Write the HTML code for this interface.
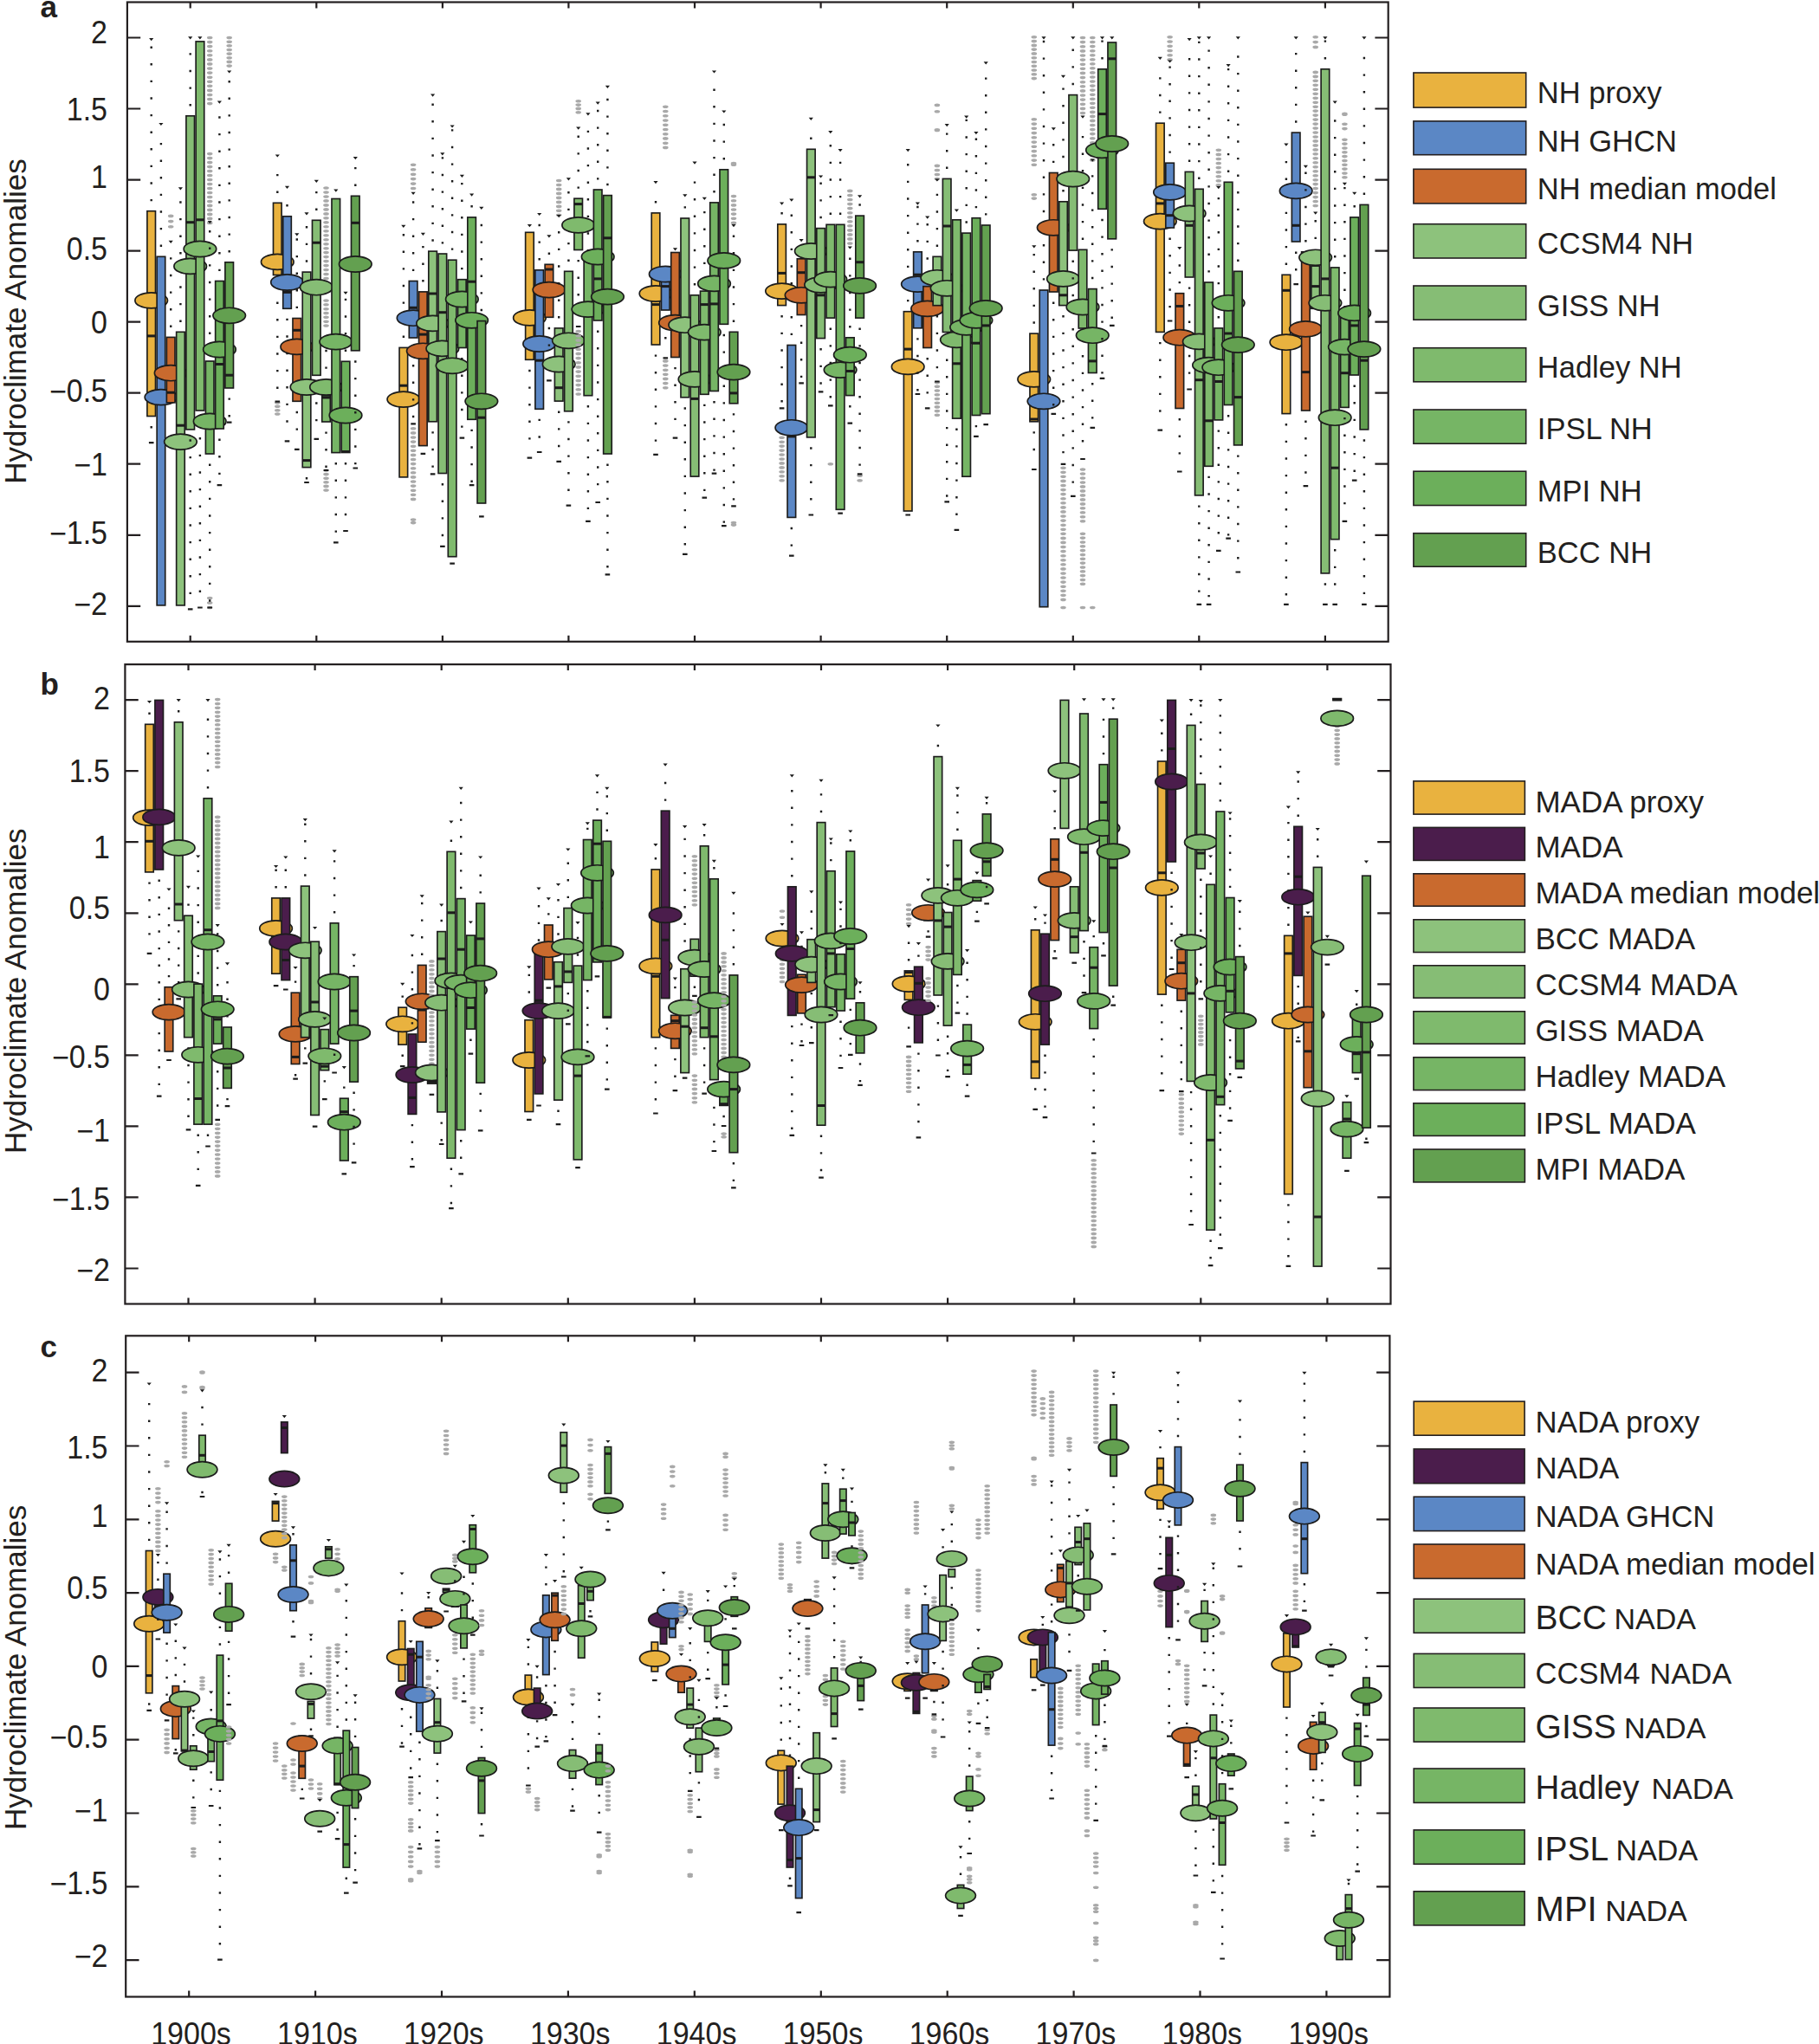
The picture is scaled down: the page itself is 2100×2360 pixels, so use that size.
<!DOCTYPE html>
<html><head><meta charset="utf-8"><style>
html,body{margin:0;padding:0;background:#fff;}
svg{display:block;}
.t{font-family:"Liberation Sans", Arial, sans-serif;font-size:34px;fill:#231f20;}
.yl{font-family:"Liberation Sans", Arial, sans-serif;font-size:35px;fill:#231f20;}
.lg{font-family:"Liberation Sans", Arial, sans-serif;font-size:34.5px;fill:#231f20;}
.pl{font-family:"Liberation Sans", Arial, sans-serif;font-size:35px;font-weight:bold;fill:#231f20;}
.dk{fill:#1c1c1c;}.gr{fill:#a9a9a9;}.bx{stroke:#1c1c1c;stroke-width:1.65px;}.el{stroke:#1c1c1c;stroke-width:1.7px;}.cp{fill:#e9b23f;}.cb{fill:#5b87c5;}.co{fill:#c96a2e;}.cm{fill:#4b1d4c;}.c1{fill:#8dc27c;}.c2{fill:#86bd75;}.c3{fill:#7fba6d;}.c4{fill:#76b565;}.c5{fill:#6caf5b;}.c6{fill:#63a050;}
</style></head><body>
<svg width="2100" height="2360" viewBox="0 0 2100 2360">
<rect x="146.9" y="2.5" width="1455.8" height="738.3" fill="none" stroke="#231f20" stroke-width="2.2"/>
<path d="M146.9 43.5h15.3M1602.7 43.5h-15.3" stroke="#231f20" stroke-width="2.2"/>
<text transform="translate(124.0 49.8) scale(1 1.06)" text-anchor="end" class="t">2</text>
<path d="M146.9 125.5h15.3M1602.7 125.5h-15.3" stroke="#231f20" stroke-width="2.2"/>
<text transform="translate(124.0 139.3) scale(1 1.06)" text-anchor="end" class="t">1.5</text>
<path d="M146.9 207.6h15.3M1602.7 207.6h-15.3" stroke="#231f20" stroke-width="2.2"/>
<text transform="translate(124.0 217.4) scale(1 1.06)" text-anchor="end" class="t">1</text>
<path d="M146.9 289.6h15.3M1602.7 289.6h-15.3" stroke="#231f20" stroke-width="2.2"/>
<text transform="translate(124.0 300.2) scale(1 1.06)" text-anchor="end" class="t">0.5</text>
<path d="M146.9 371.6h15.3M1602.7 371.6h-15.3" stroke="#231f20" stroke-width="2.2"/>
<text transform="translate(124.0 384.9) scale(1 1.06)" text-anchor="end" class="t">0</text>
<path d="M146.9 453.7h15.3M1602.7 453.7h-15.3" stroke="#231f20" stroke-width="2.2"/>
<text transform="translate(124.0 463.7) scale(1 1.06)" text-anchor="end" class="t">−0.5</text>
<path d="M146.9 535.7h15.3M1602.7 535.7h-15.3" stroke="#231f20" stroke-width="2.2"/>
<text transform="translate(124.0 549.1) scale(1 1.06)" text-anchor="end" class="t">−1</text>
<path d="M146.9 617.8h15.3M1602.7 617.8h-15.3" stroke="#231f20" stroke-width="2.2"/>
<text transform="translate(124.0 627.6) scale(1 1.06)" text-anchor="end" class="t">−1.5</text>
<path d="M146.9 699.8h15.3M1602.7 699.8h-15.3" stroke="#231f20" stroke-width="2.2"/>
<text transform="translate(124.0 709.7) scale(1 1.06)" text-anchor="end" class="t">−2</text>
<path d="M219.7 2.5v7M219.7 740.8v-7" stroke="#231f20" stroke-width="2.2"/>
<path d="M365.3 2.5v7M365.3 740.8v-7" stroke="#231f20" stroke-width="2.2"/>
<path d="M510.9 2.5v7M510.9 740.8v-7" stroke="#231f20" stroke-width="2.2"/>
<path d="M656.4 2.5v7M656.4 740.8v-7" stroke="#231f20" stroke-width="2.2"/>
<path d="M802.0 2.5v7M802.0 740.8v-7" stroke="#231f20" stroke-width="2.2"/>
<path d="M947.6 2.5v7M947.6 740.8v-7" stroke="#231f20" stroke-width="2.2"/>
<path d="M1093.2 2.5v7M1093.2 740.8v-7" stroke="#231f20" stroke-width="2.2"/>
<path d="M1238.8 2.5v7M1238.8 740.8v-7" stroke="#231f20" stroke-width="2.2"/>
<path d="M1384.3 2.5v7M1384.3 740.8v-7" stroke="#231f20" stroke-width="2.2"/>
<path d="M1529.9 2.5v7M1529.9 740.8v-7" stroke="#231f20" stroke-width="2.2"/>
<text transform="translate(30 371.0) rotate(-90)" text-anchor="middle" class="yl">Hydroclimate Anomalies</text>
<rect x="144.4" y="767.1" width="1461.1" height="738.4" fill="none" stroke="#231f20" stroke-width="2.2"/>
<path d="M144.4 808.1h15.3M1605.5 808.1h-15.3" stroke="#231f20" stroke-width="2.2"/>
<text transform="translate(127.0 819.0) scale(1 1.06)" text-anchor="end" class="t">2</text>
<path d="M144.4 890.2h15.3M1605.5 890.2h-15.3" stroke="#231f20" stroke-width="2.2"/>
<text transform="translate(127.0 903.2) scale(1 1.06)" text-anchor="end" class="t">1.5</text>
<path d="M144.4 972.2h15.3M1605.5 972.2h-15.3" stroke="#231f20" stroke-width="2.2"/>
<text transform="translate(127.0 990.9) scale(1 1.06)" text-anchor="end" class="t">1</text>
<path d="M144.4 1054.3h15.3M1605.5 1054.3h-15.3" stroke="#231f20" stroke-width="2.2"/>
<text transform="translate(127.0 1061.1) scale(1 1.06)" text-anchor="end" class="t">0.5</text>
<path d="M144.4 1136.3h15.3M1605.5 1136.3h-15.3" stroke="#231f20" stroke-width="2.2"/>
<text transform="translate(127.0 1154.6) scale(1 1.06)" text-anchor="end" class="t">0</text>
<path d="M144.4 1218.3h15.3M1605.5 1218.3h-15.3" stroke="#231f20" stroke-width="2.2"/>
<text transform="translate(127.0 1232.9) scale(1 1.06)" text-anchor="end" class="t">−0.5</text>
<path d="M144.4 1300.4h15.3M1605.5 1300.4h-15.3" stroke="#231f20" stroke-width="2.2"/>
<text transform="translate(127.0 1318.4) scale(1 1.06)" text-anchor="end" class="t">−1</text>
<path d="M144.4 1382.4h15.3M1605.5 1382.4h-15.3" stroke="#231f20" stroke-width="2.2"/>
<text transform="translate(127.0 1396.5) scale(1 1.06)" text-anchor="end" class="t">−1.5</text>
<path d="M144.4 1464.5h15.3M1605.5 1464.5h-15.3" stroke="#231f20" stroke-width="2.2"/>
<text transform="translate(127.0 1479.2) scale(1 1.06)" text-anchor="end" class="t">−2</text>
<path d="M217.5 767.1v7M217.5 1505.5v-7" stroke="#231f20" stroke-width="2.2"/>
<path d="M363.6 767.1v7M363.6 1505.5v-7" stroke="#231f20" stroke-width="2.2"/>
<path d="M509.7 767.1v7M509.7 1505.5v-7" stroke="#231f20" stroke-width="2.2"/>
<path d="M655.8 767.1v7M655.8 1505.5v-7" stroke="#231f20" stroke-width="2.2"/>
<path d="M801.9 767.1v7M801.9 1505.5v-7" stroke="#231f20" stroke-width="2.2"/>
<path d="M948.0 767.1v7M948.0 1505.5v-7" stroke="#231f20" stroke-width="2.2"/>
<path d="M1094.1 767.1v7M1094.1 1505.5v-7" stroke="#231f20" stroke-width="2.2"/>
<path d="M1240.2 767.1v7M1240.2 1505.5v-7" stroke="#231f20" stroke-width="2.2"/>
<path d="M1386.3 767.1v7M1386.3 1505.5v-7" stroke="#231f20" stroke-width="2.2"/>
<path d="M1532.4 767.1v7M1532.4 1505.5v-7" stroke="#231f20" stroke-width="2.2"/>
<text transform="translate(30 1144.3) rotate(-90)" text-anchor="middle" class="yl">Hydroclimate Anomalies</text>
<rect x="145.2" y="1542.3" width="1459.2" height="763.2" fill="none" stroke="#231f20" stroke-width="2.2"/>
<path d="M145.2 1584.7h15.3M1604.4 1584.7h-15.3" stroke="#231f20" stroke-width="2.2"/>
<text transform="translate(124.5 1594.6) scale(1 1.06)" text-anchor="end" class="t">2</text>
<path d="M145.2 1669.5h15.3M1604.4 1669.5h-15.3" stroke="#231f20" stroke-width="2.2"/>
<text transform="translate(124.5 1683.6) scale(1 1.06)" text-anchor="end" class="t">1.5</text>
<path d="M145.2 1754.3h15.3M1604.4 1754.3h-15.3" stroke="#231f20" stroke-width="2.2"/>
<text transform="translate(124.5 1762.5) scale(1 1.06)" text-anchor="end" class="t">1</text>
<path d="M145.2 1839.1h15.3M1604.4 1839.1h-15.3" stroke="#231f20" stroke-width="2.2"/>
<text transform="translate(124.5 1846.3) scale(1 1.06)" text-anchor="end" class="t">0.5</text>
<path d="M145.2 1923.9h15.3M1604.4 1923.9h-15.3" stroke="#231f20" stroke-width="2.2"/>
<text transform="translate(124.5 1937.4) scale(1 1.06)" text-anchor="end" class="t">0</text>
<path d="M145.2 2008.7h15.3M1604.4 2008.7h-15.3" stroke="#231f20" stroke-width="2.2"/>
<text transform="translate(124.5 2018.2) scale(1 1.06)" text-anchor="end" class="t">−0.5</text>
<path d="M145.2 2093.5h15.3M1604.4 2093.5h-15.3" stroke="#231f20" stroke-width="2.2"/>
<text transform="translate(124.5 2103.4) scale(1 1.06)" text-anchor="end" class="t">−1</text>
<path d="M145.2 2178.3h15.3M1604.4 2178.3h-15.3" stroke="#231f20" stroke-width="2.2"/>
<text transform="translate(124.5 2187.2) scale(1 1.06)" text-anchor="end" class="t">−1.5</text>
<path d="M145.2 2263.1h15.3M1604.4 2263.1h-15.3" stroke="#231f20" stroke-width="2.2"/>
<text transform="translate(124.5 2271.0) scale(1 1.06)" text-anchor="end" class="t">−2</text>
<path d="M218.2 1542.3v7M218.2 2305.5v-7" stroke="#231f20" stroke-width="2.2"/>
<path d="M364.1 1542.3v7M364.1 2305.5v-7" stroke="#231f20" stroke-width="2.2"/>
<path d="M510.0 1542.3v7M510.0 2305.5v-7" stroke="#231f20" stroke-width="2.2"/>
<path d="M655.9 1542.3v7M655.9 2305.5v-7" stroke="#231f20" stroke-width="2.2"/>
<path d="M801.8 1542.3v7M801.8 2305.5v-7" stroke="#231f20" stroke-width="2.2"/>
<path d="M947.8 1542.3v7M947.8 2305.5v-7" stroke="#231f20" stroke-width="2.2"/>
<path d="M1093.7 1542.3v7M1093.7 2305.5v-7" stroke="#231f20" stroke-width="2.2"/>
<path d="M1239.6 1542.3v7M1239.6 2305.5v-7" stroke="#231f20" stroke-width="2.2"/>
<path d="M1385.5 1542.3v7M1385.5 2305.5v-7" stroke="#231f20" stroke-width="2.2"/>
<path d="M1531.4 1542.3v7M1531.4 2305.5v-7" stroke="#231f20" stroke-width="2.2"/>
<text transform="translate(30 1925.4) rotate(-90)" text-anchor="middle" class="yl">Hydroclimate Anomalies</text>
<text x="46.5" y="19.8" class="pl">a</text>
<text x="46.5" y="801.5" class="pl">b</text>
<text x="46.5" y="1566.8" class="pl">c</text>
<text transform="translate(220.5 2360.5) scale(1 1.07)" text-anchor="middle" class="t">1900s</text>
<text transform="translate(366.4 2360.5) scale(1 1.07)" text-anchor="middle" class="t">1910s</text>
<text transform="translate(512.3 2360.5) scale(1 1.07)" text-anchor="middle" class="t">1920s</text>
<text transform="translate(658.2 2360.5) scale(1 1.07)" text-anchor="middle" class="t">1930s</text>
<text transform="translate(804.1 2360.5) scale(1 1.07)" text-anchor="middle" class="t">1940s</text>
<text transform="translate(950.1 2360.5) scale(1 1.07)" text-anchor="middle" class="t">1950s</text>
<text transform="translate(1096.0 2360.5) scale(1 1.07)" text-anchor="middle" class="t">1960s</text>
<text transform="translate(1241.9 2360.5) scale(1 1.07)" text-anchor="middle" class="t">1970s</text>
<text transform="translate(1387.8 2360.5) scale(1 1.07)" text-anchor="middle" class="t">1980s</text>
<text transform="translate(1533.7 2360.5) scale(1 1.07)" text-anchor="middle" class="t">1990s</text>
<rect x="1631.9" y="84.0" width="129.8" height="40.1" fill="#e9b23f" stroke="#231f20" stroke-width="1.6"/>
<text x="1774.8" y="119.3" class="lg" style="font-size:34.5px">NH proxy</text>
<rect x="1631.9" y="139.9" width="129.8" height="38.8" fill="#5b87c5" stroke="#231f20" stroke-width="1.6"/>
<text x="1774.8" y="175" class="lg" style="font-size:34.5px">NH GHCN</text>
<rect x="1631.9" y="195.3" width="129.8" height="39.6" fill="#c96a2e" stroke="#231f20" stroke-width="1.6"/>
<text x="1774.8" y="230.2" class="lg" style="font-size:34.5px">NH median model</text>
<rect x="1631.9" y="258.7" width="129.8" height="39.3" fill="#8dc27c" stroke="#231f20" stroke-width="1.6"/>
<text x="1774.8" y="293" class="lg" style="font-size:34.5px">CCSM4 NH</text>
<rect x="1631.9" y="330.0" width="129.8" height="39.2" fill="#86bd75" stroke="#231f20" stroke-width="1.6"/>
<text x="1774.8" y="364.8" class="lg" style="font-size:34.5px">GISS NH</text>
<rect x="1631.9" y="401.7" width="129.8" height="39.1" fill="#7fba6d" stroke="#231f20" stroke-width="1.6"/>
<text x="1774.8" y="436" class="lg" style="font-size:34.5px">Hadley NH</text>
<rect x="1631.9" y="473.0" width="129.8" height="39.2" fill="#76b565" stroke="#231f20" stroke-width="1.6"/>
<text x="1774.8" y="507.3" class="lg" style="font-size:34.5px">IPSL NH</text>
<rect x="1631.9" y="544.2" width="129.8" height="39.3" fill="#6caf5b" stroke="#231f20" stroke-width="1.6"/>
<text x="1774.8" y="578.5" class="lg" style="font-size:34.5px">MPI NH</text>
<rect x="1631.9" y="615.7" width="129.8" height="38.5" fill="#63a050" stroke="#231f20" stroke-width="1.6"/>
<text x="1774.8" y="649.7" class="lg" style="font-size:34.5px">BCC NH</text>
<rect x="1631.9" y="901.9" width="128.5" height="38.2" fill="#e9b23f" stroke="#231f20" stroke-width="1.6"/>
<text x="1772.4" y="937.5" class="lg" style="font-size:35px">MADA proxy</text>
<rect x="1631.9" y="955.4" width="128.5" height="38.0" fill="#4b1d4c" stroke="#231f20" stroke-width="1.6"/>
<text x="1772.4" y="989.7" class="lg" style="font-size:35px">MADA</text>
<rect x="1631.9" y="1008.8" width="128.5" height="37.4" fill="#c96a2e" stroke="#231f20" stroke-width="1.6"/>
<text x="1772.4" y="1043" class="lg" style="font-size:35px">MADA median model</text>
<rect x="1631.9" y="1061.8" width="128.5" height="37.7" fill="#8dc27c" stroke="#231f20" stroke-width="1.6"/>
<text x="1772.4" y="1095.8" class="lg" style="font-size:35px">BCC MADA</text>
<rect x="1631.9" y="1114.8" width="128.5" height="37.4" fill="#86bd75" stroke="#231f20" stroke-width="1.6"/>
<text x="1772.4" y="1148.6" class="lg" style="font-size:35px">CCSM4 MADA</text>
<rect x="1631.9" y="1167.8" width="128.5" height="37.4" fill="#7fba6d" stroke="#231f20" stroke-width="1.6"/>
<text x="1772.4" y="1202.1" class="lg" style="font-size:35px">GISS MADA</text>
<rect x="1631.9" y="1220.8" width="128.5" height="37.8" fill="#76b565" stroke="#231f20" stroke-width="1.6"/>
<text x="1772.4" y="1255.4" class="lg" style="font-size:35px">Hadley MADA</text>
<rect x="1631.9" y="1273.8" width="128.5" height="37.6" fill="#6caf5b" stroke="#231f20" stroke-width="1.6"/>
<text x="1772.4" y="1308.7" class="lg" style="font-size:35px">IPSL MADA</text>
<rect x="1631.9" y="1327.0" width="128.5" height="37.9" fill="#63a050" stroke="#231f20" stroke-width="1.6"/>
<text x="1772.4" y="1361.8" class="lg" style="font-size:35px">MPI MADA</text>
<rect x="1632.2" y="1618.1" width="127.9" height="39.1" fill="#e9b23f" stroke="#231f20" stroke-width="1.6"/>
<text x="1772.6" y="1653.8" class="lg" style="font-size:34.8px">NADA proxy</text>
<rect x="1632.2" y="1673.0" width="127.9" height="39.7" fill="#4b1d4c" stroke="#231f20" stroke-width="1.6"/>
<text x="1772.6" y="1707.3" class="lg" style="font-size:34.8px">NADA</text>
<rect x="1632.2" y="1728.2" width="127.9" height="39.4" fill="#5b87c5" stroke="#231f20" stroke-width="1.6"/>
<text x="1772.6" y="1762.8" class="lg" style="font-size:34.8px">NADA GHCN</text>
<rect x="1632.2" y="1783.0" width="127.9" height="39.5" fill="#c96a2e" stroke="#231f20" stroke-width="1.6"/>
<text x="1772.6" y="1817.7" class="lg" style="font-size:34.8px">NADA median model</text>
<rect x="1632.2" y="1846.2" width="127.9" height="39.1" fill="#8dc27c" stroke="#231f20" stroke-width="1.6"/>
<text x="1772.6" y="1880.5" class="lg" style="font-size:39px">BCC</text>
<text x="1863.5" y="1880.5" class="lg" style="font-size:34px">NADA</text>
<rect x="1632.2" y="1909.4" width="127.9" height="39.1" fill="#86bd75" stroke="#231f20" stroke-width="1.6"/>
<text x="1772.6" y="1944.2" class="lg" style="font-size:34.5px">CCSM4</text>
<text x="1904.6" y="1944.2" class="lg" style="font-size:34px">NADA</text>
<rect x="1632.2" y="1972.0" width="127.9" height="39.1" fill="#7fba6d" stroke="#231f20" stroke-width="1.6"/>
<text x="1772.6" y="2006.6" class="lg" style="font-size:39px">GISS</text>
<text x="1874.9" y="2006.6" class="lg" style="font-size:34px">NADA</text>
<rect x="1632.2" y="2042.0" width="127.9" height="39.4" fill="#76b565" stroke="#231f20" stroke-width="1.6"/>
<text x="1772.6" y="2076.9" class="lg" style="font-size:38.5px">Hadley</text>
<text x="1906.5" y="2076.9" class="lg" style="font-size:34px">NADA</text>
<rect x="1632.2" y="2112.9" width="127.9" height="39.4" fill="#6caf5b" stroke="#231f20" stroke-width="1.6"/>
<text x="1772.6" y="2147.5" class="lg" style="font-size:39px">IPSL</text>
<text x="1865.6" y="2147.5" class="lg" style="font-size:34px">NADA</text>
<rect x="1632.2" y="2183.8" width="127.9" height="39.1" fill="#63a050" stroke="#231f20" stroke-width="1.6"/>
<text x="1772.6" y="2218.4" class="lg" style="font-size:40px">MPI</text>
<text x="1853.2" y="2218.4" class="lg" style="font-size:34px">NADA</text>
<g><path class="dk" d="M173.5 229.9h2.4v2.4h-2.4zM173.5 210.3h2.4v2.4h-2.4zM173.5 190.7h2.4v2.4h-2.4zM173.5 171.1h2.4v2.4h-2.4zM173.5 151.5h2.4v2.4h-2.4zM173.5 131.9h2.4v2.4h-2.4zM173.5 112.3h2.4v2.4h-2.4zM173.5 92.7h2.4v2.4h-2.4zM173.5 73.1h2.4v2.4h-2.4zM173.5 53.5h2.4v2.4h-2.4zM172.1 44.0h5.2l-2.6 3.2zM173.5 492.0h2.4v2.4h-2.4zM171.9 510.1h5.6v2.2h-5.6z"/>
<rect class="bx cp" x="169.89" y="243.7" width="9.60" height="236.8"/>
<rect class="dk" x="169.89" y="386.4" width="9.60" height="3"/>
<ellipse class="el cp" cx="174.69" cy="346.9" rx="18.80" ry="9.05"/>
<path class="dk" d="M184.7 282.5h2.4v2.4h-2.4zM184.7 262.9h2.4v2.4h-2.4zM184.7 243.3h2.4v2.4h-2.4zM184.7 223.7h2.4v2.4h-2.4zM184.7 204.1h2.4v2.4h-2.4zM184.7 184.5h2.4v2.4h-2.4zM184.7 164.9h2.4v2.4h-2.4zM183.3 141.9h5.2l-2.6 3.2z"/>
<rect class="bx cb" x="181.14" y="296.3" width="9.60" height="402.6"/>
<ellipse class="el cb" cx="185.94" cy="458.6" rx="18.80" ry="9.05"/>
<path class="gr" d="M193.9 249.4a3.3 1.8 0 1 0 6.6 0a3.3 1.8 0 1 0-6.6 0zM193.9 255.6a3.3 1.8 0 1 0 6.6 0a3.3 1.8 0 1 0-6.6 0zM193.9 261.7a3.3 1.8 0 1 0 6.6 0a3.3 1.8 0 1 0-6.6 0z"/>
<path class="dk" d="M196.0 375.6h2.4v2.4h-2.4zM196.0 356.0h2.4v2.4h-2.4zM196.0 336.4h2.4v2.4h-2.4zM196.0 316.8h2.4v2.4h-2.4zM196.0 297.2h2.4v2.4h-2.4zM194.6 277.8h5.2l-2.6 3.2z"/>
<rect class="bx co" x="192.39" y="389.4" width="9.60" height="75.5"/>
<rect class="dk" x="192.39" y="451.7" width="9.60" height="3"/>
<ellipse class="el co" cx="197.19" cy="430.7" rx="18.80" ry="9.05"/>
<path class="dk" d="M207.2 369.5h2.4v2.4h-2.4zM207.2 349.9h2.4v2.4h-2.4zM207.2 330.3h2.4v2.4h-2.4zM207.2 310.7h2.4v2.4h-2.4zM207.2 291.1h2.4v2.4h-2.4zM207.2 271.5h2.4v2.4h-2.4zM207.2 251.9h2.4v2.4h-2.4zM207.2 232.3h2.4v2.4h-2.4zM205.8 216.2h5.2l-2.6 3.2z"/>
<rect class="bx c1" x="203.64" y="383.3" width="9.60" height="315.6"/>
<rect class="dk" x="203.64" y="489.7" width="9.60" height="3"/>
<ellipse class="el c1" cx="208.44" cy="510.1" rx="18.80" ry="9.05"/>
<path class="dk" d="M218.5 120.0h2.4v2.4h-2.4zM218.5 100.4h2.4v2.4h-2.4zM218.5 80.8h2.4v2.4h-2.4zM218.5 61.2h2.4v2.4h-2.4zM217.1 42.2h5.2l-2.6 3.2zM218.5 507.3h2.4v2.4h-2.4zM218.5 526.9h2.4v2.4h-2.4zM218.5 546.5h2.4v2.4h-2.4zM218.5 566.1h2.4v2.4h-2.4zM218.5 585.7h2.4v2.4h-2.4zM218.5 605.3h2.4v2.4h-2.4zM218.5 624.9h2.4v2.4h-2.4zM218.5 644.5h2.4v2.4h-2.4zM218.5 664.1h2.4v2.4h-2.4zM218.5 683.7h2.4v2.4h-2.4zM216.9 702.2h5.6v2.2h-5.6z"/>
<rect class="bx c2" x="214.89" y="133.8" width="9.60" height="362.1"/>
<rect class="dk" x="214.89" y="255.2" width="9.60" height="3"/>
<ellipse class="el c2" cx="219.69" cy="307.4" rx="18.80" ry="9.05"/>
<path class="dk" d="M228.3 42.2h5.2l-2.6 3.2zM229.7 485.5h2.4v2.4h-2.4zM229.7 505.1h2.4v2.4h-2.4zM229.7 524.7h2.4v2.4h-2.4zM229.7 544.3h2.4v2.4h-2.4zM229.7 563.9h2.4v2.4h-2.4zM229.7 583.5h2.4v2.4h-2.4zM229.7 603.1h2.4v2.4h-2.4zM229.7 622.7h2.4v2.4h-2.4zM229.7 642.3h2.4v2.4h-2.4zM229.7 661.9h2.4v2.4h-2.4zM229.7 681.5h2.4v2.4h-2.4zM228.1 700.4h5.6v2.2h-5.6z"/>
<rect class="bx c3" x="226.14" y="47.9" width="9.60" height="426.1"/>
<rect class="dk" x="226.14" y="252.3" width="9.60" height="3"/>
<ellipse class="el c3" cx="230.94" cy="287.5" rx="18.80" ry="9.05"/>
<path class="gr" d="M238.9 43.5a3.3 1.8 0 1 0 6.6 0a3.3 1.8 0 1 0-6.6 0zM238.9 48.6a3.3 1.8 0 1 0 6.6 0a3.3 1.8 0 1 0-6.6 0zM238.9 53.6a3.3 1.8 0 1 0 6.6 0a3.3 1.8 0 1 0-6.6 0zM238.9 58.7a3.3 1.8 0 1 0 6.6 0a3.3 1.8 0 1 0-6.6 0zM238.9 63.8a3.3 1.8 0 1 0 6.6 0a3.3 1.8 0 1 0-6.6 0zM238.9 68.9a3.3 1.8 0 1 0 6.6 0a3.3 1.8 0 1 0-6.6 0zM238.9 73.9a3.3 1.8 0 1 0 6.6 0a3.3 1.8 0 1 0-6.6 0zM238.9 79.0a3.3 1.8 0 1 0 6.6 0a3.3 1.8 0 1 0-6.6 0zM238.9 84.1a3.3 1.8 0 1 0 6.6 0a3.3 1.8 0 1 0-6.6 0zM238.9 89.2a3.3 1.8 0 1 0 6.6 0a3.3 1.8 0 1 0-6.6 0zM238.9 94.2a3.3 1.8 0 1 0 6.6 0a3.3 1.8 0 1 0-6.6 0zM238.9 99.3a3.3 1.8 0 1 0 6.6 0a3.3 1.8 0 1 0-6.6 0zM238.9 104.4a3.3 1.8 0 1 0 6.6 0a3.3 1.8 0 1 0-6.6 0zM238.9 109.5a3.3 1.8 0 1 0 6.6 0a3.3 1.8 0 1 0-6.6 0zM238.9 114.5a3.3 1.8 0 1 0 6.6 0a3.3 1.8 0 1 0-6.6 0zM238.9 119.6a3.3 1.8 0 1 0 6.6 0a3.3 1.8 0 1 0-6.6 0zM238.9 177.6a3.3 1.8 0 1 0 6.6 0a3.3 1.8 0 1 0-6.6 0zM238.9 182.6a3.3 1.8 0 1 0 6.6 0a3.3 1.8 0 1 0-6.6 0zM238.9 187.6a3.3 1.8 0 1 0 6.6 0a3.3 1.8 0 1 0-6.6 0zM238.9 192.6a3.3 1.8 0 1 0 6.6 0a3.3 1.8 0 1 0-6.6 0zM238.9 197.5a3.3 1.8 0 1 0 6.6 0a3.3 1.8 0 1 0-6.6 0zM238.9 202.5a3.3 1.8 0 1 0 6.6 0a3.3 1.8 0 1 0-6.6 0zM238.9 207.5a3.3 1.8 0 1 0 6.6 0a3.3 1.8 0 1 0-6.6 0zM238.9 212.5a3.3 1.8 0 1 0 6.6 0a3.3 1.8 0 1 0-6.6 0zM238.9 217.5a3.3 1.8 0 1 0 6.6 0a3.3 1.8 0 1 0-6.6 0zM238.9 222.5a3.3 1.8 0 1 0 6.6 0a3.3 1.8 0 1 0-6.6 0zM238.9 227.5a3.3 1.8 0 1 0 6.6 0a3.3 1.8 0 1 0-6.6 0zM238.9 232.5a3.3 1.8 0 1 0 6.6 0a3.3 1.8 0 1 0-6.6 0zM238.9 237.4a3.3 1.8 0 1 0 6.6 0a3.3 1.8 0 1 0-6.6 0zM238.9 242.4a3.3 1.8 0 1 0 6.6 0a3.3 1.8 0 1 0-6.6 0zM238.9 247.4a3.3 1.8 0 1 0 6.6 0a3.3 1.8 0 1 0-6.6 0zM238.9 252.4a3.3 1.8 0 1 0 6.6 0a3.3 1.8 0 1 0-6.6 0zM238.9 257.4a3.3 1.8 0 1 0 6.6 0a3.3 1.8 0 1 0-6.6 0zM238.9 690.6a3.3 1.8 0 1 0 6.6 0a3.3 1.8 0 1 0-6.6 0zM238.9 696.0a3.3 1.8 0 1 0 6.6 0a3.3 1.8 0 1 0-6.6 0zM238.9 701.5a3.3 1.8 0 1 0 6.6 0a3.3 1.8 0 1 0-6.6 0z"/>
<path class="dk" d="M241.0 403.2h2.4v2.4h-2.4zM241.0 383.6h2.4v2.4h-2.4zM241.0 364.0h2.4v2.4h-2.4zM241.0 344.4h2.4v2.4h-2.4zM241.0 324.8h2.4v2.4h-2.4zM241.0 305.2h2.4v2.4h-2.4zM241.0 285.6h2.4v2.4h-2.4zM241.0 266.0h2.4v2.4h-2.4zM239.6 255.0h5.2l-2.6 3.2zM241.0 535.5h2.4v2.4h-2.4zM241.0 555.1h2.4v2.4h-2.4zM241.0 574.7h2.4v2.4h-2.4zM241.0 594.3h2.4v2.4h-2.4zM241.0 613.9h2.4v2.4h-2.4zM241.0 633.5h2.4v2.4h-2.4zM241.0 653.1h2.4v2.4h-2.4zM241.0 672.7h2.4v2.4h-2.4zM241.0 692.3h2.4v2.4h-2.4zM239.4 700.4h5.6v2.2h-5.6z"/>
<rect class="bx c4" x="237.39" y="417.0" width="9.60" height="107.0"/>
<ellipse class="el c4" cx="242.19" cy="486.5" rx="18.80" ry="9.05"/>
<path class="dk" d="M252.2 310.7h2.4v2.4h-2.4zM252.2 291.1h2.4v2.4h-2.4zM252.2 271.5h2.4v2.4h-2.4zM252.2 251.9h2.4v2.4h-2.4zM252.2 232.3h2.4v2.4h-2.4zM252.2 212.7h2.4v2.4h-2.4zM252.2 193.1h2.4v2.4h-2.4zM252.2 173.5h2.4v2.4h-2.4zM252.2 153.9h2.4v2.4h-2.4zM252.2 134.3h2.4v2.4h-2.4zM250.8 116.5h5.2l-2.6 3.2zM252.2 506.5h2.4v2.4h-2.4zM252.2 526.1h2.4v2.4h-2.4zM252.2 545.7h2.4v2.4h-2.4zM250.6 559.0h5.6v2.2h-5.6z"/>
<rect class="bx c5" x="248.64" y="324.5" width="9.60" height="170.5"/>
<rect class="dk" x="248.64" y="419.0" width="9.60" height="3"/>
<ellipse class="el c5" cx="253.44" cy="403.5" rx="18.80" ry="9.05"/>
<path class="gr" d="M261.4 43.5a3.3 1.8 0 1 0 6.6 0a3.3 1.8 0 1 0-6.6 0zM261.4 48.2a3.3 1.8 0 1 0 6.6 0a3.3 1.8 0 1 0-6.6 0zM261.4 52.8a3.3 1.8 0 1 0 6.6 0a3.3 1.8 0 1 0-6.6 0zM261.4 57.5a3.3 1.8 0 1 0 6.6 0a3.3 1.8 0 1 0-6.6 0zM261.4 62.1a3.3 1.8 0 1 0 6.6 0a3.3 1.8 0 1 0-6.6 0zM261.4 66.8a3.3 1.8 0 1 0 6.6 0a3.3 1.8 0 1 0-6.6 0zM261.4 71.4a3.3 1.8 0 1 0 6.6 0a3.3 1.8 0 1 0-6.6 0zM261.4 76.1a3.3 1.8 0 1 0 6.6 0a3.3 1.8 0 1 0-6.6 0z"/>
<path class="dk" d="M263.5 289.0h2.4v2.4h-2.4zM263.5 269.4h2.4v2.4h-2.4zM263.5 249.8h2.4v2.4h-2.4zM263.5 230.2h2.4v2.4h-2.4zM263.5 210.6h2.4v2.4h-2.4zM263.5 191.0h2.4v2.4h-2.4zM263.5 171.4h2.4v2.4h-2.4zM263.5 151.8h2.4v2.4h-2.4zM263.5 132.2h2.4v2.4h-2.4zM263.5 112.6h2.4v2.4h-2.4zM263.5 93.0h2.4v2.4h-2.4zM262.1 81.4h5.2l-2.6 3.2zM263.5 459.4h2.4v2.4h-2.4zM263.5 479.0h2.4v2.4h-2.4zM261.9 486.5h5.6v2.2h-5.6z"/>
<rect class="bx c6" x="259.89" y="302.8" width="9.60" height="145.2"/>
<rect class="dk" x="259.89" y="431.7" width="9.60" height="3"/>
<ellipse class="el c6" cx="264.69" cy="364.3" rx="18.80" ry="9.05"/>
<path class="gr" d="M317.0 465.0a3.3 1.8 0 1 0 6.6 0a3.3 1.8 0 1 0-6.6 0zM317.0 469.3a3.3 1.8 0 1 0 6.6 0a3.3 1.8 0 1 0-6.6 0zM317.0 473.7a3.3 1.8 0 1 0 6.6 0a3.3 1.8 0 1 0-6.6 0zM317.0 478.0a3.3 1.8 0 1 0 6.6 0a3.3 1.8 0 1 0-6.6 0z"/>
<path class="dk" d="M319.1 220.5h2.4v2.4h-2.4zM319.1 200.9h2.4v2.4h-2.4zM317.7 178.4h5.2l-2.6 3.2zM319.1 328.9h2.4v2.4h-2.4zM319.1 348.5h2.4v2.4h-2.4zM319.1 368.1h2.4v2.4h-2.4zM319.1 387.7h2.4v2.4h-2.4zM319.1 407.3h2.4v2.4h-2.4zM319.1 426.9h2.4v2.4h-2.4zM319.1 446.5h2.4v2.4h-2.4zM317.5 462.5h5.6v2.2h-5.6z"/>
<rect class="bx cp" x="315.47" y="234.3" width="9.60" height="83.2"/>
<ellipse class="el cp" cx="320.27" cy="302.4" rx="18.80" ry="9.05"/>
<path class="dk" d="M330.3 236.0h2.4v2.4h-2.4zM328.9 214.7h5.2l-2.6 3.2zM330.3 367.7h2.4v2.4h-2.4zM330.3 387.3h2.4v2.4h-2.4zM330.3 406.9h2.4v2.4h-2.4zM330.3 426.5h2.4v2.4h-2.4zM330.3 446.1h2.4v2.4h-2.4zM330.3 465.7h2.4v2.4h-2.4zM330.3 485.3h2.4v2.4h-2.4zM328.7 508.3h5.6v2.2h-5.6z"/>
<rect class="bx cb" x="326.72" y="249.8" width="9.60" height="106.5"/>
<rect class="dk" x="326.72" y="335.9" width="9.60" height="3"/>
<ellipse class="el cb" cx="331.52" cy="326.0" rx="18.80" ry="9.05"/>
<path class="dk" d="M341.6 353.7h2.4v2.4h-2.4zM341.6 334.1h2.4v2.4h-2.4zM341.6 314.5h2.4v2.4h-2.4zM341.6 294.9h2.4v2.4h-2.4zM341.6 275.3h2.4v2.4h-2.4zM340.2 269.3h5.2l-2.6 3.2zM341.6 474.8h2.4v2.4h-2.4zM341.6 494.4h2.4v2.4h-2.4zM340.0 517.8h5.6v2.2h-5.6z"/>
<rect class="bx co" x="337.97" y="367.5" width="9.60" height="95.8"/>
<rect class="dk" x="337.97" y="379.8" width="9.60" height="3"/>
<ellipse class="el co" cx="342.77" cy="400.4" rx="18.80" ry="9.05"/>
<path class="dk" d="M352.8 300.3h2.4v2.4h-2.4zM352.8 280.7h2.4v2.4h-2.4zM352.8 261.1h2.4v2.4h-2.4zM351.4 245.2h5.2l-2.6 3.2zM352.8 551.1h2.4v2.4h-2.4zM351.2 555.9h5.6v2.2h-5.6z"/>
<rect class="bx c1" x="349.22" y="314.1" width="9.60" height="225.5"/>
<rect class="dk" x="349.22" y="530.1" width="9.60" height="3"/>
<ellipse class="el c1" cx="354.02" cy="447.0" rx="18.80" ry="9.05"/>
<path class="dk" d="M364.1 240.5h2.4v2.4h-2.4zM364.1 220.9h2.4v2.4h-2.4zM362.7 207.7h5.2l-2.6 3.2zM364.1 444.7h2.4v2.4h-2.4zM364.1 464.3h2.4v2.4h-2.4zM364.1 483.9h2.4v2.4h-2.4zM362.5 505.7h5.6v2.2h-5.6z"/>
<rect class="bx c2" x="360.47" y="254.3" width="9.60" height="179.0"/>
<rect class="dk" x="360.47" y="278.7" width="9.60" height="3"/>
<ellipse class="el c2" cx="365.27" cy="331.7" rx="18.80" ry="9.05"/>
<path class="gr" d="M373.2 217.0a3.3 1.8 0 1 0 6.6 0a3.3 1.8 0 1 0-6.6 0zM373.2 222.0a3.3 1.8 0 1 0 6.6 0a3.3 1.8 0 1 0-6.6 0zM373.2 227.0a3.3 1.8 0 1 0 6.6 0a3.3 1.8 0 1 0-6.6 0zM373.2 231.9a3.3 1.8 0 1 0 6.6 0a3.3 1.8 0 1 0-6.6 0zM373.2 236.9a3.3 1.8 0 1 0 6.6 0a3.3 1.8 0 1 0-6.6 0zM373.2 241.9a3.3 1.8 0 1 0 6.6 0a3.3 1.8 0 1 0-6.6 0zM373.2 246.9a3.3 1.8 0 1 0 6.6 0a3.3 1.8 0 1 0-6.6 0zM373.2 251.8a3.3 1.8 0 1 0 6.6 0a3.3 1.8 0 1 0-6.6 0zM373.2 256.8a3.3 1.8 0 1 0 6.6 0a3.3 1.8 0 1 0-6.6 0zM373.2 261.8a3.3 1.8 0 1 0 6.6 0a3.3 1.8 0 1 0-6.6 0zM373.2 266.8a3.3 1.8 0 1 0 6.6 0a3.3 1.8 0 1 0-6.6 0zM373.2 271.7a3.3 1.8 0 1 0 6.6 0a3.3 1.8 0 1 0-6.6 0zM373.2 276.7a3.3 1.8 0 1 0 6.6 0a3.3 1.8 0 1 0-6.6 0zM373.2 281.7a3.3 1.8 0 1 0 6.6 0a3.3 1.8 0 1 0-6.6 0zM373.2 286.7a3.3 1.8 0 1 0 6.6 0a3.3 1.8 0 1 0-6.6 0zM373.2 291.6a3.3 1.8 0 1 0 6.6 0a3.3 1.8 0 1 0-6.6 0zM373.2 296.6a3.3 1.8 0 1 0 6.6 0a3.3 1.8 0 1 0-6.6 0zM373.2 301.6a3.3 1.8 0 1 0 6.6 0a3.3 1.8 0 1 0-6.6 0zM373.2 306.6a3.3 1.8 0 1 0 6.6 0a3.3 1.8 0 1 0-6.6 0zM373.2 311.5a3.3 1.8 0 1 0 6.6 0a3.3 1.8 0 1 0-6.6 0zM373.2 316.5a3.3 1.8 0 1 0 6.6 0a3.3 1.8 0 1 0-6.6 0zM373.2 321.5a3.3 1.8 0 1 0 6.6 0a3.3 1.8 0 1 0-6.6 0zM373.2 347.0a3.3 1.8 0 1 0 6.6 0a3.3 1.8 0 1 0-6.6 0zM373.2 351.8a3.3 1.8 0 1 0 6.6 0a3.3 1.8 0 1 0-6.6 0zM373.2 356.7a3.3 1.8 0 1 0 6.6 0a3.3 1.8 0 1 0-6.6 0zM373.2 361.5a3.3 1.8 0 1 0 6.6 0a3.3 1.8 0 1 0-6.6 0zM373.2 366.3a3.3 1.8 0 1 0 6.6 0a3.3 1.8 0 1 0-6.6 0zM373.2 371.2a3.3 1.8 0 1 0 6.6 0a3.3 1.8 0 1 0-6.6 0zM373.2 376.0a3.3 1.8 0 1 0 6.6 0a3.3 1.8 0 1 0-6.6 0zM373.2 543.0a3.3 1.8 0 1 0 6.6 0a3.3 1.8 0 1 0-6.6 0zM373.2 547.6a3.3 1.8 0 1 0 6.6 0a3.3 1.8 0 1 0-6.6 0zM373.2 552.2a3.3 1.8 0 1 0 6.6 0a3.3 1.8 0 1 0-6.6 0zM373.2 556.8a3.3 1.8 0 1 0 6.6 0a3.3 1.8 0 1 0-6.6 0zM373.2 561.4a3.3 1.8 0 1 0 6.6 0a3.3 1.8 0 1 0-6.6 0zM373.2 566.0a3.3 1.8 0 1 0 6.6 0a3.3 1.8 0 1 0-6.6 0z"/>
<path class="dk" d="M375.3 443.0h2.4v2.4h-2.4zM375.3 423.4h2.4v2.4h-2.4zM375.3 403.8h2.4v2.4h-2.4zM373.9 398.7h5.2l-2.6 3.2zM375.3 498.4h2.4v2.4h-2.4zM375.3 518.0h2.4v2.4h-2.4zM375.3 537.6h2.4v2.4h-2.4zM373.7 541.9h5.6v2.2h-5.6z"/>
<rect class="bx c3" x="371.72" y="456.8" width="9.60" height="30.2"/>
<rect class="dk" x="371.72" y="457.5" width="9.60" height="3"/>
<ellipse class="el c3" cx="376.52" cy="447.0" rx="18.80" ry="9.05"/>
<path class="dk" d="M385.2 218.5h5.2l-2.6 3.2zM386.6 534.0h2.4v2.4h-2.4zM386.6 553.6h2.4v2.4h-2.4zM386.6 573.2h2.4v2.4h-2.4zM386.6 592.8h2.4v2.4h-2.4zM386.6 612.4h2.4v2.4h-2.4zM385.0 625.3h5.6v2.2h-5.6z"/>
<rect class="bx c4" x="382.97" y="229.5" width="9.60" height="293.1"/>
<ellipse class="el c4" cx="387.77" cy="394.6" rx="18.80" ry="9.05"/>
<path class="dk" d="M397.8 403.5h2.4v2.4h-2.4zM397.8 383.9h2.4v2.4h-2.4zM397.8 364.3h2.4v2.4h-2.4zM397.8 344.7h2.4v2.4h-2.4zM396.4 336.7h5.2l-2.6 3.2zM397.8 534.0h2.4v2.4h-2.4zM397.8 553.6h2.4v2.4h-2.4zM397.8 573.2h2.4v2.4h-2.4zM397.8 592.8h2.4v2.4h-2.4zM396.2 611.9h5.6v2.2h-5.6z"/>
<rect class="bx c5" x="394.22" y="417.3" width="9.60" height="105.2"/>
<rect class="dk" x="394.22" y="520.0" width="9.60" height="3"/>
<ellipse class="el c5" cx="399.02" cy="479.5" rx="18.80" ry="9.05"/>
<path class="dk" d="M409.1 212.5h2.4v2.4h-2.4zM409.1 192.9h2.4v2.4h-2.4zM407.7 181.0h5.2l-2.6 3.2zM409.1 416.3h2.4v2.4h-2.4zM409.1 435.9h2.4v2.4h-2.4zM409.1 455.5h2.4v2.4h-2.4zM409.1 475.1h2.4v2.4h-2.4zM409.1 494.7h2.4v2.4h-2.4zM409.1 514.3h2.4v2.4h-2.4zM409.1 533.9h2.4v2.4h-2.4zM407.5 539.4h5.6v2.2h-5.6z"/>
<rect class="bx c6" x="405.47" y="226.3" width="9.60" height="178.5"/>
<rect class="dk" x="405.47" y="255.8" width="9.60" height="3"/>
<ellipse class="el c6" cx="410.27" cy="305.0" rx="18.80" ry="9.05"/>
<path class="dk" d="M464.7 387.6h2.4v2.4h-2.4zM464.7 368.0h2.4v2.4h-2.4zM464.7 348.4h2.4v2.4h-2.4zM464.7 328.8h2.4v2.4h-2.4zM464.7 309.2h2.4v2.4h-2.4zM464.7 289.6h2.4v2.4h-2.4zM464.7 270.0h2.4v2.4h-2.4zM463.2 259.7h5.2l-2.6 3.2z"/>
<rect class="bx cp" x="461.05" y="401.4" width="9.60" height="149.5"/>
<rect class="dk" x="461.05" y="443.7" width="9.60" height="3"/>
<ellipse class="el cp" cx="465.85" cy="461.1" rx="18.80" ry="9.05"/>
<path class="gr" d="M473.8 190.3a3.3 1.8 0 1 0 6.6 0a3.3 1.8 0 1 0-6.6 0zM473.8 195.7a3.3 1.8 0 1 0 6.6 0a3.3 1.8 0 1 0-6.6 0zM473.8 201.2a3.3 1.8 0 1 0 6.6 0a3.3 1.8 0 1 0-6.6 0zM473.8 206.6a3.3 1.8 0 1 0 6.6 0a3.3 1.8 0 1 0-6.6 0zM473.8 212.1a3.3 1.8 0 1 0 6.6 0a3.3 1.8 0 1 0-6.6 0zM473.8 217.5a3.3 1.8 0 1 0 6.6 0a3.3 1.8 0 1 0-6.6 0zM473.8 494.8a3.3 1.8 0 1 0 6.6 0a3.3 1.8 0 1 0-6.6 0zM473.8 499.9a3.3 1.8 0 1 0 6.6 0a3.3 1.8 0 1 0-6.6 0zM473.8 505.0a3.3 1.8 0 1 0 6.6 0a3.3 1.8 0 1 0-6.6 0zM473.8 510.1a3.3 1.8 0 1 0 6.6 0a3.3 1.8 0 1 0-6.6 0zM473.8 515.2a3.3 1.8 0 1 0 6.6 0a3.3 1.8 0 1 0-6.6 0zM473.8 520.3a3.3 1.8 0 1 0 6.6 0a3.3 1.8 0 1 0-6.6 0zM473.8 525.4a3.3 1.8 0 1 0 6.6 0a3.3 1.8 0 1 0-6.6 0zM473.8 530.5a3.3 1.8 0 1 0 6.6 0a3.3 1.8 0 1 0-6.6 0zM473.8 535.6a3.3 1.8 0 1 0 6.6 0a3.3 1.8 0 1 0-6.6 0zM473.8 540.7a3.3 1.8 0 1 0 6.6 0a3.3 1.8 0 1 0-6.6 0zM473.8 545.8a3.3 1.8 0 1 0 6.6 0a3.3 1.8 0 1 0-6.6 0zM473.8 550.9a3.3 1.8 0 1 0 6.6 0a3.3 1.8 0 1 0-6.6 0zM473.8 556.0a3.3 1.8 0 1 0 6.6 0a3.3 1.8 0 1 0-6.6 0zM473.8 561.1a3.3 1.8 0 1 0 6.6 0a3.3 1.8 0 1 0-6.6 0zM473.8 566.2a3.3 1.8 0 1 0 6.6 0a3.3 1.8 0 1 0-6.6 0zM473.8 571.3a3.3 1.8 0 1 0 6.6 0a3.3 1.8 0 1 0-6.6 0zM473.8 576.4a3.3 1.8 0 1 0 6.6 0a3.3 1.8 0 1 0-6.6 0zM473.8 600.0a3.3 1.8 0 1 0 6.6 0a3.3 1.8 0 1 0-6.6 0zM473.8 603.6a3.3 1.8 0 1 0 6.6 0a3.3 1.8 0 1 0-6.6 0z"/>
<path class="dk" d="M475.9 310.7h2.4v2.4h-2.4zM475.9 291.1h2.4v2.4h-2.4zM475.9 271.5h2.4v2.4h-2.4zM475.9 251.9h2.4v2.4h-2.4zM475.9 232.3h2.4v2.4h-2.4zM474.5 221.7h5.2l-2.6 3.2zM475.9 401.4h2.4v2.4h-2.4zM475.9 421.0h2.4v2.4h-2.4zM475.9 440.6h2.4v2.4h-2.4zM475.9 460.2h2.4v2.4h-2.4zM475.9 479.8h2.4v2.4h-2.4zM474.3 488.3h5.6v2.2h-5.6z"/>
<rect class="bx cb" x="472.30" y="324.5" width="9.60" height="65.5"/>
<rect class="dk" x="472.30" y="353.8" width="9.60" height="3"/>
<ellipse class="el cb" cx="477.10" cy="367.2" rx="18.80" ry="9.05"/>
<path class="dk" d="M487.2 323.1h2.4v2.4h-2.4zM487.2 303.5h2.4v2.4h-2.4zM487.2 283.9h2.4v2.4h-2.4zM485.8 268.8h5.2l-2.6 3.2zM485.6 522.7h5.6v2.2h-5.6z"/>
<rect class="bx co" x="483.55" y="336.9" width="9.60" height="177.7"/>
<rect class="dk" x="483.55" y="384.6" width="9.60" height="3"/>
<ellipse class="el co" cx="488.35" cy="405.3" rx="18.80" ry="9.05"/>
<path class="dk" d="M498.4 276.3h2.4v2.4h-2.4zM498.4 256.7h2.4v2.4h-2.4zM498.4 237.1h2.4v2.4h-2.4zM498.4 217.5h2.4v2.4h-2.4zM498.4 197.9h2.4v2.4h-2.4zM498.4 178.3h2.4v2.4h-2.4zM498.4 158.7h2.4v2.4h-2.4zM498.4 139.1h2.4v2.4h-2.4zM498.4 119.5h2.4v2.4h-2.4zM497.0 108.5h5.2l-2.6 3.2zM498.4 498.2h2.4v2.4h-2.4zM498.4 517.8h2.4v2.4h-2.4zM498.4 537.4h2.4v2.4h-2.4zM496.8 546.3h5.6v2.2h-5.6z"/>
<rect class="bx c1" x="494.80" y="290.1" width="9.60" height="196.7"/>
<rect class="dk" x="494.80" y="337.5" width="9.60" height="3"/>
<ellipse class="el c1" cx="499.60" cy="373.4" rx="18.80" ry="9.05"/>
<path class="dk" d="M509.7 279.2h2.4v2.4h-2.4zM509.7 259.6h2.4v2.4h-2.4zM509.7 240.0h2.4v2.4h-2.4zM509.7 220.4h2.4v2.4h-2.4zM509.7 200.8h2.4v2.4h-2.4zM509.7 181.2h2.4v2.4h-2.4zM508.2 176.3h5.2l-2.6 3.2zM509.7 558.0h2.4v2.4h-2.4zM509.7 577.6h2.4v2.4h-2.4zM509.7 597.2h2.4v2.4h-2.4zM509.7 616.8h2.4v2.4h-2.4zM508.1 629.7h5.6v2.2h-5.6z"/>
<rect class="bx c2" x="506.05" y="293.0" width="9.60" height="253.5"/>
<rect class="dk" x="506.05" y="359.2" width="9.60" height="3"/>
<ellipse class="el c2" cx="510.85" cy="402.4" rx="18.80" ry="9.05"/>
<path class="dk" d="M520.9 286.4h2.4v2.4h-2.4zM520.9 266.8h2.4v2.4h-2.4zM520.9 247.2h2.4v2.4h-2.4zM520.9 227.6h2.4v2.4h-2.4zM520.9 208.0h2.4v2.4h-2.4zM520.9 188.4h2.4v2.4h-2.4zM520.9 168.8h2.4v2.4h-2.4zM520.9 149.2h2.4v2.4h-2.4zM519.5 144.4h5.2l-2.6 3.2zM519.3 649.6h5.6v2.2h-5.6z"/>
<rect class="bx c3" x="517.30" y="300.2" width="9.60" height="342.5"/>
<ellipse class="el c3" cx="522.10" cy="422.3" rx="18.80" ry="9.05"/>
<path class="dk" d="M532.1 308.9h2.4v2.4h-2.4zM532.1 289.3h2.4v2.4h-2.4zM532.1 269.7h2.4v2.4h-2.4zM532.1 250.1h2.4v2.4h-2.4zM532.1 230.5h2.4v2.4h-2.4zM532.1 210.9h2.4v2.4h-2.4zM530.8 201.7h5.2l-2.6 3.2zM532.1 413.0h2.4v2.4h-2.4zM532.1 432.6h2.4v2.4h-2.4zM532.1 452.2h2.4v2.4h-2.4zM532.1 471.8h2.4v2.4h-2.4zM532.1 491.4h2.4v2.4h-2.4zM530.6 504.6h5.6v2.2h-5.6z"/>
<rect class="bx c4" x="528.55" y="322.7" width="9.60" height="78.8"/>
<ellipse class="el c4" cx="533.35" cy="345.5" rx="18.80" ry="9.05"/>
<path class="dk" d="M543.4 237.1h2.4v2.4h-2.4zM542.0 223.5h5.2l-2.6 3.2zM543.4 495.7h2.4v2.4h-2.4zM543.4 515.3h2.4v2.4h-2.4zM543.4 534.9h2.4v2.4h-2.4zM543.4 554.5h2.4v2.4h-2.4zM541.8 559.0h5.6v2.2h-5.6z"/>
<rect class="bx c5" x="539.80" y="250.9" width="9.60" height="233.4"/>
<rect class="dk" x="539.80" y="323.7" width="9.60" height="3"/>
<ellipse class="el c5" cx="544.60" cy="369.8" rx="18.80" ry="9.05"/>
<path class="dk" d="M554.6 356.8h2.4v2.4h-2.4zM554.6 337.2h2.4v2.4h-2.4zM554.6 317.6h2.4v2.4h-2.4zM554.6 298.0h2.4v2.4h-2.4zM554.6 278.4h2.4v2.4h-2.4zM554.6 258.8h2.4v2.4h-2.4zM553.2 238.7h5.2l-2.6 3.2zM553.1 595.3h5.6v2.2h-5.6z"/>
<rect class="bx c6" x="551.05" y="370.6" width="9.60" height="210.4"/>
<rect class="dk" x="551.05" y="480.7" width="9.60" height="3"/>
<ellipse class="el c6" cx="555.85" cy="463.3" rx="18.80" ry="9.05"/>
<path class="dk" d="M608.8 259.0h5.2l-2.6 3.2zM610.2 426.8h2.4v2.4h-2.4zM610.2 446.4h2.4v2.4h-2.4zM610.2 466.0h2.4v2.4h-2.4zM610.2 485.6h2.4v2.4h-2.4zM610.2 505.2h2.4v2.4h-2.4zM608.6 527.5h5.6v2.2h-5.6z"/>
<rect class="bx cp" x="606.63" y="268.3" width="9.60" height="147.0"/>
<ellipse class="el cp" cx="611.43" cy="366.9" rx="18.80" ry="9.05"/>
<path class="dk" d="M621.5 298.0h2.4v2.4h-2.4zM621.5 278.4h2.4v2.4h-2.4zM621.5 258.8h2.4v2.4h-2.4zM620.1 245.9h5.2l-2.6 3.2zM621.5 483.7h2.4v2.4h-2.4zM621.5 503.3h2.4v2.4h-2.4zM619.9 520.9h5.6v2.2h-5.6z"/>
<rect class="bx cb" x="617.88" y="311.8" width="9.60" height="160.5"/>
<rect class="dk" x="617.88" y="414.7" width="9.60" height="3"/>
<ellipse class="el cb" cx="622.68" cy="397.0" rx="18.80" ry="9.05"/>
<path class="dk" d="M632.7 291.5h2.4v2.4h-2.4zM631.3 271.3h5.2l-2.6 3.2zM632.7 377.8h2.4v2.4h-2.4zM632.7 397.4h2.4v2.4h-2.4zM632.7 417.0h2.4v2.4h-2.4zM631.1 438.3h5.6v2.2h-5.6z"/>
<rect class="bx co" x="629.13" y="305.3" width="9.60" height="61.0"/>
<rect class="dk" x="629.13" y="309.5" width="9.60" height="3"/>
<ellipse class="el co" cx="633.93" cy="334.6" rx="18.80" ry="9.05"/>
<path class="gr" d="M641.9 208.5a3.3 1.8 0 1 0 6.6 0a3.3 1.8 0 1 0-6.6 0zM641.9 213.5a3.3 1.8 0 1 0 6.6 0a3.3 1.8 0 1 0-6.6 0zM641.9 218.4a3.3 1.8 0 1 0 6.6 0a3.3 1.8 0 1 0-6.6 0zM641.9 223.4a3.3 1.8 0 1 0 6.6 0a3.3 1.8 0 1 0-6.6 0zM641.9 228.4a3.3 1.8 0 1 0 6.6 0a3.3 1.8 0 1 0-6.6 0zM641.9 233.4a3.3 1.8 0 1 0 6.6 0a3.3 1.8 0 1 0-6.6 0zM641.9 238.4a3.3 1.8 0 1 0 6.6 0a3.3 1.8 0 1 0-6.6 0zM641.9 243.3a3.3 1.8 0 1 0 6.6 0a3.3 1.8 0 1 0-6.6 0zM641.9 248.3a3.3 1.8 0 1 0 6.6 0a3.3 1.8 0 1 0-6.6 0z"/>
<path class="dk" d="M644.0 365.1h2.4v2.4h-2.4zM644.0 345.5h2.4v2.4h-2.4zM644.0 325.9h2.4v2.4h-2.4zM644.0 306.3h2.4v2.4h-2.4zM644.0 286.7h2.4v2.4h-2.4zM644.0 267.1h2.4v2.4h-2.4zM642.6 248.1h5.2l-2.6 3.2zM644.0 474.6h2.4v2.4h-2.4zM644.0 494.2h2.4v2.4h-2.4zM644.0 513.8h2.4v2.4h-2.4zM642.4 531.8h5.6v2.2h-5.6z"/>
<rect class="bx c1" x="640.38" y="378.9" width="9.60" height="84.2"/>
<rect class="dk" x="640.38" y="446.2" width="9.60" height="3"/>
<ellipse class="el c1" cx="645.18" cy="420.5" rx="18.80" ry="9.05"/>
<path class="dk" d="M655.2 299.5h2.4v2.4h-2.4zM655.2 279.9h2.4v2.4h-2.4zM655.2 260.3h2.4v2.4h-2.4zM655.2 240.7h2.4v2.4h-2.4zM655.2 221.1h2.4v2.4h-2.4zM653.8 205.3h5.2l-2.6 3.2zM655.2 486.2h2.4v2.4h-2.4zM655.2 505.8h2.4v2.4h-2.4zM655.2 525.4h2.4v2.4h-2.4zM655.2 545.0h2.4v2.4h-2.4zM655.2 564.6h2.4v2.4h-2.4zM653.6 582.6h5.6v2.2h-5.6z"/>
<rect class="bx c2" x="651.63" y="313.3" width="9.60" height="161.5"/>
<ellipse class="el c2" cx="656.43" cy="393.3" rx="18.80" ry="9.05"/>
<path class="gr" d="M664.4 382.5a3.3 1.8 0 1 0 6.6 0a3.3 1.8 0 1 0-6.6 0zM664.4 387.7a3.3 1.8 0 1 0 6.6 0a3.3 1.8 0 1 0-6.6 0zM664.4 392.9a3.3 1.8 0 1 0 6.6 0a3.3 1.8 0 1 0-6.6 0zM664.4 398.0a3.3 1.8 0 1 0 6.6 0a3.3 1.8 0 1 0-6.6 0zM664.4 403.2a3.3 1.8 0 1 0 6.6 0a3.3 1.8 0 1 0-6.6 0zM664.4 408.4a3.3 1.8 0 1 0 6.6 0a3.3 1.8 0 1 0-6.6 0zM664.4 413.6a3.3 1.8 0 1 0 6.6 0a3.3 1.8 0 1 0-6.6 0zM664.4 418.8a3.3 1.8 0 1 0 6.6 0a3.3 1.8 0 1 0-6.6 0zM664.4 423.9a3.3 1.8 0 1 0 6.6 0a3.3 1.8 0 1 0-6.6 0zM664.4 429.1a3.3 1.8 0 1 0 6.6 0a3.3 1.8 0 1 0-6.6 0zM664.4 434.3a3.3 1.8 0 1 0 6.6 0a3.3 1.8 0 1 0-6.6 0zM664.4 439.5a3.3 1.8 0 1 0 6.6 0a3.3 1.8 0 1 0-6.6 0zM664.4 444.6a3.3 1.8 0 1 0 6.6 0a3.3 1.8 0 1 0-6.6 0zM664.4 449.8a3.3 1.8 0 1 0 6.6 0a3.3 1.8 0 1 0-6.6 0zM664.4 455.0a3.3 1.8 0 1 0 6.6 0a3.3 1.8 0 1 0-6.6 0zM664.4 116.7a3.3 1.8 0 1 0 6.6 0a3.3 1.8 0 1 0-6.6 0zM664.4 121.1a3.3 1.8 0 1 0 6.6 0a3.3 1.8 0 1 0-6.6 0zM664.4 125.4a3.3 1.8 0 1 0 6.6 0a3.3 1.8 0 1 0-6.6 0zM664.4 129.8a3.3 1.8 0 1 0 6.6 0a3.3 1.8 0 1 0-6.6 0z"/>
<path class="dk" d="M666.5 215.4h2.4v2.4h-2.4zM666.5 195.8h2.4v2.4h-2.4zM666.5 176.2h2.4v2.4h-2.4zM666.5 156.6h2.4v2.4h-2.4zM665.1 146.6h5.2l-2.6 3.2zM666.5 299.9h2.4v2.4h-2.4zM666.5 319.5h2.4v2.4h-2.4zM666.5 339.1h2.4v2.4h-2.4zM666.5 358.7h2.4v2.4h-2.4zM664.9 375.9h5.6v2.2h-5.6z"/>
<rect class="bx c3" x="662.88" y="229.2" width="9.60" height="59.3"/>
<rect class="dk" x="662.88" y="234.1" width="9.60" height="3"/>
<ellipse class="el c3" cx="667.68" cy="259.9" rx="18.80" ry="9.05"/>
<path class="dk" d="M677.7 287.9h2.4v2.4h-2.4zM677.7 268.3h2.4v2.4h-2.4zM677.7 248.7h2.4v2.4h-2.4zM677.7 229.1h2.4v2.4h-2.4zM677.7 209.5h2.4v2.4h-2.4zM677.7 189.9h2.4v2.4h-2.4zM677.7 170.3h2.4v2.4h-2.4zM677.7 150.7h2.4v2.4h-2.4zM676.3 130.3h5.2l-2.6 3.2zM677.7 468.1h2.4v2.4h-2.4zM677.7 487.7h2.4v2.4h-2.4zM677.7 507.3h2.4v2.4h-2.4zM677.7 526.9h2.4v2.4h-2.4zM677.7 546.5h2.4v2.4h-2.4zM677.7 566.1h2.4v2.4h-2.4zM677.7 585.7h2.4v2.4h-2.4zM676.1 600.7h5.6v2.2h-5.6z"/>
<rect class="bx c4" x="674.13" y="301.7" width="9.60" height="155.0"/>
<ellipse class="el c4" cx="678.93" cy="357.1" rx="18.80" ry="9.05"/>
<path class="dk" d="M689.0 205.2h2.4v2.4h-2.4zM689.0 185.6h2.4v2.4h-2.4zM689.0 166.0h2.4v2.4h-2.4zM689.0 146.4h2.4v2.4h-2.4zM689.0 126.8h2.4v2.4h-2.4zM687.6 117.6h5.2l-2.6 3.2zM689.0 381.5h2.4v2.4h-2.4zM689.0 401.1h2.4v2.4h-2.4zM689.0 420.7h2.4v2.4h-2.4zM689.0 440.3h2.4v2.4h-2.4zM689.0 459.9h2.4v2.4h-2.4zM689.0 479.5h2.4v2.4h-2.4zM689.0 499.1h2.4v2.4h-2.4zM689.0 518.7h2.4v2.4h-2.4zM689.0 538.3h2.4v2.4h-2.4zM689.0 557.9h2.4v2.4h-2.4zM687.4 578.9h5.6v2.2h-5.6z"/>
<rect class="bx c5" x="685.38" y="219.0" width="9.60" height="151.0"/>
<rect class="dk" x="685.38" y="320.4" width="9.60" height="3"/>
<ellipse class="el c5" cx="690.18" cy="296.5" rx="18.80" ry="9.05"/>
<path class="dk" d="M700.2 211.8h2.4v2.4h-2.4zM700.2 192.2h2.4v2.4h-2.4zM700.2 172.6h2.4v2.4h-2.4zM700.2 153.0h2.4v2.4h-2.4zM700.2 133.4h2.4v2.4h-2.4zM700.2 113.8h2.4v2.4h-2.4zM698.8 98.8h5.2l-2.6 3.2zM700.2 535.5h2.4v2.4h-2.4zM700.2 555.1h2.4v2.4h-2.4zM700.2 574.7h2.4v2.4h-2.4zM700.2 594.3h2.4v2.4h-2.4zM700.2 613.9h2.4v2.4h-2.4zM700.2 633.5h2.4v2.4h-2.4zM700.2 653.1h2.4v2.4h-2.4zM698.6 662.3h5.6v2.2h-5.6z"/>
<rect class="bx c6" x="696.63" y="225.6" width="9.60" height="298.4"/>
<rect class="dk" x="696.63" y="273.3" width="9.60" height="3"/>
<ellipse class="el c6" cx="701.43" cy="342.6" rx="18.80" ry="9.05"/>
<path class="dk" d="M755.8 232.1h2.4v2.4h-2.4zM754.4 209.0h5.2l-2.6 3.2zM755.8 409.4h2.4v2.4h-2.4zM755.8 429.0h2.4v2.4h-2.4zM755.8 448.6h2.4v2.4h-2.4zM755.8 468.2h2.4v2.4h-2.4zM755.8 487.8h2.4v2.4h-2.4zM755.8 507.4h2.4v2.4h-2.4zM754.2 523.8h5.6v2.2h-5.6z"/>
<rect class="bx cp" x="752.21" y="245.9" width="9.60" height="152.1"/>
<rect class="dk" x="752.21" y="350.1" width="9.60" height="3"/>
<ellipse class="el cp" cx="757.01" cy="339.0" rx="18.80" ry="9.05"/>
<path class="gr" d="M765.0 123.3a3.3 1.8 0 1 0 6.6 0a3.3 1.8 0 1 0-6.6 0zM765.0 128.5a3.3 1.8 0 1 0 6.6 0a3.3 1.8 0 1 0-6.6 0zM765.0 133.8a3.3 1.8 0 1 0 6.6 0a3.3 1.8 0 1 0-6.6 0zM765.0 139.0a3.3 1.8 0 1 0 6.6 0a3.3 1.8 0 1 0-6.6 0zM765.0 144.2a3.3 1.8 0 1 0 6.6 0a3.3 1.8 0 1 0-6.6 0zM765.0 149.5a3.3 1.8 0 1 0 6.6 0a3.3 1.8 0 1 0-6.6 0zM765.0 154.7a3.3 1.8 0 1 0 6.6 0a3.3 1.8 0 1 0-6.6 0zM765.0 159.9a3.3 1.8 0 1 0 6.6 0a3.3 1.8 0 1 0-6.6 0zM765.0 165.2a3.3 1.8 0 1 0 6.6 0a3.3 1.8 0 1 0-6.6 0zM765.0 170.4a3.3 1.8 0 1 0 6.6 0a3.3 1.8 0 1 0-6.6 0zM765.0 416.9a3.3 1.8 0 1 0 6.6 0a3.3 1.8 0 1 0-6.6 0zM765.0 422.0a3.3 1.8 0 1 0 6.6 0a3.3 1.8 0 1 0-6.6 0zM765.0 427.2a3.3 1.8 0 1 0 6.6 0a3.3 1.8 0 1 0-6.6 0zM765.0 432.3a3.3 1.8 0 1 0 6.6 0a3.3 1.8 0 1 0-6.6 0zM765.0 437.4a3.3 1.8 0 1 0 6.6 0a3.3 1.8 0 1 0-6.6 0zM765.0 442.6a3.3 1.8 0 1 0 6.6 0a3.3 1.8 0 1 0-6.6 0zM765.0 447.7a3.3 1.8 0 1 0 6.6 0a3.3 1.8 0 1 0-6.6 0z"/>
<path class="dk" d="M767.1 369.5h2.4v2.4h-2.4zM767.1 389.1h2.4v2.4h-2.4zM765.5 412.2h5.6v2.2h-5.6z"/>
<rect class="bx cb" x="763.46" y="312.6" width="9.60" height="45.4"/>
<rect class="dk" x="763.46" y="329.1" width="9.60" height="3"/>
<ellipse class="el cb" cx="768.26" cy="316.5" rx="18.80" ry="9.05"/>
<path class="dk" d="M776.9 286.2h5.2l-2.6 3.2zM778.3 423.9h2.4v2.4h-2.4zM778.3 443.5h2.4v2.4h-2.4zM778.3 463.1h2.4v2.4h-2.4zM778.3 482.7h2.4v2.4h-2.4zM776.7 504.6h5.6v2.2h-5.6z"/>
<rect class="bx co" x="774.71" y="291.5" width="9.60" height="121.0"/>
<ellipse class="el co" cx="779.51" cy="372.7" rx="18.80" ry="9.05"/>
<path class="dk" d="M789.6 238.2h2.4v2.4h-2.4zM788.2 224.2h5.2l-2.6 3.2zM789.6 470.3h2.4v2.4h-2.4zM789.6 489.9h2.4v2.4h-2.4zM789.6 509.5h2.4v2.4h-2.4zM789.6 529.1h2.4v2.4h-2.4zM789.6 548.7h2.4v2.4h-2.4zM789.6 568.3h2.4v2.4h-2.4zM789.6 587.9h2.4v2.4h-2.4zM789.6 607.5h2.4v2.4h-2.4zM789.6 627.1h2.4v2.4h-2.4zM788.0 638.8h5.6v2.2h-5.6z"/>
<rect class="bx c1" x="785.96" y="252.0" width="9.60" height="206.8"/>
<ellipse class="el c1" cx="790.76" cy="375.2" rx="18.80" ry="9.05"/>
<path class="dk" d="M800.8 327.0h2.4v2.4h-2.4zM800.8 307.4h2.4v2.4h-2.4zM800.8 287.8h2.4v2.4h-2.4zM800.8 268.2h2.4v2.4h-2.4zM800.8 248.6h2.4v2.4h-2.4zM800.8 229.0h2.4v2.4h-2.4zM800.8 209.4h2.4v2.4h-2.4zM799.4 186.5h5.2l-2.6 3.2z"/>
<rect class="bx c2" x="797.21" y="340.8" width="9.60" height="209.3"/>
<rect class="dk" x="797.21" y="458.9" width="9.60" height="3"/>
<ellipse class="el c2" cx="802.01" cy="437.9" rx="18.80" ry="9.05"/>
<path class="dk" d="M812.1 322.3h2.4v2.4h-2.4zM812.1 302.7h2.4v2.4h-2.4zM812.1 283.1h2.4v2.4h-2.4zM812.1 263.5h2.4v2.4h-2.4zM812.1 243.9h2.4v2.4h-2.4zM810.7 227.8h5.2l-2.6 3.2zM812.1 466.7h2.4v2.4h-2.4zM812.1 486.3h2.4v2.4h-2.4zM812.1 505.9h2.4v2.4h-2.4zM812.1 525.5h2.4v2.4h-2.4zM812.1 545.1h2.4v2.4h-2.4zM812.1 564.7h2.4v2.4h-2.4zM810.5 573.5h5.6v2.2h-5.6z"/>
<rect class="bx c3" x="808.46" y="336.1" width="9.60" height="119.2"/>
<rect class="dk" x="808.46" y="350.1" width="9.60" height="3"/>
<ellipse class="el c3" cx="813.26" cy="383.6" rx="18.80" ry="9.05"/>
<path class="dk" d="M823.3 220.1h2.4v2.4h-2.4zM823.3 200.5h2.4v2.4h-2.4zM823.3 180.9h2.4v2.4h-2.4zM823.3 161.3h2.4v2.4h-2.4zM823.3 141.7h2.4v2.4h-2.4zM823.3 122.1h2.4v2.4h-2.4zM823.3 102.5h2.4v2.4h-2.4zM821.9 81.4h5.2l-2.6 3.2zM823.3 463.0h2.4v2.4h-2.4zM823.3 482.6h2.4v2.4h-2.4zM823.3 502.2h2.4v2.4h-2.4zM823.3 521.8h2.4v2.4h-2.4zM823.3 541.4h2.4v2.4h-2.4zM821.7 545.6h5.6v2.2h-5.6z"/>
<rect class="bx c4" x="819.71" y="233.9" width="9.60" height="217.6"/>
<rect class="dk" x="819.71" y="349.4" width="9.60" height="3"/>
<ellipse class="el c4" cx="824.51" cy="327.4" rx="18.80" ry="9.05"/>
<path class="dk" d="M834.6 182.0h2.4v2.4h-2.4zM834.6 162.4h2.4v2.4h-2.4zM834.6 142.8h2.4v2.4h-2.4zM833.2 127.4h5.2l-2.6 3.2zM834.6 385.8h2.4v2.4h-2.4zM834.6 405.4h2.4v2.4h-2.4zM834.6 425.0h2.4v2.4h-2.4zM834.6 444.6h2.4v2.4h-2.4zM834.6 464.2h2.4v2.4h-2.4zM834.6 483.8h2.4v2.4h-2.4zM834.6 503.4h2.4v2.4h-2.4zM834.6 523.0h2.4v2.4h-2.4zM834.6 542.6h2.4v2.4h-2.4zM834.6 562.2h2.4v2.4h-2.4zM834.6 581.8h2.4v2.4h-2.4zM834.6 601.4h2.4v2.4h-2.4zM833.0 606.1h5.6v2.2h-5.6z"/>
<rect class="bx c5" x="830.96" y="195.8" width="9.60" height="178.5"/>
<ellipse class="el c5" cx="835.76" cy="300.9" rx="18.80" ry="9.05"/>
<path class="gr" d="M843.7 188.5a3.3 1.8 0 1 0 6.6 0a3.3 1.8 0 1 0-6.6 0zM843.7 190.3a3.3 1.8 0 1 0 6.6 0a3.3 1.8 0 1 0-6.6 0zM843.7 226.6a3.3 1.8 0 1 0 6.6 0a3.3 1.8 0 1 0-6.6 0zM843.7 231.7a3.3 1.8 0 1 0 6.6 0a3.3 1.8 0 1 0-6.6 0zM843.7 236.9a3.3 1.8 0 1 0 6.6 0a3.3 1.8 0 1 0-6.6 0zM843.7 242.0a3.3 1.8 0 1 0 6.6 0a3.3 1.8 0 1 0-6.6 0zM843.7 247.1a3.3 1.8 0 1 0 6.6 0a3.3 1.8 0 1 0-6.6 0zM843.7 252.3a3.3 1.8 0 1 0 6.6 0a3.3 1.8 0 1 0-6.6 0zM843.7 257.4a3.3 1.8 0 1 0 6.6 0a3.3 1.8 0 1 0-6.6 0zM843.7 603.6a3.3 1.8 0 1 0 6.6 0a3.3 1.8 0 1 0-6.6 0zM843.7 606.1a3.3 1.8 0 1 0 6.6 0a3.3 1.8 0 1 0-6.6 0z"/>
<path class="dk" d="M845.8 369.5h2.4v2.4h-2.4zM845.8 349.9h2.4v2.4h-2.4zM845.8 330.3h2.4v2.4h-2.4zM845.8 310.7h2.4v2.4h-2.4zM845.8 291.1h2.4v2.4h-2.4zM845.8 271.5h2.4v2.4h-2.4zM844.4 259.0h5.2l-2.6 3.2zM845.8 477.2h2.4v2.4h-2.4zM845.8 496.8h2.4v2.4h-2.4zM845.8 516.4h2.4v2.4h-2.4zM845.8 536.0h2.4v2.4h-2.4zM845.8 555.6h2.4v2.4h-2.4zM845.8 575.2h2.4v2.4h-2.4zM844.2 583.3h5.6v2.2h-5.6z"/>
<rect class="bx c6" x="842.21" y="383.3" width="9.60" height="82.5"/>
<rect class="dk" x="842.21" y="452.4" width="9.60" height="3"/>
<ellipse class="el c6" cx="847.01" cy="429.6" rx="18.80" ry="9.05"/>
<path class="gr" d="M899.3 500.3a3.3 1.8 0 1 0 6.6 0a3.3 1.8 0 1 0-6.6 0zM899.3 505.2a3.3 1.8 0 1 0 6.6 0a3.3 1.8 0 1 0-6.6 0zM899.3 510.2a3.3 1.8 0 1 0 6.6 0a3.3 1.8 0 1 0-6.6 0zM899.3 515.1a3.3 1.8 0 1 0 6.6 0a3.3 1.8 0 1 0-6.6 0zM899.3 520.1a3.3 1.8 0 1 0 6.6 0a3.3 1.8 0 1 0-6.6 0zM899.3 525.0a3.3 1.8 0 1 0 6.6 0a3.3 1.8 0 1 0-6.6 0zM899.3 530.0a3.3 1.8 0 1 0 6.6 0a3.3 1.8 0 1 0-6.6 0zM899.3 534.9a3.3 1.8 0 1 0 6.6 0a3.3 1.8 0 1 0-6.6 0zM899.3 539.9a3.3 1.8 0 1 0 6.6 0a3.3 1.8 0 1 0-6.6 0zM899.3 544.8a3.3 1.8 0 1 0 6.6 0a3.3 1.8 0 1 0-6.6 0zM899.3 549.8a3.3 1.8 0 1 0 6.6 0a3.3 1.8 0 1 0-6.6 0zM899.3 554.7a3.3 1.8 0 1 0 6.6 0a3.3 1.8 0 1 0-6.6 0z"/>
<path class="dk" d="M901.4 245.1h2.4v2.4h-2.4zM900.0 233.6h5.2l-2.6 3.2zM901.4 364.1h2.4v2.4h-2.4zM901.4 383.7h2.4v2.4h-2.4zM901.4 403.3h2.4v2.4h-2.4zM901.4 422.9h2.4v2.4h-2.4zM901.4 442.5h2.4v2.4h-2.4zM901.4 462.1h2.4v2.4h-2.4zM899.8 470.2h5.6v2.2h-5.6z"/>
<rect class="bx cp" x="897.79" y="258.9" width="9.60" height="93.7"/>
<rect class="dk" x="897.79" y="313.9" width="9.60" height="3"/>
<ellipse class="el cp" cx="902.59" cy="336.1" rx="18.80" ry="9.05"/>
<path class="dk" d="M912.6 384.7h2.4v2.4h-2.4zM912.6 365.1h2.4v2.4h-2.4zM912.6 345.5h2.4v2.4h-2.4zM912.6 325.9h2.4v2.4h-2.4zM912.6 306.3h2.4v2.4h-2.4zM912.6 286.7h2.4v2.4h-2.4zM912.6 267.1h2.4v2.4h-2.4zM912.6 247.5h2.4v2.4h-2.4zM911.2 229.6h5.2l-2.6 3.2zM912.6 608.8h2.4v2.4h-2.4zM912.6 628.4h2.4v2.4h-2.4zM911.0 640.6h5.6v2.2h-5.6z"/>
<rect class="bx cb" x="909.04" y="398.5" width="9.60" height="198.9"/>
<rect class="dk" x="909.04" y="502.4" width="9.60" height="3"/>
<ellipse class="el cb" cx="913.84" cy="493.8" rx="18.80" ry="9.05"/>
<path class="dk" d="M923.9 285.0h2.4v2.4h-2.4zM922.5 276.0h5.2l-2.6 3.2zM923.9 374.9h2.4v2.4h-2.4zM923.9 394.5h2.4v2.4h-2.4zM923.9 414.1h2.4v2.4h-2.4zM923.9 433.7h2.4v2.4h-2.4zM922.3 441.2h5.6v2.2h-5.6z"/>
<rect class="bx co" x="920.29" y="298.8" width="9.60" height="64.7"/>
<rect class="dk" x="920.29" y="313.2" width="9.60" height="3"/>
<ellipse class="el co" cx="925.09" cy="340.8" rx="18.80" ry="9.05"/>
<path class="dk" d="M935.1 158.5h2.4v2.4h-2.4zM933.7 135.7h5.2l-2.6 3.2zM935.1 516.3h2.4v2.4h-2.4zM935.1 535.9h2.4v2.4h-2.4zM935.1 555.5h2.4v2.4h-2.4zM935.1 575.1h2.4v2.4h-2.4zM933.5 593.4h5.6v2.2h-5.6z"/>
<rect class="bx c1" x="931.54" y="172.3" width="9.60" height="332.6"/>
<rect class="dk" x="931.54" y="203.3" width="9.60" height="3"/>
<ellipse class="el c1" cx="936.34" cy="290.0" rx="18.80" ry="9.05"/>
<path class="dk" d="M946.4 249.8h2.4v2.4h-2.4zM946.4 230.2h2.4v2.4h-2.4zM946.4 210.6h2.4v2.4h-2.4zM945.0 202.4h5.2l-2.6 3.2zM946.4 402.1h2.4v2.4h-2.4zM946.4 421.7h2.4v2.4h-2.4zM946.4 441.3h2.4v2.4h-2.4zM944.8 451.3h5.6v2.2h-5.6z"/>
<rect class="bx c2" x="942.79" y="263.6" width="9.60" height="127.0"/>
<rect class="dk" x="942.79" y="339.3" width="9.60" height="3"/>
<ellipse class="el c2" cx="947.59" cy="328.8" rx="18.80" ry="9.05"/>
<path class="gr" d="M955.5 535.8a3.3 1.8 0 1 0 6.6 0a3.3 1.8 0 1 0-6.6 0zM955.5 535.8a3.3 1.8 0 1 0 6.6 0a3.3 1.8 0 1 0-6.6 0z"/>
<path class="dk" d="M957.6 245.5h2.4v2.4h-2.4zM957.6 225.9h2.4v2.4h-2.4zM957.6 206.3h2.4v2.4h-2.4zM957.6 186.7h2.4v2.4h-2.4zM957.6 167.1h2.4v2.4h-2.4zM956.2 151.0h5.2l-2.6 3.2zM957.6 378.6h2.4v2.4h-2.4zM957.6 398.2h2.4v2.4h-2.4zM957.6 417.8h2.4v2.4h-2.4zM957.6 437.4h2.4v2.4h-2.4zM957.6 457.0h2.4v2.4h-2.4zM956.0 467.3h5.6v2.2h-5.6z"/>
<rect class="bx c3" x="954.04" y="259.3" width="9.60" height="107.8"/>
<ellipse class="el c3" cx="958.84" cy="322.6" rx="18.80" ry="9.05"/>
<path class="dk" d="M968.9 245.5h2.4v2.4h-2.4zM968.9 225.9h2.4v2.4h-2.4zM968.9 206.3h2.4v2.4h-2.4zM968.9 186.7h2.4v2.4h-2.4zM967.5 172.0h5.2l-2.6 3.2zM967.3 591.6h5.6v2.2h-5.6z"/>
<rect class="bx c4" x="965.29" y="259.3" width="9.60" height="329.0"/>
<ellipse class="el c4" cx="970.09" cy="427.1" rx="18.80" ry="9.05"/>
<path class="gr" d="M978.0 220.4a3.3 1.8 0 1 0 6.6 0a3.3 1.8 0 1 0-6.6 0zM978.0 225.5a3.3 1.8 0 1 0 6.6 0a3.3 1.8 0 1 0-6.6 0zM978.0 230.5a3.3 1.8 0 1 0 6.6 0a3.3 1.8 0 1 0-6.6 0zM978.0 235.6a3.3 1.8 0 1 0 6.6 0a3.3 1.8 0 1 0-6.6 0zM978.0 240.6a3.3 1.8 0 1 0 6.6 0a3.3 1.8 0 1 0-6.6 0zM978.0 245.7a3.3 1.8 0 1 0 6.6 0a3.3 1.8 0 1 0-6.6 0zM978.0 250.7a3.3 1.8 0 1 0 6.6 0a3.3 1.8 0 1 0-6.6 0zM978.0 255.8a3.3 1.8 0 1 0 6.6 0a3.3 1.8 0 1 0-6.6 0zM978.0 260.8a3.3 1.8 0 1 0 6.6 0a3.3 1.8 0 1 0-6.6 0zM978.0 265.9a3.3 1.8 0 1 0 6.6 0a3.3 1.8 0 1 0-6.6 0zM978.0 270.9a3.3 1.8 0 1 0 6.6 0a3.3 1.8 0 1 0-6.6 0zM978.0 275.9a3.3 1.8 0 1 0 6.6 0a3.3 1.8 0 1 0-6.6 0zM978.0 281.0a3.3 1.8 0 1 0 6.6 0a3.3 1.8 0 1 0-6.6 0z"/>
<path class="dk" d="M980.1 376.0h2.4v2.4h-2.4zM980.1 356.4h2.4v2.4h-2.4zM980.1 336.8h2.4v2.4h-2.4zM980.1 317.2h2.4v2.4h-2.4zM980.1 297.6h2.4v2.4h-2.4zM978.7 284.4h5.2l-2.6 3.2zM980.1 468.1h2.4v2.4h-2.4zM978.5 487.6h5.6v2.2h-5.6z"/>
<rect class="bx c5" x="976.54" y="389.8" width="9.60" height="66.8"/>
<rect class="dk" x="976.54" y="427.0" width="9.60" height="3"/>
<ellipse class="el c5" cx="981.34" cy="409.7" rx="18.80" ry="9.05"/>
<path class="gr" d="M989.3 549.2a3.3 1.8 0 1 0 6.6 0a3.3 1.8 0 1 0-6.6 0zM989.3 554.7a3.3 1.8 0 1 0 6.6 0a3.3 1.8 0 1 0-6.6 0z"/>
<path class="dk" d="M991.4 235.3h2.4v2.4h-2.4zM990.0 225.3h5.2l-2.6 3.2zM991.4 378.6h2.4v2.4h-2.4zM991.4 398.2h2.4v2.4h-2.4zM991.4 417.8h2.4v2.4h-2.4zM991.4 437.4h2.4v2.4h-2.4zM991.4 457.0h2.4v2.4h-2.4zM991.4 476.6h2.4v2.4h-2.4zM991.4 496.2h2.4v2.4h-2.4zM991.4 515.8h2.4v2.4h-2.4zM991.4 535.4h2.4v2.4h-2.4zM989.8 546.3h5.6v2.2h-5.6z"/>
<rect class="bx c6" x="987.79" y="249.1" width="9.60" height="118.0"/>
<rect class="dk" x="987.79" y="301.2" width="9.60" height="3"/>
<ellipse class="el c6" cx="992.59" cy="329.9" rx="18.80" ry="9.05"/>
<path class="dk" d="M1047.0 345.9h2.4v2.4h-2.4zM1047.0 326.3h2.4v2.4h-2.4zM1047.0 306.7h2.4v2.4h-2.4zM1047.0 287.1h2.4v2.4h-2.4zM1047.0 267.5h2.4v2.4h-2.4zM1047.0 247.9h2.4v2.4h-2.4zM1047.0 228.3h2.4v2.4h-2.4zM1047.0 208.7h2.4v2.4h-2.4zM1047.0 189.1h2.4v2.4h-2.4zM1045.6 172.0h5.2l-2.6 3.2zM1045.4 593.4h5.6v2.2h-5.6z"/>
<rect class="bx cp" x="1043.37" y="359.7" width="9.60" height="230.3"/>
<rect class="dk" x="1043.37" y="401.6" width="9.60" height="3"/>
<ellipse class="el cp" cx="1048.17" cy="423.4" rx="18.80" ry="9.05"/>
<path class="dk" d="M1058.2 277.0h2.4v2.4h-2.4zM1058.2 257.4h2.4v2.4h-2.4zM1058.2 237.8h2.4v2.4h-2.4zM1056.8 233.6h5.2l-2.6 3.2zM1058.2 390.2h2.4v2.4h-2.4zM1058.2 409.8h2.4v2.4h-2.4zM1058.2 429.4h2.4v2.4h-2.4zM1058.2 449.0h2.4v2.4h-2.4zM1056.6 453.9h5.6v2.2h-5.6z"/>
<rect class="bx cb" x="1054.62" y="290.8" width="9.60" height="88.0"/>
<rect class="dk" x="1054.62" y="315.7" width="9.60" height="3"/>
<ellipse class="el cb" cx="1059.42" cy="328.1" rx="18.80" ry="9.05"/>
<path class="dk" d="M1069.5 316.9h2.4v2.4h-2.4zM1069.5 297.3h2.4v2.4h-2.4zM1069.5 277.7h2.4v2.4h-2.4zM1069.5 258.1h2.4v2.4h-2.4zM1068.1 249.6h5.2l-2.6 3.2zM1069.5 413.0h2.4v2.4h-2.4zM1069.5 432.6h2.4v2.4h-2.4zM1069.5 452.2h2.4v2.4h-2.4zM1067.9 470.2h5.6v2.2h-5.6z"/>
<rect class="bx co" x="1065.87" y="330.7" width="9.60" height="70.8"/>
<ellipse class="el co" cx="1070.67" cy="356.4" rx="18.80" ry="9.05"/>
<path class="gr" d="M1078.6 121.4a3.3 1.8 0 1 0 6.6 0a3.3 1.8 0 1 0-6.6 0zM1078.6 128.7a3.3 1.8 0 1 0 6.6 0a3.3 1.8 0 1 0-6.6 0zM1078.6 149.7a3.3 1.8 0 1 0 6.6 0a3.3 1.8 0 1 0-6.6 0zM1078.6 150.4a3.3 1.8 0 1 0 6.6 0a3.3 1.8 0 1 0-6.6 0zM1078.6 191.4a3.3 1.8 0 1 0 6.6 0a3.3 1.8 0 1 0-6.6 0zM1078.6 196.5a3.3 1.8 0 1 0 6.6 0a3.3 1.8 0 1 0-6.6 0zM1078.6 201.5a3.3 1.8 0 1 0 6.6 0a3.3 1.8 0 1 0-6.6 0zM1078.6 206.6a3.3 1.8 0 1 0 6.6 0a3.3 1.8 0 1 0-6.6 0zM1078.6 441.6a3.3 1.8 0 1 0 6.6 0a3.3 1.8 0 1 0-6.6 0zM1078.6 446.3a3.3 1.8 0 1 0 6.6 0a3.3 1.8 0 1 0-6.6 0zM1078.6 451.0a3.3 1.8 0 1 0 6.6 0a3.3 1.8 0 1 0-6.6 0zM1078.6 455.7a3.3 1.8 0 1 0 6.6 0a3.3 1.8 0 1 0-6.6 0zM1078.6 460.5a3.3 1.8 0 1 0 6.6 0a3.3 1.8 0 1 0-6.6 0zM1078.6 465.2a3.3 1.8 0 1 0 6.6 0a3.3 1.8 0 1 0-6.6 0zM1078.6 469.9a3.3 1.8 0 1 0 6.6 0a3.3 1.8 0 1 0-6.6 0zM1078.6 474.6a3.3 1.8 0 1 0 6.6 0a3.3 1.8 0 1 0-6.6 0zM1078.6 479.3a3.3 1.8 0 1 0 6.6 0a3.3 1.8 0 1 0-6.6 0z"/>
<path class="dk" d="M1080.7 282.5h2.4v2.4h-2.4zM1080.7 262.9h2.4v2.4h-2.4zM1080.7 243.3h2.4v2.4h-2.4zM1080.7 223.7h2.4v2.4h-2.4zM1079.3 206.4h5.2l-2.6 3.2zM1080.7 364.1h2.4v2.4h-2.4zM1080.7 383.7h2.4v2.4h-2.4zM1080.7 403.3h2.4v2.4h-2.4zM1080.7 422.9h2.4v2.4h-2.4zM1079.1 439.4h5.6v2.2h-5.6z"/>
<rect class="bx c1" x="1077.12" y="296.3" width="9.60" height="56.4"/>
<ellipse class="el c1" cx="1081.92" cy="320.8" rx="18.80" ry="9.05"/>
<path class="dk" d="M1092.0 192.6h2.4v2.4h-2.4zM1092.0 173.0h2.4v2.4h-2.4zM1092.0 153.4h2.4v2.4h-2.4zM1090.6 143.0h5.2l-2.6 3.2zM1092.0 394.9h2.4v2.4h-2.4zM1092.0 414.5h2.4v2.4h-2.4zM1092.0 434.1h2.4v2.4h-2.4zM1092.0 453.7h2.4v2.4h-2.4zM1092.0 473.3h2.4v2.4h-2.4zM1092.0 492.9h2.4v2.4h-2.4zM1092.0 512.5h2.4v2.4h-2.4zM1092.0 532.1h2.4v2.4h-2.4zM1092.0 551.7h2.4v2.4h-2.4zM1092.0 571.3h2.4v2.4h-2.4zM1090.4 578.2h5.6v2.2h-5.6z"/>
<rect class="bx c2" x="1088.37" y="206.4" width="9.60" height="177.1"/>
<rect class="dk" x="1088.37" y="259.5" width="9.60" height="3"/>
<ellipse class="el c2" cx="1093.17" cy="332.8" rx="18.80" ry="9.05"/>
<path class="dk" d="M1101.8 241.6h5.2l-2.6 3.2zM1103.2 494.6h2.4v2.4h-2.4zM1103.2 514.2h2.4v2.4h-2.4zM1103.2 533.8h2.4v2.4h-2.4zM1103.2 553.4h2.4v2.4h-2.4zM1103.2 573.0h2.4v2.4h-2.4zM1103.2 592.6h2.4v2.4h-2.4zM1101.6 610.8h5.6v2.2h-5.6z"/>
<rect class="bx c3" x="1099.62" y="253.8" width="9.60" height="229.3"/>
<rect class="dk" x="1099.62" y="418.3" width="9.60" height="3"/>
<ellipse class="el c3" cx="1104.42" cy="392.3" rx="18.80" ry="9.05"/>
<path class="dk" d="M1114.5 255.3h2.4v2.4h-2.4zM1114.5 235.7h2.4v2.4h-2.4zM1114.5 216.1h2.4v2.4h-2.4zM1114.5 196.5h2.4v2.4h-2.4zM1114.5 176.9h2.4v2.4h-2.4zM1114.5 157.3h2.4v2.4h-2.4zM1114.5 137.7h2.4v2.4h-2.4zM1113.1 133.6h5.2l-2.6 3.2z"/>
<rect class="bx c4" x="1110.87" y="269.1" width="9.60" height="281.1"/>
<ellipse class="el c4" cx="1115.67" cy="377.8" rx="18.80" ry="9.05"/>
<path class="dk" d="M1125.7 237.9h2.4v2.4h-2.4zM1125.7 218.3h2.4v2.4h-2.4zM1125.7 198.7h2.4v2.4h-2.4zM1125.7 179.1h2.4v2.4h-2.4zM1125.7 159.5h2.4v2.4h-2.4zM1124.3 152.0h5.2l-2.6 3.2zM1125.7 490.9h2.4v2.4h-2.4zM1124.1 502.8h5.6v2.2h-5.6z"/>
<rect class="bx c5" x="1122.12" y="251.7" width="9.60" height="227.8"/>
<rect class="dk" x="1122.12" y="394.7" width="9.60" height="3"/>
<ellipse class="el c5" cx="1126.92" cy="369.8" rx="18.80" ry="9.05"/>
<path class="dk" d="M1137.0 246.2h2.4v2.4h-2.4zM1137.0 226.6h2.4v2.4h-2.4zM1137.0 207.0h2.4v2.4h-2.4zM1137.0 187.4h2.4v2.4h-2.4zM1137.0 167.8h2.4v2.4h-2.4zM1137.0 148.2h2.4v2.4h-2.4zM1137.0 128.6h2.4v2.4h-2.4zM1137.0 109.0h2.4v2.4h-2.4zM1137.0 89.4h2.4v2.4h-2.4zM1135.6 71.2h5.2l-2.6 3.2zM1135.4 489.0h5.6v2.2h-5.6z"/>
<rect class="bx c6" x="1133.37" y="260.0" width="9.60" height="217.7"/>
<rect class="dk" x="1133.37" y="374.4" width="9.60" height="3"/>
<ellipse class="el c6" cx="1138.17" cy="356.0" rx="18.80" ry="9.05"/>
<path class="gr" d="M1190.5 42.8a3.3 1.8 0 1 0 6.6 0a3.3 1.8 0 1 0-6.6 0zM1190.5 47.6a3.3 1.8 0 1 0 6.6 0a3.3 1.8 0 1 0-6.6 0zM1190.5 52.4a3.3 1.8 0 1 0 6.6 0a3.3 1.8 0 1 0-6.6 0zM1190.5 57.1a3.3 1.8 0 1 0 6.6 0a3.3 1.8 0 1 0-6.6 0zM1190.5 61.9a3.3 1.8 0 1 0 6.6 0a3.3 1.8 0 1 0-6.6 0zM1190.5 66.7a3.3 1.8 0 1 0 6.6 0a3.3 1.8 0 1 0-6.6 0zM1190.5 71.5a3.3 1.8 0 1 0 6.6 0a3.3 1.8 0 1 0-6.6 0zM1190.5 76.3a3.3 1.8 0 1 0 6.6 0a3.3 1.8 0 1 0-6.6 0zM1190.5 81.0a3.3 1.8 0 1 0 6.6 0a3.3 1.8 0 1 0-6.6 0zM1190.5 85.8a3.3 1.8 0 1 0 6.6 0a3.3 1.8 0 1 0-6.6 0zM1190.5 90.6a3.3 1.8 0 1 0 6.6 0a3.3 1.8 0 1 0-6.6 0zM1190.5 137.8a3.3 1.8 0 1 0 6.6 0a3.3 1.8 0 1 0-6.6 0zM1190.5 143.1a3.3 1.8 0 1 0 6.6 0a3.3 1.8 0 1 0-6.6 0zM1190.5 148.3a3.3 1.8 0 1 0 6.6 0a3.3 1.8 0 1 0-6.6 0zM1190.5 153.6a3.3 1.8 0 1 0 6.6 0a3.3 1.8 0 1 0-6.6 0zM1190.5 158.8a3.3 1.8 0 1 0 6.6 0a3.3 1.8 0 1 0-6.6 0zM1190.5 164.1a3.3 1.8 0 1 0 6.6 0a3.3 1.8 0 1 0-6.6 0zM1190.5 169.3a3.3 1.8 0 1 0 6.6 0a3.3 1.8 0 1 0-6.6 0zM1190.5 174.6a3.3 1.8 0 1 0 6.6 0a3.3 1.8 0 1 0-6.6 0zM1190.5 179.8a3.3 1.8 0 1 0 6.6 0a3.3 1.8 0 1 0-6.6 0zM1190.5 185.1a3.3 1.8 0 1 0 6.6 0a3.3 1.8 0 1 0-6.6 0zM1190.5 190.3a3.3 1.8 0 1 0 6.6 0a3.3 1.8 0 1 0-6.6 0zM1190.5 224.8a3.3 1.8 0 1 0 6.6 0a3.3 1.8 0 1 0-6.6 0zM1190.5 229.1a3.3 1.8 0 1 0 6.6 0a3.3 1.8 0 1 0-6.6 0z"/>
<path class="dk" d="M1192.5 371.3h2.4v2.4h-2.4zM1192.5 351.7h2.4v2.4h-2.4zM1192.5 332.1h2.4v2.4h-2.4zM1192.5 312.5h2.4v2.4h-2.4zM1192.5 292.9h2.4v2.4h-2.4zM1191.2 283.3h5.2l-2.6 3.2zM1192.5 498.2h2.4v2.4h-2.4zM1192.5 517.8h2.4v2.4h-2.4zM1191.0 540.9h5.6v2.2h-5.6z"/>
<rect class="bx cp" x="1188.95" y="385.1" width="9.60" height="101.7"/>
<rect class="dk" x="1188.95" y="482.5" width="9.60" height="3"/>
<ellipse class="el cp" cx="1193.75" cy="437.9" rx="18.80" ry="9.05"/>
<path class="dk" d="M1203.8 321.2h2.4v2.4h-2.4zM1203.8 301.6h2.4v2.4h-2.4zM1203.8 282.0h2.4v2.4h-2.4zM1203.8 262.4h2.4v2.4h-2.4zM1203.8 242.8h2.4v2.4h-2.4zM1203.8 223.2h2.4v2.4h-2.4zM1203.8 203.6h2.4v2.4h-2.4zM1203.8 184.0h2.4v2.4h-2.4zM1203.8 164.4h2.4v2.4h-2.4zM1203.8 144.8h2.4v2.4h-2.4zM1203.8 125.2h2.4v2.4h-2.4zM1203.8 105.6h2.4v2.4h-2.4zM1203.8 86.0h2.4v2.4h-2.4zM1203.8 66.4h2.4v2.4h-2.4zM1203.8 46.8h2.4v2.4h-2.4zM1202.4 42.2h5.2l-2.6 3.2z"/>
<rect class="bx cb" x="1200.20" y="335.0" width="9.60" height="365.7"/>
<ellipse class="el cb" cx="1205.00" cy="463.3" rx="18.80" ry="9.05"/>
<path class="dk" d="M1215.0 185.7h2.4v2.4h-2.4zM1215.0 166.1h2.4v2.4h-2.4zM1213.7 147.3h5.2l-2.6 3.2zM1215.0 348.5h2.4v2.4h-2.4zM1215.0 368.1h2.4v2.4h-2.4zM1215.0 387.7h2.4v2.4h-2.4zM1215.0 407.3h2.4v2.4h-2.4zM1215.0 426.9h2.4v2.4h-2.4zM1215.0 446.5h2.4v2.4h-2.4zM1215.0 466.1h2.4v2.4h-2.4zM1213.5 476.7h5.6v2.2h-5.6z"/>
<rect class="bx co" x="1211.45" y="199.5" width="9.60" height="137.5"/>
<ellipse class="el co" cx="1216.25" cy="262.8" rx="18.80" ry="9.05"/>
<path class="gr" d="M1224.2 540.2a3.3 1.8 0 1 0 6.6 0a3.3 1.8 0 1 0-6.6 0zM1224.2 545.3a3.3 1.8 0 1 0 6.6 0a3.3 1.8 0 1 0-6.6 0zM1224.2 550.3a3.3 1.8 0 1 0 6.6 0a3.3 1.8 0 1 0-6.6 0zM1224.2 555.4a3.3 1.8 0 1 0 6.6 0a3.3 1.8 0 1 0-6.6 0zM1224.2 560.5a3.3 1.8 0 1 0 6.6 0a3.3 1.8 0 1 0-6.6 0zM1224.2 565.6a3.3 1.8 0 1 0 6.6 0a3.3 1.8 0 1 0-6.6 0zM1224.2 570.6a3.3 1.8 0 1 0 6.6 0a3.3 1.8 0 1 0-6.6 0zM1224.2 575.7a3.3 1.8 0 1 0 6.6 0a3.3 1.8 0 1 0-6.6 0zM1224.2 580.8a3.3 1.8 0 1 0 6.6 0a3.3 1.8 0 1 0-6.6 0zM1224.2 585.9a3.3 1.8 0 1 0 6.6 0a3.3 1.8 0 1 0-6.6 0zM1224.2 590.9a3.3 1.8 0 1 0 6.6 0a3.3 1.8 0 1 0-6.6 0zM1224.2 596.0a3.3 1.8 0 1 0 6.6 0a3.3 1.8 0 1 0-6.6 0zM1224.2 601.1a3.3 1.8 0 1 0 6.6 0a3.3 1.8 0 1 0-6.6 0zM1224.2 606.2a3.3 1.8 0 1 0 6.6 0a3.3 1.8 0 1 0-6.6 0zM1224.2 611.2a3.3 1.8 0 1 0 6.6 0a3.3 1.8 0 1 0-6.6 0zM1224.2 616.3a3.3 1.8 0 1 0 6.6 0a3.3 1.8 0 1 0-6.6 0zM1224.2 621.4a3.3 1.8 0 1 0 6.6 0a3.3 1.8 0 1 0-6.6 0zM1224.2 626.4a3.3 1.8 0 1 0 6.6 0a3.3 1.8 0 1 0-6.6 0zM1224.2 631.5a3.3 1.8 0 1 0 6.6 0a3.3 1.8 0 1 0-6.6 0zM1224.2 636.6a3.3 1.8 0 1 0 6.6 0a3.3 1.8 0 1 0-6.6 0zM1224.2 641.7a3.3 1.8 0 1 0 6.6 0a3.3 1.8 0 1 0-6.6 0zM1224.2 646.7a3.3 1.8 0 1 0 6.6 0a3.3 1.8 0 1 0-6.6 0zM1224.2 651.8a3.3 1.8 0 1 0 6.6 0a3.3 1.8 0 1 0-6.6 0zM1224.2 656.9a3.3 1.8 0 1 0 6.6 0a3.3 1.8 0 1 0-6.6 0zM1224.2 662.0a3.3 1.8 0 1 0 6.6 0a3.3 1.8 0 1 0-6.6 0zM1224.2 667.0a3.3 1.8 0 1 0 6.6 0a3.3 1.8 0 1 0-6.6 0zM1224.2 672.1a3.3 1.8 0 1 0 6.6 0a3.3 1.8 0 1 0-6.6 0zM1224.2 677.2a3.3 1.8 0 1 0 6.6 0a3.3 1.8 0 1 0-6.6 0zM1224.2 682.3a3.3 1.8 0 1 0 6.6 0a3.3 1.8 0 1 0-6.6 0zM1224.2 687.3a3.3 1.8 0 1 0 6.6 0a3.3 1.8 0 1 0-6.6 0zM1224.2 692.4a3.3 1.8 0 1 0 6.6 0a3.3 1.8 0 1 0-6.6 0zM1224.2 701.5a3.3 1.8 0 1 0 6.6 0a3.3 1.8 0 1 0-6.6 0zM1224.2 701.5a3.3 1.8 0 1 0 6.6 0a3.3 1.8 0 1 0-6.6 0z"/>
<path class="dk" d="M1226.3 219.0h2.4v2.4h-2.4zM1226.3 199.4h2.4v2.4h-2.4zM1226.3 179.8h2.4v2.4h-2.4zM1226.3 160.2h2.4v2.4h-2.4zM1226.3 140.6h2.4v2.4h-2.4zM1226.3 121.0h2.4v2.4h-2.4zM1226.3 101.4h2.4v2.4h-2.4zM1224.9 86.8h5.2l-2.6 3.2zM1226.3 364.1h2.4v2.4h-2.4zM1226.3 383.7h2.4v2.4h-2.4zM1226.3 403.3h2.4v2.4h-2.4zM1226.3 422.9h2.4v2.4h-2.4zM1226.3 442.5h2.4v2.4h-2.4zM1226.3 462.1h2.4v2.4h-2.4zM1226.3 481.7h2.4v2.4h-2.4zM1226.3 501.3h2.4v2.4h-2.4zM1226.3 520.9h2.4v2.4h-2.4zM1224.7 534.7h5.6v2.2h-5.6z"/>
<rect class="bx c1" x="1222.70" y="232.8" width="9.60" height="119.8"/>
<rect class="dk" x="1222.70" y="339.3" width="9.60" height="3"/>
<ellipse class="el c1" cx="1227.50" cy="321.9" rx="18.80" ry="9.05"/>
<path class="dk" d="M1237.5 95.8h2.4v2.4h-2.4zM1237.5 76.2h2.4v2.4h-2.4zM1237.5 56.6h2.4v2.4h-2.4zM1236.2 42.2h5.2l-2.6 3.2zM1237.5 300.6h2.4v2.4h-2.4zM1237.5 320.2h2.4v2.4h-2.4zM1237.5 339.8h2.4v2.4h-2.4zM1237.5 359.4h2.4v2.4h-2.4zM1237.5 379.0h2.4v2.4h-2.4zM1237.5 398.6h2.4v2.4h-2.4zM1237.5 418.2h2.4v2.4h-2.4zM1237.5 437.8h2.4v2.4h-2.4zM1237.5 457.4h2.4v2.4h-2.4zM1237.5 477.0h2.4v2.4h-2.4zM1237.5 496.6h2.4v2.4h-2.4zM1237.5 516.2h2.4v2.4h-2.4zM1237.5 535.8h2.4v2.4h-2.4zM1237.5 555.4h2.4v2.4h-2.4zM1236.0 571.7h5.6v2.2h-5.6z"/>
<rect class="bx c2" x="1233.95" y="109.6" width="9.60" height="179.5"/>
<ellipse class="el c2" cx="1238.75" cy="206.6" rx="18.80" ry="9.05"/>
<path class="gr" d="M1246.7 43.5a3.3 1.8 0 1 0 6.6 0a3.3 1.8 0 1 0-6.6 0zM1246.7 48.6a3.3 1.8 0 1 0 6.6 0a3.3 1.8 0 1 0-6.6 0zM1246.7 53.7a3.3 1.8 0 1 0 6.6 0a3.3 1.8 0 1 0-6.6 0zM1246.7 58.9a3.3 1.8 0 1 0 6.6 0a3.3 1.8 0 1 0-6.6 0zM1246.7 64.0a3.3 1.8 0 1 0 6.6 0a3.3 1.8 0 1 0-6.6 0zM1246.7 69.1a3.3 1.8 0 1 0 6.6 0a3.3 1.8 0 1 0-6.6 0zM1246.7 74.2a3.3 1.8 0 1 0 6.6 0a3.3 1.8 0 1 0-6.6 0zM1246.7 79.3a3.3 1.8 0 1 0 6.6 0a3.3 1.8 0 1 0-6.6 0zM1246.7 84.4a3.3 1.8 0 1 0 6.6 0a3.3 1.8 0 1 0-6.6 0zM1246.7 89.6a3.3 1.8 0 1 0 6.6 0a3.3 1.8 0 1 0-6.6 0zM1246.7 94.7a3.3 1.8 0 1 0 6.6 0a3.3 1.8 0 1 0-6.6 0zM1246.7 99.8a3.3 1.8 0 1 0 6.6 0a3.3 1.8 0 1 0-6.6 0zM1246.7 104.9a3.3 1.8 0 1 0 6.6 0a3.3 1.8 0 1 0-6.6 0zM1246.7 110.0a3.3 1.8 0 1 0 6.6 0a3.3 1.8 0 1 0-6.6 0zM1246.7 115.1a3.3 1.8 0 1 0 6.6 0a3.3 1.8 0 1 0-6.6 0zM1246.7 120.3a3.3 1.8 0 1 0 6.6 0a3.3 1.8 0 1 0-6.6 0zM1246.7 125.4a3.3 1.8 0 1 0 6.6 0a3.3 1.8 0 1 0-6.6 0zM1246.7 130.5a3.3 1.8 0 1 0 6.6 0a3.3 1.8 0 1 0-6.6 0zM1246.7 542.0a3.3 1.8 0 1 0 6.6 0a3.3 1.8 0 1 0-6.6 0zM1246.7 547.0a3.3 1.8 0 1 0 6.6 0a3.3 1.8 0 1 0-6.6 0zM1246.7 552.0a3.3 1.8 0 1 0 6.6 0a3.3 1.8 0 1 0-6.6 0zM1246.7 557.0a3.3 1.8 0 1 0 6.6 0a3.3 1.8 0 1 0-6.6 0zM1246.7 561.9a3.3 1.8 0 1 0 6.6 0a3.3 1.8 0 1 0-6.6 0zM1246.7 566.9a3.3 1.8 0 1 0 6.6 0a3.3 1.8 0 1 0-6.6 0zM1246.7 571.9a3.3 1.8 0 1 0 6.6 0a3.3 1.8 0 1 0-6.6 0zM1246.7 576.9a3.3 1.8 0 1 0 6.6 0a3.3 1.8 0 1 0-6.6 0zM1246.7 581.9a3.3 1.8 0 1 0 6.6 0a3.3 1.8 0 1 0-6.6 0zM1246.7 586.8a3.3 1.8 0 1 0 6.6 0a3.3 1.8 0 1 0-6.6 0zM1246.7 591.8a3.3 1.8 0 1 0 6.6 0a3.3 1.8 0 1 0-6.6 0zM1246.7 596.8a3.3 1.8 0 1 0 6.6 0a3.3 1.8 0 1 0-6.6 0zM1246.7 601.8a3.3 1.8 0 1 0 6.6 0a3.3 1.8 0 1 0-6.6 0zM1246.7 616.3a3.3 1.8 0 1 0 6.6 0a3.3 1.8 0 1 0-6.6 0zM1246.7 621.1a3.3 1.8 0 1 0 6.6 0a3.3 1.8 0 1 0-6.6 0zM1246.7 626.0a3.3 1.8 0 1 0 6.6 0a3.3 1.8 0 1 0-6.6 0zM1246.7 630.8a3.3 1.8 0 1 0 6.6 0a3.3 1.8 0 1 0-6.6 0zM1246.7 635.6a3.3 1.8 0 1 0 6.6 0a3.3 1.8 0 1 0-6.6 0zM1246.7 640.5a3.3 1.8 0 1 0 6.6 0a3.3 1.8 0 1 0-6.6 0zM1246.7 645.3a3.3 1.8 0 1 0 6.6 0a3.3 1.8 0 1 0-6.6 0zM1246.7 650.1a3.3 1.8 0 1 0 6.6 0a3.3 1.8 0 1 0-6.6 0zM1246.7 655.0a3.3 1.8 0 1 0 6.6 0a3.3 1.8 0 1 0-6.6 0zM1246.7 659.8a3.3 1.8 0 1 0 6.6 0a3.3 1.8 0 1 0-6.6 0zM1246.7 664.6a3.3 1.8 0 1 0 6.6 0a3.3 1.8 0 1 0-6.6 0zM1246.7 669.5a3.3 1.8 0 1 0 6.6 0a3.3 1.8 0 1 0-6.6 0zM1246.7 674.3a3.3 1.8 0 1 0 6.6 0a3.3 1.8 0 1 0-6.6 0zM1246.7 701.5a3.3 1.8 0 1 0 6.6 0a3.3 1.8 0 1 0-6.6 0zM1246.7 701.5a3.3 1.8 0 1 0 6.6 0a3.3 1.8 0 1 0-6.6 0z"/>
<path class="dk" d="M1248.8 274.5h2.4v2.4h-2.4zM1248.8 254.9h2.4v2.4h-2.4zM1248.8 235.3h2.4v2.4h-2.4zM1248.8 215.7h2.4v2.4h-2.4zM1248.8 196.1h2.4v2.4h-2.4zM1248.8 176.5h2.4v2.4h-2.4zM1248.8 156.9h2.4v2.4h-2.4zM1247.4 133.6h5.2l-2.6 3.2zM1248.8 390.5h2.4v2.4h-2.4zM1248.8 410.1h2.4v2.4h-2.4zM1248.8 429.7h2.4v2.4h-2.4zM1248.8 449.3h2.4v2.4h-2.4zM1248.8 468.9h2.4v2.4h-2.4zM1248.8 488.5h2.4v2.4h-2.4zM1248.8 508.1h2.4v2.4h-2.4zM1247.2 528.9h5.6v2.2h-5.6z"/>
<rect class="bx c3" x="1245.20" y="288.3" width="9.60" height="90.7"/>
<ellipse class="el c3" cx="1250.00" cy="354.5" rx="18.80" ry="9.05"/>
<path class="gr" d="M1258.0 43.5a3.3 1.8 0 1 0 6.6 0a3.3 1.8 0 1 0-6.6 0zM1258.0 48.5a3.3 1.8 0 1 0 6.6 0a3.3 1.8 0 1 0-6.6 0zM1258.0 53.6a3.3 1.8 0 1 0 6.6 0a3.3 1.8 0 1 0-6.6 0zM1258.0 58.7a3.3 1.8 0 1 0 6.6 0a3.3 1.8 0 1 0-6.6 0zM1258.0 63.7a3.3 1.8 0 1 0 6.6 0a3.3 1.8 0 1 0-6.6 0zM1258.0 68.8a3.3 1.8 0 1 0 6.6 0a3.3 1.8 0 1 0-6.6 0zM1258.0 73.8a3.3 1.8 0 1 0 6.6 0a3.3 1.8 0 1 0-6.6 0zM1258.0 78.8a3.3 1.8 0 1 0 6.6 0a3.3 1.8 0 1 0-6.6 0zM1258.0 83.9a3.3 1.8 0 1 0 6.6 0a3.3 1.8 0 1 0-6.6 0zM1258.0 89.0a3.3 1.8 0 1 0 6.6 0a3.3 1.8 0 1 0-6.6 0zM1258.0 94.0a3.3 1.8 0 1 0 6.6 0a3.3 1.8 0 1 0-6.6 0zM1258.0 99.1a3.3 1.8 0 1 0 6.6 0a3.3 1.8 0 1 0-6.6 0zM1258.0 104.1a3.3 1.8 0 1 0 6.6 0a3.3 1.8 0 1 0-6.6 0zM1258.0 109.2a3.3 1.8 0 1 0 6.6 0a3.3 1.8 0 1 0-6.6 0zM1258.0 114.2a3.3 1.8 0 1 0 6.6 0a3.3 1.8 0 1 0-6.6 0zM1258.0 119.2a3.3 1.8 0 1 0 6.6 0a3.3 1.8 0 1 0-6.6 0zM1258.0 124.3a3.3 1.8 0 1 0 6.6 0a3.3 1.8 0 1 0-6.6 0zM1258.0 129.4a3.3 1.8 0 1 0 6.6 0a3.3 1.8 0 1 0-6.6 0zM1258.0 134.4a3.3 1.8 0 1 0 6.6 0a3.3 1.8 0 1 0-6.6 0zM1258.0 139.4a3.3 1.8 0 1 0 6.6 0a3.3 1.8 0 1 0-6.6 0zM1258.0 144.5a3.3 1.8 0 1 0 6.6 0a3.3 1.8 0 1 0-6.6 0zM1258.0 149.6a3.3 1.8 0 1 0 6.6 0a3.3 1.8 0 1 0-6.6 0zM1258.0 154.6a3.3 1.8 0 1 0 6.6 0a3.3 1.8 0 1 0-6.6 0zM1258.0 159.7a3.3 1.8 0 1 0 6.6 0a3.3 1.8 0 1 0-6.6 0zM1258.0 164.7a3.3 1.8 0 1 0 6.6 0a3.3 1.8 0 1 0-6.6 0zM1258.0 169.8a3.3 1.8 0 1 0 6.6 0a3.3 1.8 0 1 0-6.6 0zM1258.0 174.8a3.3 1.8 0 1 0 6.6 0a3.3 1.8 0 1 0-6.6 0zM1258.0 179.8a3.3 1.8 0 1 0 6.6 0a3.3 1.8 0 1 0-6.6 0zM1258.0 184.9a3.3 1.8 0 1 0 6.6 0a3.3 1.8 0 1 0-6.6 0zM1258.0 701.5a3.3 1.8 0 1 0 6.6 0a3.3 1.8 0 1 0-6.6 0zM1258.0 701.5a3.3 1.8 0 1 0 6.6 0a3.3 1.8 0 1 0-6.6 0z"/>
<path class="dk" d="M1260.0 319.8h2.4v2.4h-2.4zM1260.0 300.2h2.4v2.4h-2.4zM1260.0 280.6h2.4v2.4h-2.4zM1260.0 261.0h2.4v2.4h-2.4zM1260.0 241.4h2.4v2.4h-2.4zM1260.0 221.8h2.4v2.4h-2.4zM1260.0 202.2h2.4v2.4h-2.4zM1258.7 183.6h5.2l-2.6 3.2zM1260.0 442.0h2.4v2.4h-2.4zM1260.0 461.6h2.4v2.4h-2.4zM1260.0 481.2h2.4v2.4h-2.4zM1258.5 492.7h5.6v2.2h-5.6z"/>
<rect class="bx c4" x="1256.45" y="333.6" width="9.60" height="96.9"/>
<rect class="dk" x="1256.45" y="415.4" width="9.60" height="3"/>
<ellipse class="el c4" cx="1261.25" cy="387.2" rx="18.80" ry="9.05"/>
<path class="dk" d="M1271.3 66.0h2.4v2.4h-2.4zM1271.3 46.4h2.4v2.4h-2.4zM1269.9 42.2h5.2l-2.6 3.2zM1271.3 252.8h2.4v2.4h-2.4zM1271.3 272.4h2.4v2.4h-2.4zM1271.3 292.0h2.4v2.4h-2.4zM1271.3 311.6h2.4v2.4h-2.4zM1271.3 331.2h2.4v2.4h-2.4zM1271.3 350.8h2.4v2.4h-2.4zM1271.3 370.4h2.4v2.4h-2.4zM1271.3 390.0h2.4v2.4h-2.4zM1271.3 409.6h2.4v2.4h-2.4zM1271.3 429.2h2.4v2.4h-2.4zM1269.7 435.7h5.6v2.2h-5.6z"/>
<rect class="bx c5" x="1267.70" y="79.8" width="9.60" height="161.5"/>
<rect class="dk" x="1267.70" y="130.1" width="9.60" height="3"/>
<ellipse class="el c5" cx="1272.50" cy="173.3" rx="18.80" ry="9.05"/>
<path class="dk" d="M1281.2 42.2h5.2l-2.6 3.2zM1282.5 287.2h2.4v2.4h-2.4zM1282.5 306.8h2.4v2.4h-2.4zM1282.5 326.4h2.4v2.4h-2.4zM1282.5 346.0h2.4v2.4h-2.4zM1282.5 365.6h2.4v2.4h-2.4zM1281.0 374.8h5.6v2.2h-5.6z"/>
<rect class="bx c6" x="1278.95" y="49.0" width="9.60" height="226.8"/>
<rect class="dk" x="1278.95" y="66.3" width="9.60" height="3"/>
<ellipse class="el c6" cx="1283.75" cy="166.0" rx="18.80" ry="9.05"/>
<path class="dk" d="M1338.1 128.4h2.4v2.4h-2.4zM1338.1 108.8h2.4v2.4h-2.4zM1338.1 89.2h2.4v2.4h-2.4zM1336.7 65.8h5.2l-2.6 3.2zM1338.1 394.9h2.4v2.4h-2.4zM1338.1 414.5h2.4v2.4h-2.4zM1338.1 434.1h2.4v2.4h-2.4zM1338.1 453.7h2.4v2.4h-2.4zM1338.1 473.3h2.4v2.4h-2.4zM1336.5 495.6h5.6v2.2h-5.6z"/>
<rect class="bx cp" x="1334.53" y="142.2" width="9.60" height="241.2"/>
<rect class="dk" x="1334.53" y="233.4" width="9.60" height="3"/>
<ellipse class="el cp" cx="1339.33" cy="255.6" rx="18.80" ry="9.05"/>
<path class="gr" d="M1347.3 42.8a3.3 1.8 0 1 0 6.6 0a3.3 1.8 0 1 0-6.6 0zM1347.3 48.0a3.3 1.8 0 1 0 6.6 0a3.3 1.8 0 1 0-6.6 0zM1347.3 53.2a3.3 1.8 0 1 0 6.6 0a3.3 1.8 0 1 0-6.6 0zM1347.3 58.5a3.3 1.8 0 1 0 6.6 0a3.3 1.8 0 1 0-6.6 0zM1347.3 63.7a3.3 1.8 0 1 0 6.6 0a3.3 1.8 0 1 0-6.6 0zM1347.3 68.9a3.3 1.8 0 1 0 6.6 0a3.3 1.8 0 1 0-6.6 0z"/>
<path class="dk" d="M1349.4 174.4h2.4v2.4h-2.4zM1349.4 154.8h2.4v2.4h-2.4zM1349.4 135.2h2.4v2.4h-2.4zM1349.4 115.6h2.4v2.4h-2.4zM1349.4 96.0h2.4v2.4h-2.4zM1349.4 76.4h2.4v2.4h-2.4zM1348.0 69.4h5.2l-2.6 3.2zM1349.4 274.5h2.4v2.4h-2.4zM1349.4 294.1h2.4v2.4h-2.4zM1349.4 313.7h2.4v2.4h-2.4zM1349.4 333.3h2.4v2.4h-2.4zM1349.4 352.9h2.4v2.4h-2.4zM1347.8 369.4h5.6v2.2h-5.6z"/>
<rect class="bx cb" x="1345.78" y="188.2" width="9.60" height="74.8"/>
<rect class="dk" x="1345.78" y="247.2" width="9.60" height="3"/>
<ellipse class="el cb" cx="1350.58" cy="221.9" rx="18.80" ry="9.05"/>
<path class="dk" d="M1360.6 324.9h2.4v2.4h-2.4zM1360.6 305.3h2.4v2.4h-2.4zM1359.2 285.1h5.2l-2.6 3.2zM1360.6 483.0h2.4v2.4h-2.4zM1360.6 502.6h2.4v2.4h-2.4zM1360.6 522.2h2.4v2.4h-2.4zM1359.0 543.4h5.6v2.2h-5.6z"/>
<rect class="bx co" x="1357.03" y="338.7" width="9.60" height="132.8"/>
<rect class="dk" x="1357.03" y="352.0" width="9.60" height="3"/>
<ellipse class="el co" cx="1361.83" cy="389.7" rx="18.80" ry="9.05"/>
<path class="dk" d="M1371.9 184.6h2.4v2.4h-2.4zM1371.9 165.0h2.4v2.4h-2.4zM1371.9 145.4h2.4v2.4h-2.4zM1371.9 125.8h2.4v2.4h-2.4zM1371.9 106.2h2.4v2.4h-2.4zM1371.9 86.6h2.4v2.4h-2.4zM1371.9 67.0h2.4v2.4h-2.4zM1370.5 44.0h5.2l-2.6 3.2zM1371.9 331.4h2.4v2.4h-2.4zM1371.9 351.0h2.4v2.4h-2.4zM1371.9 370.6h2.4v2.4h-2.4zM1371.9 390.2h2.4v2.4h-2.4zM1371.9 409.8h2.4v2.4h-2.4zM1371.9 429.4h2.4v2.4h-2.4zM1370.3 448.4h5.6v2.2h-5.6z"/>
<rect class="bx c1" x="1368.28" y="198.4" width="9.60" height="121.6"/>
<rect class="dk" x="1368.28" y="258.8" width="9.60" height="3"/>
<ellipse class="el c1" cx="1373.08" cy="246.5" rx="18.80" ry="9.05"/>
<path class="dk" d="M1383.1 204.5h2.4v2.4h-2.4zM1383.1 184.9h2.4v2.4h-2.4zM1383.1 165.3h2.4v2.4h-2.4zM1383.1 145.7h2.4v2.4h-2.4zM1383.1 126.1h2.4v2.4h-2.4zM1383.1 106.5h2.4v2.4h-2.4zM1383.1 86.9h2.4v2.4h-2.4zM1383.1 67.3h2.4v2.4h-2.4zM1383.1 47.7h2.4v2.4h-2.4zM1381.7 42.2h5.2l-2.6 3.2zM1383.1 583.4h2.4v2.4h-2.4zM1383.1 603.0h2.4v2.4h-2.4zM1383.1 622.6h2.4v2.4h-2.4zM1383.1 642.2h2.4v2.4h-2.4zM1383.1 661.8h2.4v2.4h-2.4zM1383.1 681.4h2.4v2.4h-2.4zM1381.5 696.8h5.6v2.2h-5.6z"/>
<rect class="bx c2" x="1379.53" y="218.3" width="9.60" height="353.6"/>
<rect class="dk" x="1379.53" y="437.2" width="9.60" height="3"/>
<ellipse class="el c2" cx="1384.33" cy="394.4" rx="18.80" ry="9.05"/>
<path class="dk" d="M1394.4 312.2h2.4v2.4h-2.4zM1394.4 292.6h2.4v2.4h-2.4zM1394.4 273.0h2.4v2.4h-2.4zM1394.4 253.4h2.4v2.4h-2.4zM1394.4 233.8h2.4v2.4h-2.4zM1394.4 214.2h2.4v2.4h-2.4zM1394.4 194.6h2.4v2.4h-2.4zM1394.4 175.0h2.4v2.4h-2.4zM1394.4 155.4h2.4v2.4h-2.4zM1394.4 135.8h2.4v2.4h-2.4zM1394.4 116.2h2.4v2.4h-2.4zM1394.4 96.6h2.4v2.4h-2.4zM1394.4 77.0h2.4v2.4h-2.4zM1394.4 57.4h2.4v2.4h-2.4zM1393.0 42.2h5.2l-2.6 3.2zM1394.4 549.7h2.4v2.4h-2.4zM1394.4 569.3h2.4v2.4h-2.4zM1394.4 588.9h2.4v2.4h-2.4zM1394.4 608.5h2.4v2.4h-2.4zM1394.4 628.1h2.4v2.4h-2.4zM1394.4 647.7h2.4v2.4h-2.4zM1394.4 667.3h2.4v2.4h-2.4zM1394.4 686.9h2.4v2.4h-2.4zM1392.8 696.8h5.6v2.2h-5.6z"/>
<rect class="bx c3" x="1390.78" y="326.0" width="9.60" height="212.3"/>
<rect class="dk" x="1390.78" y="484.3" width="9.60" height="3"/>
<ellipse class="el c3" cx="1395.58" cy="421.6" rx="18.80" ry="9.05"/>
<path class="gr" d="M1403.5 173.3a3.3 1.8 0 1 0 6.6 0a3.3 1.8 0 1 0-6.6 0zM1403.5 178.4a3.3 1.8 0 1 0 6.6 0a3.3 1.8 0 1 0-6.6 0zM1403.5 183.5a3.3 1.8 0 1 0 6.6 0a3.3 1.8 0 1 0-6.6 0zM1403.5 188.5a3.3 1.8 0 1 0 6.6 0a3.3 1.8 0 1 0-6.6 0zM1403.5 193.6a3.3 1.8 0 1 0 6.6 0a3.3 1.8 0 1 0-6.6 0zM1403.5 198.7a3.3 1.8 0 1 0 6.6 0a3.3 1.8 0 1 0-6.6 0zM1403.5 203.8a3.3 1.8 0 1 0 6.6 0a3.3 1.8 0 1 0-6.6 0zM1403.5 208.8a3.3 1.8 0 1 0 6.6 0a3.3 1.8 0 1 0-6.6 0zM1403.5 213.9a3.3 1.8 0 1 0 6.6 0a3.3 1.8 0 1 0-6.6 0z"/>
<path class="dk" d="M1405.6 365.1h2.4v2.4h-2.4zM1405.6 345.5h2.4v2.4h-2.4zM1405.6 325.9h2.4v2.4h-2.4zM1405.6 306.3h2.4v2.4h-2.4zM1405.6 286.7h2.4v2.4h-2.4zM1405.6 267.1h2.4v2.4h-2.4zM1405.6 247.5h2.4v2.4h-2.4zM1405.6 227.9h2.4v2.4h-2.4zM1404.2 215.1h5.2l-2.6 3.2zM1405.6 496.4h2.4v2.4h-2.4zM1405.6 516.0h2.4v2.4h-2.4zM1405.6 535.6h2.4v2.4h-2.4zM1405.6 555.2h2.4v2.4h-2.4zM1405.6 574.8h2.4v2.4h-2.4zM1405.6 594.4h2.4v2.4h-2.4zM1405.6 614.0h2.4v2.4h-2.4zM1404.0 634.8h5.6v2.2h-5.6z"/>
<rect class="bx c4" x="1402.03" y="378.9" width="9.60" height="106.0"/>
<rect class="dk" x="1402.03" y="439.0" width="9.60" height="3"/>
<ellipse class="el c4" cx="1406.83" cy="424.2" rx="18.80" ry="9.05"/>
<path class="dk" d="M1416.9 196.5h2.4v2.4h-2.4zM1416.9 176.9h2.4v2.4h-2.4zM1416.9 157.3h2.4v2.4h-2.4zM1416.9 137.7h2.4v2.4h-2.4zM1416.9 118.1h2.4v2.4h-2.4zM1416.9 98.5h2.4v2.4h-2.4zM1416.9 78.9h2.4v2.4h-2.4zM1415.5 74.1h5.2l-2.6 3.2zM1416.9 479.0h2.4v2.4h-2.4zM1416.9 498.6h2.4v2.4h-2.4zM1416.9 518.2h2.4v2.4h-2.4zM1416.9 537.8h2.4v2.4h-2.4zM1416.9 557.4h2.4v2.4h-2.4zM1416.9 577.0h2.4v2.4h-2.4zM1416.9 596.6h2.4v2.4h-2.4zM1416.9 616.2h2.4v2.4h-2.4zM1415.3 620.6h5.6v2.2h-5.6z"/>
<rect class="bx c5" x="1413.28" y="210.3" width="9.60" height="257.2"/>
<rect class="dk" x="1413.28" y="383.5" width="9.60" height="3"/>
<ellipse class="el c5" cx="1418.08" cy="349.8" rx="18.80" ry="9.05"/>
<path class="dk" d="M1428.1 299.5h2.4v2.4h-2.4zM1428.1 279.9h2.4v2.4h-2.4zM1428.1 260.3h2.4v2.4h-2.4zM1428.1 240.7h2.4v2.4h-2.4zM1428.1 221.1h2.4v2.4h-2.4zM1428.1 201.5h2.4v2.4h-2.4zM1428.1 181.9h2.4v2.4h-2.4zM1428.1 162.3h2.4v2.4h-2.4zM1428.1 142.7h2.4v2.4h-2.4zM1428.1 123.1h2.4v2.4h-2.4zM1428.1 103.5h2.4v2.4h-2.4zM1428.1 83.9h2.4v2.4h-2.4zM1428.1 64.3h2.4v2.4h-2.4zM1426.7 42.2h5.2l-2.6 3.2zM1428.1 525.4h2.4v2.4h-2.4zM1428.1 545.0h2.4v2.4h-2.4zM1428.1 564.6h2.4v2.4h-2.4zM1428.1 584.2h2.4v2.4h-2.4zM1428.1 603.8h2.4v2.4h-2.4zM1428.1 623.4h2.4v2.4h-2.4zM1428.1 643.0h2.4v2.4h-2.4zM1426.5 659.4h5.6v2.2h-5.6z"/>
<rect class="bx c6" x="1424.53" y="313.3" width="9.60" height="200.6"/>
<rect class="dk" x="1424.53" y="457.1" width="9.60" height="3"/>
<ellipse class="el c6" cx="1429.33" cy="398.1" rx="18.80" ry="9.05"/>
<path class="dk" d="M1483.7 303.5h2.4v2.4h-2.4zM1483.7 283.9h2.4v2.4h-2.4zM1483.7 264.3h2.4v2.4h-2.4zM1483.7 244.7h2.4v2.4h-2.4zM1483.7 225.1h2.4v2.4h-2.4zM1483.7 205.5h2.4v2.4h-2.4zM1483.7 185.9h2.4v2.4h-2.4zM1482.3 165.5h5.2l-2.6 3.2zM1483.7 489.1h2.4v2.4h-2.4zM1483.7 508.7h2.4v2.4h-2.4zM1483.7 528.3h2.4v2.4h-2.4zM1483.7 547.9h2.4v2.4h-2.4zM1483.7 567.5h2.4v2.4h-2.4zM1483.7 587.1h2.4v2.4h-2.4zM1483.7 606.7h2.4v2.4h-2.4zM1483.7 626.3h2.4v2.4h-2.4zM1483.7 645.9h2.4v2.4h-2.4zM1483.7 665.5h2.4v2.4h-2.4zM1483.7 685.1h2.4v2.4h-2.4zM1482.1 696.8h5.6v2.2h-5.6z"/>
<rect class="bx cp" x="1480.11" y="317.3" width="9.60" height="160.3"/>
<rect class="dk" x="1480.11" y="333.8" width="9.60" height="3"/>
<ellipse class="el cp" cx="1484.91" cy="395.2" rx="18.80" ry="9.05"/>
<path class="dk" d="M1495.0 139.3h2.4v2.4h-2.4zM1495.0 119.7h2.4v2.4h-2.4zM1495.0 100.1h2.4v2.4h-2.4zM1495.0 80.5h2.4v2.4h-2.4zM1495.0 60.9h2.4v2.4h-2.4zM1493.6 42.2h5.2l-2.6 3.2zM1495.0 290.5h2.4v2.4h-2.4zM1495.0 310.1h2.4v2.4h-2.4zM1493.4 327.0h5.6v2.2h-5.6z"/>
<rect class="bx cb" x="1491.36" y="153.1" width="9.60" height="125.9"/>
<rect class="dk" x="1491.36" y="258.8" width="9.60" height="3"/>
<ellipse class="el cb" cx="1496.16" cy="220.4" rx="18.80" ry="9.05"/>
<path class="dk" d="M1506.2 277.0h2.4v2.4h-2.4zM1506.2 257.4h2.4v2.4h-2.4zM1506.2 237.8h2.4v2.4h-2.4zM1506.2 218.2h2.4v2.4h-2.4zM1506.2 198.6h2.4v2.4h-2.4zM1504.8 190.8h5.2l-2.6 3.2zM1506.2 485.5h2.4v2.4h-2.4zM1506.2 505.1h2.4v2.4h-2.4zM1506.2 524.7h2.4v2.4h-2.4zM1506.2 544.3h2.4v2.4h-2.4zM1504.6 560.1h5.6v2.2h-5.6z"/>
<rect class="bx co" x="1502.61" y="290.8" width="9.60" height="183.2"/>
<rect class="dk" x="1502.61" y="428.1" width="9.60" height="3"/>
<ellipse class="el co" cx="1507.41" cy="379.9" rx="18.80" ry="9.05"/>
<path class="gr" d="M1515.4 42.8a3.3 1.8 0 1 0 6.6 0a3.3 1.8 0 1 0-6.6 0zM1515.4 48.6a3.3 1.8 0 1 0 6.6 0a3.3 1.8 0 1 0-6.6 0zM1515.4 54.4a3.3 1.8 0 1 0 6.6 0a3.3 1.8 0 1 0-6.6 0zM1515.4 83.4a3.3 1.8 0 1 0 6.6 0a3.3 1.8 0 1 0-6.6 0zM1515.4 88.4a3.3 1.8 0 1 0 6.6 0a3.3 1.8 0 1 0-6.6 0zM1515.4 93.3a3.3 1.8 0 1 0 6.6 0a3.3 1.8 0 1 0-6.6 0zM1515.4 98.3a3.3 1.8 0 1 0 6.6 0a3.3 1.8 0 1 0-6.6 0zM1515.4 103.3a3.3 1.8 0 1 0 6.6 0a3.3 1.8 0 1 0-6.6 0zM1515.4 108.3a3.3 1.8 0 1 0 6.6 0a3.3 1.8 0 1 0-6.6 0zM1515.4 113.2a3.3 1.8 0 1 0 6.6 0a3.3 1.8 0 1 0-6.6 0zM1515.4 118.2a3.3 1.8 0 1 0 6.6 0a3.3 1.8 0 1 0-6.6 0zM1515.4 123.2a3.3 1.8 0 1 0 6.6 0a3.3 1.8 0 1 0-6.6 0zM1515.4 128.1a3.3 1.8 0 1 0 6.6 0a3.3 1.8 0 1 0-6.6 0zM1515.4 133.1a3.3 1.8 0 1 0 6.6 0a3.3 1.8 0 1 0-6.6 0zM1515.4 138.1a3.3 1.8 0 1 0 6.6 0a3.3 1.8 0 1 0-6.6 0zM1515.4 143.1a3.3 1.8 0 1 0 6.6 0a3.3 1.8 0 1 0-6.6 0zM1515.4 148.0a3.3 1.8 0 1 0 6.6 0a3.3 1.8 0 1 0-6.6 0zM1515.4 153.0a3.3 1.8 0 1 0 6.6 0a3.3 1.8 0 1 0-6.6 0zM1515.4 158.0a3.3 1.8 0 1 0 6.6 0a3.3 1.8 0 1 0-6.6 0zM1515.4 162.9a3.3 1.8 0 1 0 6.6 0a3.3 1.8 0 1 0-6.6 0zM1515.4 167.9a3.3 1.8 0 1 0 6.6 0a3.3 1.8 0 1 0-6.6 0zM1515.4 172.9a3.3 1.8 0 1 0 6.6 0a3.3 1.8 0 1 0-6.6 0zM1515.4 177.8a3.3 1.8 0 1 0 6.6 0a3.3 1.8 0 1 0-6.6 0zM1515.4 182.8a3.3 1.8 0 1 0 6.6 0a3.3 1.8 0 1 0-6.6 0zM1515.4 187.8a3.3 1.8 0 1 0 6.6 0a3.3 1.8 0 1 0-6.6 0zM1515.4 192.8a3.3 1.8 0 1 0 6.6 0a3.3 1.8 0 1 0-6.6 0zM1515.4 197.7a3.3 1.8 0 1 0 6.6 0a3.3 1.8 0 1 0-6.6 0zM1515.4 202.7a3.3 1.8 0 1 0 6.6 0a3.3 1.8 0 1 0-6.6 0zM1515.4 207.7a3.3 1.8 0 1 0 6.6 0a3.3 1.8 0 1 0-6.6 0zM1515.4 212.6a3.3 1.8 0 1 0 6.6 0a3.3 1.8 0 1 0-6.6 0zM1515.4 217.6a3.3 1.8 0 1 0 6.6 0a3.3 1.8 0 1 0-6.6 0zM1515.4 222.6a3.3 1.8 0 1 0 6.6 0a3.3 1.8 0 1 0-6.6 0zM1515.4 227.6a3.3 1.8 0 1 0 6.6 0a3.3 1.8 0 1 0-6.6 0zM1515.4 232.5a3.3 1.8 0 1 0 6.6 0a3.3 1.8 0 1 0-6.6 0zM1515.4 237.5a3.3 1.8 0 1 0 6.6 0a3.3 1.8 0 1 0-6.6 0z"/>
<path class="dk" d="M1517.5 293.3h2.4v2.4h-2.4zM1517.5 273.7h2.4v2.4h-2.4zM1517.5 254.1h2.4v2.4h-2.4zM1516.1 244.5h5.2l-2.6 3.2z"/>
<rect class="bx c1" x="1513.86" y="307.1" width="9.60" height="49.2"/>
<rect class="dk" x="1513.86" y="329.1" width="9.60" height="3"/>
<ellipse class="el c1" cx="1518.66" cy="297.3" rx="18.80" ry="9.05"/>
<path class="dk" d="M1528.7 66.0h2.4v2.4h-2.4zM1528.7 46.4h2.4v2.4h-2.4zM1527.3 42.2h5.2l-2.6 3.2zM1528.7 673.3h2.4v2.4h-2.4zM1527.1 696.8h5.6v2.2h-5.6z"/>
<rect class="bx c2" x="1525.11" y="79.8" width="9.60" height="582.1"/>
<rect class="dk" x="1525.11" y="320.4" width="9.60" height="3"/>
<ellipse class="el c2" cx="1529.91" cy="349.8" rx="18.80" ry="9.05"/>
<path class="dk" d="M1540.0 295.1h2.4v2.4h-2.4zM1540.0 275.5h2.4v2.4h-2.4zM1540.0 255.9h2.4v2.4h-2.4zM1540.0 236.3h2.4v2.4h-2.4zM1540.0 216.7h2.4v2.4h-2.4zM1540.0 197.1h2.4v2.4h-2.4zM1540.0 177.5h2.4v2.4h-2.4zM1540.0 157.9h2.4v2.4h-2.4zM1540.0 138.3h2.4v2.4h-2.4zM1538.6 116.5h5.2l-2.6 3.2zM1540.0 634.1h2.4v2.4h-2.4zM1540.0 653.7h2.4v2.4h-2.4zM1540.0 673.3h2.4v2.4h-2.4zM1538.4 696.8h5.6v2.2h-5.6z"/>
<rect class="bx c3" x="1536.36" y="308.9" width="9.60" height="313.8"/>
<rect class="dk" x="1536.36" y="538.7" width="9.60" height="3"/>
<ellipse class="el c3" cx="1541.16" cy="482.2" rx="18.80" ry="9.05"/>
<path class="gr" d="M1549.1 131.2a3.3 1.8 0 1 0 6.6 0a3.3 1.8 0 1 0-6.6 0zM1549.1 132.3a3.3 1.8 0 1 0 6.6 0a3.3 1.8 0 1 0-6.6 0zM1549.1 143.2a3.3 1.8 0 1 0 6.6 0a3.3 1.8 0 1 0-6.6 0zM1549.1 148.6a3.3 1.8 0 1 0 6.6 0a3.3 1.8 0 1 0-6.6 0zM1549.1 161.3a3.3 1.8 0 1 0 6.6 0a3.3 1.8 0 1 0-6.6 0zM1549.1 166.1a3.3 1.8 0 1 0 6.6 0a3.3 1.8 0 1 0-6.6 0zM1549.1 171.0a3.3 1.8 0 1 0 6.6 0a3.3 1.8 0 1 0-6.6 0zM1549.1 175.8a3.3 1.8 0 1 0 6.6 0a3.3 1.8 0 1 0-6.6 0zM1549.1 180.6a3.3 1.8 0 1 0 6.6 0a3.3 1.8 0 1 0-6.6 0zM1549.1 185.5a3.3 1.8 0 1 0 6.6 0a3.3 1.8 0 1 0-6.6 0zM1549.1 190.3a3.3 1.8 0 1 0 6.6 0a3.3 1.8 0 1 0-6.6 0zM1549.1 195.1a3.3 1.8 0 1 0 6.6 0a3.3 1.8 0 1 0-6.6 0zM1549.1 200.0a3.3 1.8 0 1 0 6.6 0a3.3 1.8 0 1 0-6.6 0zM1549.1 204.8a3.3 1.8 0 1 0 6.6 0a3.3 1.8 0 1 0-6.6 0z"/>
<path class="dk" d="M1551.2 353.1h2.4v2.4h-2.4zM1551.2 333.5h2.4v2.4h-2.4zM1551.2 313.9h2.4v2.4h-2.4zM1551.2 294.3h2.4v2.4h-2.4zM1551.2 274.7h2.4v2.4h-2.4zM1551.2 255.1h2.4v2.4h-2.4zM1551.2 235.5h2.4v2.4h-2.4zM1551.2 215.9h2.4v2.4h-2.4zM1549.8 210.8h5.2l-2.6 3.2zM1551.2 481.9h2.4v2.4h-2.4zM1551.2 501.5h2.4v2.4h-2.4zM1551.2 521.1h2.4v2.4h-2.4zM1551.2 540.7h2.4v2.4h-2.4zM1551.2 560.3h2.4v2.4h-2.4zM1551.2 579.9h2.4v2.4h-2.4zM1549.6 600.7h5.6v2.2h-5.6z"/>
<rect class="bx c4" x="1547.61" y="366.9" width="9.60" height="103.5"/>
<rect class="dk" x="1547.61" y="429.2" width="9.60" height="3"/>
<ellipse class="el c4" cx="1552.41" cy="400.6" rx="18.80" ry="9.05"/>
<path class="dk" d="M1562.5 237.1h2.4v2.4h-2.4zM1561.1 221.7h5.2l-2.6 3.2zM1562.5 444.5h2.4v2.4h-2.4zM1562.5 464.1h2.4v2.4h-2.4zM1562.5 483.7h2.4v2.4h-2.4zM1562.5 503.3h2.4v2.4h-2.4zM1562.5 522.9h2.4v2.4h-2.4zM1562.5 542.5h2.4v2.4h-2.4zM1560.9 553.6h5.6v2.2h-5.6z"/>
<rect class="bx c5" x="1558.86" y="250.9" width="9.60" height="182.1"/>
<rect class="dk" x="1558.86" y="374.4" width="9.60" height="3"/>
<ellipse class="el c5" cx="1563.66" cy="361.4" rx="18.80" ry="9.05"/>
<path class="dk" d="M1573.7 222.6h2.4v2.4h-2.4zM1573.7 203.0h2.4v2.4h-2.4zM1573.7 183.4h2.4v2.4h-2.4zM1573.7 163.8h2.4v2.4h-2.4zM1573.7 144.2h2.4v2.4h-2.4zM1573.7 124.6h2.4v2.4h-2.4zM1573.7 105.0h2.4v2.4h-2.4zM1573.7 85.4h2.4v2.4h-2.4zM1573.7 65.8h2.4v2.4h-2.4zM1572.3 42.2h5.2l-2.6 3.2zM1573.7 507.3h2.4v2.4h-2.4zM1573.7 526.9h2.4v2.4h-2.4zM1573.7 546.5h2.4v2.4h-2.4zM1573.7 566.1h2.4v2.4h-2.4zM1573.7 585.7h2.4v2.4h-2.4zM1573.7 605.3h2.4v2.4h-2.4zM1573.7 624.9h2.4v2.4h-2.4zM1573.7 644.5h2.4v2.4h-2.4zM1573.7 664.1h2.4v2.4h-2.4zM1573.7 683.7h2.4v2.4h-2.4zM1572.1 696.8h5.6v2.2h-5.6z"/>
<rect class="bx c6" x="1570.11" y="236.4" width="9.60" height="259.5"/>
<rect class="dk" x="1570.11" y="414.7" width="9.60" height="3"/>
<ellipse class="el c6" cx="1574.91" cy="403.1" rx="18.80" ry="9.05"/>
<path class="dk" d="M171.3 822.5h2.4v2.4h-2.4zM169.9 808.9h5.2l-2.6 3.2zM171.3 1018.4h2.4v2.4h-2.4zM171.3 1038.0h2.4v2.4h-2.4zM171.3 1057.6h2.4v2.4h-2.4zM171.3 1077.2h2.4v2.4h-2.4zM169.7 1099.8h5.6v2.2h-5.6z"/>
<rect class="bx cp" x="167.65" y="836.3" width="9.60" height="170.6"/>
<rect class="dk" x="167.65" y="969.8" width="9.60" height="3"/>
<ellipse class="el cp" cx="172.45" cy="944.1" rx="18.80" ry="9.05"/>
<path class="dk" d="M182.5 1015.5h2.4v2.4h-2.4zM182.5 1035.1h2.4v2.4h-2.4zM182.5 1054.7h2.4v2.4h-2.4zM182.5 1074.3h2.4v2.4h-2.4zM182.5 1093.9h2.4v2.4h-2.4zM182.5 1113.5h2.4v2.4h-2.4zM182.5 1133.1h2.4v2.4h-2.4zM182.5 1152.7h2.4v2.4h-2.4zM182.5 1172.3h2.4v2.4h-2.4zM182.5 1191.9h2.4v2.4h-2.4zM182.5 1211.5h2.4v2.4h-2.4zM182.5 1231.1h2.4v2.4h-2.4zM182.5 1250.7h2.4v2.4h-2.4zM180.9 1264.5h5.6v2.2h-5.6z"/>
<rect class="bx cm" x="178.90" y="808.4" width="9.60" height="195.6"/>
<ellipse class="el cm" cx="183.70" cy="943.4" rx="18.80" ry="9.05"/>
<path class="dk" d="M193.8 1125.9h2.4v2.4h-2.4zM193.8 1106.3h2.4v2.4h-2.4zM193.8 1086.7h2.4v2.4h-2.4zM193.8 1067.1h2.4v2.4h-2.4zM193.8 1047.5h2.4v2.4h-2.4zM192.4 1025.4h5.2l-2.6 3.2zM192.2 1222.9h5.6v2.2h-5.6z"/>
<rect class="bx co" x="190.15" y="1139.7" width="9.60" height="74.3"/>
<ellipse class="el co" cx="194.95" cy="1168.6" rx="18.80" ry="9.05"/>
<path class="dk" d="M205.0 820.0h2.4v2.4h-2.4zM203.6 807.1h5.2l-2.6 3.2zM205.0 1074.2h2.4v2.4h-2.4zM205.0 1093.8h2.4v2.4h-2.4zM205.0 1113.4h2.4v2.4h-2.4zM205.0 1133.0h2.4v2.4h-2.4zM203.4 1152.3h5.6v2.2h-5.6z"/>
<rect class="bx c1" x="201.40" y="833.8" width="9.60" height="228.9"/>
<rect class="dk" x="201.40" y="1042.5" width="9.60" height="3"/>
<ellipse class="el c1" cx="206.20" cy="978.9" rx="18.80" ry="9.05"/>
<path class="dk" d="M216.3 1043.4h2.4v2.4h-2.4zM214.9 1022.8h5.2l-2.6 3.2zM216.3 1209.2h2.4v2.4h-2.4zM216.3 1228.8h2.4v2.4h-2.4zM216.3 1248.4h2.4v2.4h-2.4zM216.3 1268.0h2.4v2.4h-2.4zM216.3 1287.6h2.4v2.4h-2.4zM214.7 1303.2h5.6v2.2h-5.6z"/>
<rect class="bx c2" x="212.65" y="1057.2" width="9.60" height="140.5"/>
<ellipse class="el c2" cx="217.45" cy="1142.5" rx="18.80" ry="9.05"/>
<path class="dk" d="M227.5 1122.3h2.4v2.4h-2.4zM227.5 1102.7h2.4v2.4h-2.4zM227.5 1083.1h2.4v2.4h-2.4zM227.5 1063.5h2.4v2.4h-2.4zM227.5 1043.9h2.4v2.4h-2.4zM227.5 1024.3h2.4v2.4h-2.4zM227.5 1004.7h2.4v2.4h-2.4zM226.1 987.4h5.2l-2.6 3.2zM227.5 1309.5h2.4v2.4h-2.4zM227.5 1329.1h2.4v2.4h-2.4zM227.5 1348.7h2.4v2.4h-2.4zM225.9 1367.7h5.6v2.2h-5.6z"/>
<rect class="bx c3" x="223.90" y="1136.1" width="9.60" height="162.0"/>
<rect class="dk" x="223.90" y="1267.0" width="9.60" height="3"/>
<ellipse class="el c3" cx="228.70" cy="1217.8" rx="18.80" ry="9.05"/>
<path class="dk" d="M238.8 908.0h2.4v2.4h-2.4zM238.8 888.4h2.4v2.4h-2.4zM238.8 868.8h2.4v2.4h-2.4zM238.8 849.2h2.4v2.4h-2.4zM238.8 829.6h2.4v2.4h-2.4zM237.4 807.1h5.2l-2.6 3.2zM238.8 1309.5h2.4v2.4h-2.4zM237.2 1322.4h5.6v2.2h-5.6z"/>
<rect class="bx c4" x="235.15" y="921.8" width="9.60" height="376.3"/>
<rect class="dk" x="235.15" y="1072.2" width="9.60" height="3"/>
<ellipse class="el c4" cx="239.95" cy="1087.5" rx="18.80" ry="9.05"/>
<path class="gr" d="M247.9 807.6a3.3 1.8 0 1 0 6.6 0a3.3 1.8 0 1 0-6.6 0zM247.9 812.5a3.3 1.8 0 1 0 6.6 0a3.3 1.8 0 1 0-6.6 0zM247.9 817.3a3.3 1.8 0 1 0 6.6 0a3.3 1.8 0 1 0-6.6 0zM247.9 822.2a3.3 1.8 0 1 0 6.6 0a3.3 1.8 0 1 0-6.6 0zM247.9 827.1a3.3 1.8 0 1 0 6.6 0a3.3 1.8 0 1 0-6.6 0zM247.9 831.9a3.3 1.8 0 1 0 6.6 0a3.3 1.8 0 1 0-6.6 0zM247.9 836.8a3.3 1.8 0 1 0 6.6 0a3.3 1.8 0 1 0-6.6 0zM247.9 841.7a3.3 1.8 0 1 0 6.6 0a3.3 1.8 0 1 0-6.6 0zM247.9 846.5a3.3 1.8 0 1 0 6.6 0a3.3 1.8 0 1 0-6.6 0zM247.9 851.4a3.3 1.8 0 1 0 6.6 0a3.3 1.8 0 1 0-6.6 0zM247.9 856.3a3.3 1.8 0 1 0 6.6 0a3.3 1.8 0 1 0-6.6 0zM247.9 861.2a3.3 1.8 0 1 0 6.6 0a3.3 1.8 0 1 0-6.6 0zM247.9 866.0a3.3 1.8 0 1 0 6.6 0a3.3 1.8 0 1 0-6.6 0zM247.9 870.9a3.3 1.8 0 1 0 6.6 0a3.3 1.8 0 1 0-6.6 0zM247.9 875.8a3.3 1.8 0 1 0 6.6 0a3.3 1.8 0 1 0-6.6 0zM247.9 880.6a3.3 1.8 0 1 0 6.6 0a3.3 1.8 0 1 0-6.6 0zM247.9 885.5a3.3 1.8 0 1 0 6.6 0a3.3 1.8 0 1 0-6.6 0zM247.9 943.4a3.3 1.8 0 1 0 6.6 0a3.3 1.8 0 1 0-6.6 0zM247.9 948.4a3.3 1.8 0 1 0 6.6 0a3.3 1.8 0 1 0-6.6 0zM247.9 953.4a3.3 1.8 0 1 0 6.6 0a3.3 1.8 0 1 0-6.6 0zM247.9 958.4a3.3 1.8 0 1 0 6.6 0a3.3 1.8 0 1 0-6.6 0zM247.9 963.4a3.3 1.8 0 1 0 6.6 0a3.3 1.8 0 1 0-6.6 0zM247.9 968.4a3.3 1.8 0 1 0 6.6 0a3.3 1.8 0 1 0-6.6 0zM247.9 973.4a3.3 1.8 0 1 0 6.6 0a3.3 1.8 0 1 0-6.6 0zM247.9 978.4a3.3 1.8 0 1 0 6.6 0a3.3 1.8 0 1 0-6.6 0zM247.9 983.4a3.3 1.8 0 1 0 6.6 0a3.3 1.8 0 1 0-6.6 0zM247.9 988.4a3.3 1.8 0 1 0 6.6 0a3.3 1.8 0 1 0-6.6 0zM247.9 993.4a3.3 1.8 0 1 0 6.6 0a3.3 1.8 0 1 0-6.6 0zM247.9 998.4a3.3 1.8 0 1 0 6.6 0a3.3 1.8 0 1 0-6.6 0zM247.9 1003.4a3.3 1.8 0 1 0 6.6 0a3.3 1.8 0 1 0-6.6 0zM247.9 1008.4a3.3 1.8 0 1 0 6.6 0a3.3 1.8 0 1 0-6.6 0zM247.9 1013.4a3.3 1.8 0 1 0 6.6 0a3.3 1.8 0 1 0-6.6 0zM247.9 1018.4a3.3 1.8 0 1 0 6.6 0a3.3 1.8 0 1 0-6.6 0zM247.9 1023.4a3.3 1.8 0 1 0 6.6 0a3.3 1.8 0 1 0-6.6 0zM247.9 1028.4a3.3 1.8 0 1 0 6.6 0a3.3 1.8 0 1 0-6.6 0zM247.9 1033.4a3.3 1.8 0 1 0 6.6 0a3.3 1.8 0 1 0-6.6 0zM247.9 1038.4a3.3 1.8 0 1 0 6.6 0a3.3 1.8 0 1 0-6.6 0zM247.9 1043.4a3.3 1.8 0 1 0 6.6 0a3.3 1.8 0 1 0-6.6 0zM247.9 1048.4a3.3 1.8 0 1 0 6.6 0a3.3 1.8 0 1 0-6.6 0zM247.9 1298.2a3.3 1.8 0 1 0 6.6 0a3.3 1.8 0 1 0-6.6 0zM247.9 1303.2a3.3 1.8 0 1 0 6.6 0a3.3 1.8 0 1 0-6.6 0zM247.9 1308.2a3.3 1.8 0 1 0 6.6 0a3.3 1.8 0 1 0-6.6 0zM247.9 1313.1a3.3 1.8 0 1 0 6.6 0a3.3 1.8 0 1 0-6.6 0zM247.9 1318.1a3.3 1.8 0 1 0 6.6 0a3.3 1.8 0 1 0-6.6 0zM247.9 1323.1a3.3 1.8 0 1 0 6.6 0a3.3 1.8 0 1 0-6.6 0zM247.9 1328.1a3.3 1.8 0 1 0 6.6 0a3.3 1.8 0 1 0-6.6 0zM247.9 1333.0a3.3 1.8 0 1 0 6.6 0a3.3 1.8 0 1 0-6.6 0zM247.9 1338.0a3.3 1.8 0 1 0 6.6 0a3.3 1.8 0 1 0-6.6 0zM247.9 1343.0a3.3 1.8 0 1 0 6.6 0a3.3 1.8 0 1 0-6.6 0zM247.9 1348.0a3.3 1.8 0 1 0 6.6 0a3.3 1.8 0 1 0-6.6 0zM247.9 1352.9a3.3 1.8 0 1 0 6.6 0a3.3 1.8 0 1 0-6.6 0zM247.9 1357.9a3.3 1.8 0 1 0 6.6 0a3.3 1.8 0 1 0-6.6 0z"/>
<path class="dk" d="M250.0 1136.0h2.4v2.4h-2.4zM250.0 1116.4h2.4v2.4h-2.4zM250.0 1096.8h2.4v2.4h-2.4zM250.0 1077.2h2.4v2.4h-2.4zM248.6 1067.0h5.2l-2.6 3.2zM250.0 1216.5h2.4v2.4h-2.4zM250.0 1236.1h2.4v2.4h-2.4zM250.0 1255.7h2.4v2.4h-2.4zM250.0 1275.3h2.4v2.4h-2.4zM248.4 1291.7h5.6v2.2h-5.6z"/>
<rect class="bx c5" x="246.40" y="1149.8" width="9.60" height="55.3"/>
<rect class="dk" x="246.40" y="1175.4" width="9.60" height="3"/>
<ellipse class="el c5" cx="251.20" cy="1165.3" rx="18.80" ry="9.05"/>
<path class="dk" d="M261.3 1172.2h2.4v2.4h-2.4zM261.3 1152.6h2.4v2.4h-2.4zM261.3 1133.0h2.4v2.4h-2.4zM259.9 1111.2h5.2l-2.6 3.2zM261.3 1267.9h2.4v2.4h-2.4zM259.7 1276.1h5.6v2.2h-5.6z"/>
<rect class="bx c6" x="257.65" y="1186.0" width="9.60" height="70.4"/>
<rect class="dk" x="257.65" y="1231.5" width="9.60" height="3"/>
<ellipse class="el c6" cx="262.45" cy="1219.6" rx="18.80" ry="9.05"/>
<path class="dk" d="M317.4 1023.1h2.4v2.4h-2.4zM317.4 1003.5h2.4v2.4h-2.4zM316.0 998.9h5.2l-2.6 3.2zM315.8 1137.1h5.6v2.2h-5.6z"/>
<rect class="bx cp" x="313.76" y="1036.9" width="9.60" height="87.3"/>
<ellipse class="el cp" cx="318.56" cy="1071.9" rx="18.80" ry="9.05"/>
<path class="dk" d="M328.6 1023.1h2.4v2.4h-2.4zM328.6 1003.5h2.4v2.4h-2.4zM327.2 988.4h5.2l-2.6 3.2zM327.0 1141.4h5.6v2.2h-5.6z"/>
<rect class="bx cm" x="325.01" y="1036.9" width="9.60" height="94.7"/>
<rect class="dk" x="325.01" y="1107.0" width="9.60" height="3"/>
<ellipse class="el cm" cx="329.81" cy="1087.5" rx="18.80" ry="9.05"/>
<path class="dk" d="M339.9 1132.4h2.4v2.4h-2.4zM338.5 1115.9h5.2l-2.6 3.2zM339.9 1240.0h2.4v2.4h-2.4zM338.3 1244.6h5.6v2.2h-5.6z"/>
<rect class="bx co" x="336.26" y="1146.2" width="9.60" height="82.3"/>
<rect class="dk" x="336.26" y="1218.9" width="9.60" height="3"/>
<ellipse class="el co" cx="341.06" cy="1193.9" rx="18.80" ry="9.05"/>
<path class="dk" d="M351.1 1009.3h2.4v2.4h-2.4zM351.1 989.7h2.4v2.4h-2.4zM351.1 970.1h2.4v2.4h-2.4zM351.1 950.5h2.4v2.4h-2.4zM349.7 945.0h5.2l-2.6 3.2zM351.1 1209.2h2.4v2.4h-2.4zM349.5 1226.5h5.6v2.2h-5.6z"/>
<rect class="bx c1" x="347.51" y="1023.1" width="9.60" height="174.6"/>
<ellipse class="el c1" cx="352.31" cy="1097.3" rx="18.80" ry="9.05"/>
<path class="dk" d="M361.0 1069.9h5.2l-2.6 3.2zM360.8 1299.6h5.6v2.2h-5.6z"/>
<rect class="bx c2" x="358.76" y="1087.2" width="9.60" height="200.3"/>
<rect class="dk" x="358.76" y="1155.5" width="9.60" height="3"/>
<ellipse class="el c2" cx="363.56" cy="1176.9" rx="18.80" ry="9.05"/>
<path class="dk" d="M372.2 1174.5h5.2l-2.6 3.2zM373.6 1247.2h2.4v2.4h-2.4zM372.0 1268.1h5.6v2.2h-5.6z"/>
<rect class="bx c3" x="370.01" y="1188.6" width="9.60" height="47.1"/>
<rect class="dk" x="370.01" y="1229.7" width="9.60" height="3"/>
<ellipse class="el c3" cx="374.81" cy="1219.3" rx="18.80" ry="9.05"/>
<path class="dk" d="M384.9 1052.0h2.4v2.4h-2.4zM384.9 1032.4h2.4v2.4h-2.4zM384.9 1012.8h2.4v2.4h-2.4zM384.9 993.2h2.4v2.4h-2.4zM383.5 981.2h5.2l-2.6 3.2zM384.9 1216.5h2.4v2.4h-2.4zM383.3 1237.4h5.6v2.2h-5.6z"/>
<rect class="bx c4" x="381.26" y="1065.8" width="9.60" height="139.3"/>
<ellipse class="el c4" cx="386.06" cy="1133.5" rx="18.80" ry="9.05"/>
<path class="dk" d="M396.1 1254.4h2.4v2.4h-2.4zM394.7 1231.0h5.2l-2.6 3.2zM394.5 1354.3h5.6v2.2h-5.6z"/>
<rect class="bx c5" x="392.51" y="1268.2" width="9.60" height="71.8"/>
<rect class="dk" x="392.51" y="1282.2" width="9.60" height="3"/>
<ellipse class="el c5" cx="397.31" cy="1295.7" rx="18.80" ry="9.05"/>
<path class="dk" d="M407.4 1113.9h2.4v2.4h-2.4zM406.0 1101.4h5.2l-2.6 3.2zM407.4 1260.6h2.4v2.4h-2.4zM407.4 1280.2h2.4v2.4h-2.4zM407.4 1299.8h2.4v2.4h-2.4zM407.4 1319.4h2.4v2.4h-2.4zM405.8 1341.3h5.6v2.2h-5.6z"/>
<rect class="bx c6" x="403.76" y="1127.7" width="9.60" height="121.4"/>
<rect class="dk" x="403.76" y="1165.6" width="9.60" height="3"/>
<ellipse class="el c6" cx="408.56" cy="1192.5" rx="18.80" ry="9.05"/>
<path class="dk" d="M463.5 1149.4h2.4v2.4h-2.4zM462.1 1134.7h5.2l-2.6 3.2zM463.5 1217.6h2.4v2.4h-2.4zM461.9 1230.1h5.6v2.2h-5.6z"/>
<rect class="bx cp" x="459.87" y="1163.2" width="9.60" height="42.9"/>
<ellipse class="el cp" cx="464.67" cy="1182.3" rx="18.80" ry="9.05"/>
<path class="dk" d="M474.7 1180.2h2.4v2.4h-2.4zM474.7 1160.6h2.4v2.4h-2.4zM474.7 1141.0h2.4v2.4h-2.4zM474.7 1121.4h2.4v2.4h-2.4zM474.7 1101.8h2.4v2.4h-2.4zM473.3 1078.9h5.2l-2.6 3.2zM474.7 1297.9h2.4v2.4h-2.4zM474.7 1317.5h2.4v2.4h-2.4zM474.7 1337.1h2.4v2.4h-2.4zM473.1 1346.0h5.6v2.2h-5.6z"/>
<rect class="bx cm" x="471.12" y="1194.0" width="9.60" height="92.4"/>
<rect class="dk" x="471.12" y="1265.9" width="9.60" height="3"/>
<ellipse class="el cm" cx="475.92" cy="1241.0" rx="18.80" ry="9.05"/>
<path class="dk" d="M486.0 1100.6h2.4v2.4h-2.4zM486.0 1081.0h2.4v2.4h-2.4zM486.0 1061.4h2.4v2.4h-2.4zM486.0 1041.8h2.4v2.4h-2.4zM484.6 1033.3h5.2l-2.6 3.2z"/>
<rect class="bx co" x="482.37" y="1114.4" width="9.60" height="88.8"/>
<rect class="dk" x="482.37" y="1164.5" width="9.60" height="3"/>
<ellipse class="el co" cx="487.17" cy="1156.3" rx="18.80" ry="9.05"/>
<path class="gr" d="M495.1 1109.9a3.3 1.8 0 1 0 6.6 0a3.3 1.8 0 1 0-6.6 0zM495.1 1114.8a3.3 1.8 0 1 0 6.6 0a3.3 1.8 0 1 0-6.6 0zM495.1 1119.7a3.3 1.8 0 1 0 6.6 0a3.3 1.8 0 1 0-6.6 0zM495.1 1124.7a3.3 1.8 0 1 0 6.6 0a3.3 1.8 0 1 0-6.6 0zM495.1 1129.6a3.3 1.8 0 1 0 6.6 0a3.3 1.8 0 1 0-6.6 0zM495.1 1134.5a3.3 1.8 0 1 0 6.6 0a3.3 1.8 0 1 0-6.6 0zM495.1 1139.4a3.3 1.8 0 1 0 6.6 0a3.3 1.8 0 1 0-6.6 0zM495.1 1144.4a3.3 1.8 0 1 0 6.6 0a3.3 1.8 0 1 0-6.6 0zM495.1 1149.3a3.3 1.8 0 1 0 6.6 0a3.3 1.8 0 1 0-6.6 0zM495.1 1154.2a3.3 1.8 0 1 0 6.6 0a3.3 1.8 0 1 0-6.6 0zM495.1 1159.1a3.3 1.8 0 1 0 6.6 0a3.3 1.8 0 1 0-6.6 0zM495.1 1164.1a3.3 1.8 0 1 0 6.6 0a3.3 1.8 0 1 0-6.6 0zM495.1 1169.0a3.3 1.8 0 1 0 6.6 0a3.3 1.8 0 1 0-6.6 0zM495.1 1173.9a3.3 1.8 0 1 0 6.6 0a3.3 1.8 0 1 0-6.6 0zM495.1 1178.8a3.3 1.8 0 1 0 6.6 0a3.3 1.8 0 1 0-6.6 0zM495.1 1183.8a3.3 1.8 0 1 0 6.6 0a3.3 1.8 0 1 0-6.6 0zM495.1 1188.7a3.3 1.8 0 1 0 6.6 0a3.3 1.8 0 1 0-6.6 0zM495.1 1193.6a3.3 1.8 0 1 0 6.6 0a3.3 1.8 0 1 0-6.6 0zM495.1 1198.5a3.3 1.8 0 1 0 6.6 0a3.3 1.8 0 1 0-6.6 0zM495.1 1203.5a3.3 1.8 0 1 0 6.6 0a3.3 1.8 0 1 0-6.6 0zM495.1 1208.4a3.3 1.8 0 1 0 6.6 0a3.3 1.8 0 1 0-6.6 0zM495.1 1213.3a3.3 1.8 0 1 0 6.6 0a3.3 1.8 0 1 0-6.6 0zM495.1 1218.2a3.3 1.8 0 1 0 6.6 0a3.3 1.8 0 1 0-6.6 0zM495.1 1223.2a3.3 1.8 0 1 0 6.6 0a3.3 1.8 0 1 0-6.6 0zM495.1 1228.1a3.3 1.8 0 1 0 6.6 0a3.3 1.8 0 1 0-6.6 0zM495.1 1233.0a3.3 1.8 0 1 0 6.6 0a3.3 1.8 0 1 0-6.6 0z"/>
<path class="dk" d="M495.6 1262.7h5.6v2.2h-5.6z"/>
<rect class="bx c1" x="493.62" y="1233.8" width="9.60" height="17.3"/>
<rect class="dk" x="493.62" y="1247.8" width="9.60" height="3"/>
<ellipse class="el c1" cx="498.42" cy="1238.5" rx="18.80" ry="9.05"/>
<path class="dk" d="M508.5 1061.8h2.4v2.4h-2.4zM507.1 1043.5h5.2l-2.6 3.2zM508.5 1295.4h2.4v2.4h-2.4zM508.5 1315.0h2.4v2.4h-2.4zM506.9 1319.9h5.6v2.2h-5.6z"/>
<rect class="bx c2" x="504.87" y="1075.6" width="9.60" height="208.3"/>
<rect class="dk" x="504.87" y="1105.5" width="9.60" height="3"/>
<ellipse class="el c2" cx="509.67" cy="1157.7" rx="18.80" ry="9.05"/>
<path class="dk" d="M519.7 969.5h2.4v2.4h-2.4zM518.3 947.5h5.2l-2.6 3.2zM519.7 1348.6h2.4v2.4h-2.4zM519.7 1368.2h2.4v2.4h-2.4zM519.7 1387.8h2.4v2.4h-2.4zM518.1 1394.1h5.6v2.2h-5.6z"/>
<rect class="bx c3" x="516.12" y="983.3" width="9.60" height="353.9"/>
<rect class="dk" x="516.12" y="1052.3" width="9.60" height="3"/>
<ellipse class="el c3" cx="520.92" cy="1132.4" rx="18.80" ry="9.05"/>
<path class="dk" d="M531.0 1023.8h2.4v2.4h-2.4zM531.0 1004.2h2.4v2.4h-2.4zM531.0 984.6h2.4v2.4h-2.4zM531.0 965.0h2.4v2.4h-2.4zM531.0 945.4h2.4v2.4h-2.4zM531.0 925.8h2.4v2.4h-2.4zM529.6 908.8h5.2l-2.6 3.2zM531.0 1316.0h2.4v2.4h-2.4zM531.0 1335.6h2.4v2.4h-2.4zM529.4 1354.3h5.6v2.2h-5.6z"/>
<rect class="bx c4" x="527.38" y="1037.6" width="9.60" height="267.0"/>
<rect class="dk" x="527.38" y="1094.7" width="9.60" height="3"/>
<ellipse class="el c4" cx="532.17" cy="1134.6" rx="18.80" ry="9.05"/>
<path class="dk" d="M540.8 1063.4h5.2l-2.6 3.2zM542.2 1199.5h2.4v2.4h-2.4zM540.6 1215.6h5.6v2.2h-5.6z"/>
<rect class="bx c5" x="538.62" y="1080.0" width="9.60" height="108.1"/>
<rect class="dk" x="538.62" y="1162.0" width="9.60" height="3"/>
<ellipse class="el c5" cx="543.42" cy="1143.2" rx="18.80" ry="9.05"/>
<path class="dk" d="M553.5 1029.2h2.4v2.4h-2.4zM553.5 1009.6h2.4v2.4h-2.4zM552.1 988.4h5.2l-2.6 3.2zM553.5 1261.7h2.4v2.4h-2.4zM553.5 1281.3h2.4v2.4h-2.4zM551.9 1304.3h5.6v2.2h-5.6z"/>
<rect class="bx c6" x="549.88" y="1043.0" width="9.60" height="207.2"/>
<rect class="dk" x="549.88" y="1082.4" width="9.60" height="3"/>
<ellipse class="el c6" cx="554.67" cy="1123.7" rx="18.80" ry="9.05"/>
<path class="dk" d="M609.6 1163.9h2.4v2.4h-2.4zM609.6 1144.3h2.4v2.4h-2.4zM609.6 1124.7h2.4v2.4h-2.4zM608.2 1115.2h5.2l-2.6 3.2zM608.0 1291.7h5.6v2.2h-5.6z"/>
<rect class="bx cp" x="605.99" y="1177.7" width="9.60" height="105.8"/>
<ellipse class="el cp" cx="610.78" cy="1224.0" rx="18.80" ry="9.05"/>
<path class="dk" d="M620.8 1084.3h2.4v2.4h-2.4zM620.8 1064.7h2.4v2.4h-2.4zM620.8 1045.1h2.4v2.4h-2.4zM619.4 1024.6h5.2l-2.6 3.2zM619.2 1275.4h5.6v2.2h-5.6z"/>
<rect class="bx cm" x="617.24" y="1098.1" width="9.60" height="164.8"/>
<rect class="dk" x="617.24" y="1153.7" width="9.60" height="3"/>
<ellipse class="el cm" cx="622.03" cy="1167.1" rx="18.80" ry="9.05"/>
<path class="dk" d="M632.1 1054.2h2.4v2.4h-2.4zM630.7 1036.2h5.2l-2.6 3.2zM630.5 1139.6h5.6v2.2h-5.6z"/>
<rect class="bx co" x="628.49" y="1068.0" width="9.60" height="62.9"/>
<ellipse class="el co" cx="633.28" cy="1096.2" rx="18.80" ry="9.05"/>
<path class="dk" d="M643.3 1096.9h2.4v2.4h-2.4zM643.3 1077.3h2.4v2.4h-2.4zM643.3 1057.7h2.4v2.4h-2.4zM643.3 1038.1h2.4v2.4h-2.4zM641.9 1019.9h5.2l-2.6 3.2zM643.3 1281.6h2.4v2.4h-2.4zM641.7 1297.1h5.6v2.2h-5.6z"/>
<rect class="bx c1" x="639.74" y="1110.7" width="9.60" height="159.4"/>
<rect class="dk" x="639.74" y="1137.4" width="9.60" height="3"/>
<ellipse class="el c1" cx="644.53" cy="1167.1" rx="18.80" ry="9.05"/>
<path class="dk" d="M654.6 1034.7h2.4v2.4h-2.4zM654.6 1015.1h2.4v2.4h-2.4zM654.6 995.5h2.4v2.4h-2.4zM653.2 979.4h5.2l-2.6 3.2zM654.6 1145.9h2.4v2.4h-2.4zM654.6 1165.5h2.4v2.4h-2.4zM653.0 1181.2h5.6v2.2h-5.6z"/>
<rect class="bx c2" x="650.99" y="1048.5" width="9.60" height="85.9"/>
<rect class="dk" x="650.99" y="1120.4" width="9.60" height="3"/>
<ellipse class="el c2" cx="655.78" cy="1092.9" rx="18.80" ry="9.05"/>
<path class="dk" d="M665.8 1101.3h2.4v2.4h-2.4zM665.8 1081.7h2.4v2.4h-2.4zM664.4 1064.1h5.2l-2.6 3.2zM664.2 1347.1h5.6v2.2h-5.6z"/>
<rect class="bx c3" x="662.24" y="1115.1" width="9.60" height="223.8"/>
<rect class="dk" x="662.24" y="1240.6" width="9.60" height="3"/>
<ellipse class="el c3" cx="667.03" cy="1220.4" rx="18.80" ry="9.05"/>
<path class="dk" d="M677.1 955.7h2.4v2.4h-2.4zM675.7 949.3h5.2l-2.6 3.2zM677.1 1143.0h2.4v2.4h-2.4zM677.1 1162.6h2.4v2.4h-2.4zM677.1 1182.2h2.4v2.4h-2.4zM677.1 1201.8h2.4v2.4h-2.4zM675.5 1218.2h5.6v2.2h-5.6z"/>
<rect class="bx c4" x="673.49" y="969.5" width="9.60" height="162.1"/>
<ellipse class="el c4" cx="678.28" cy="1045.5" rx="18.80" ry="9.05"/>
<path class="dk" d="M688.3 933.3h2.4v2.4h-2.4zM688.3 913.7h2.4v2.4h-2.4zM686.9 894.3h5.2l-2.6 3.2zM686.7 1126.2h5.6v2.2h-5.6z"/>
<rect class="bx c5" x="684.74" y="947.1" width="9.60" height="163.8"/>
<rect class="dk" x="684.74" y="972.7" width="9.60" height="3"/>
<ellipse class="el c5" cx="689.53" cy="1007.8" rx="18.80" ry="9.05"/>
<path class="dk" d="M699.6 957.5h2.4v2.4h-2.4zM699.6 937.9h2.4v2.4h-2.4zM699.6 918.3h2.4v2.4h-2.4zM698.2 908.8h5.2l-2.6 3.2zM699.6 1186.4h2.4v2.4h-2.4zM699.6 1206.0h2.4v2.4h-2.4zM699.6 1225.6h2.4v2.4h-2.4zM699.6 1245.2h2.4v2.4h-2.4zM698.0 1256.5h5.6v2.2h-5.6z"/>
<rect class="bx c6" x="695.99" y="971.3" width="9.60" height="203.6"/>
<rect class="dk" x="695.99" y="1172.9" width="9.60" height="3"/>
<ellipse class="el c6" cx="700.78" cy="1100.9" rx="18.80" ry="9.05"/>
<path class="dk" d="M755.7 990.1h2.4v2.4h-2.4zM754.3 974.0h5.2l-2.6 3.2zM755.7 1209.2h2.4v2.4h-2.4zM755.7 1228.8h2.4v2.4h-2.4zM755.7 1248.4h2.4v2.4h-2.4zM755.7 1268.0h2.4v2.4h-2.4zM754.1 1284.4h5.6v2.2h-5.6z"/>
<rect class="bx cp" x="752.10" y="1003.9" width="9.60" height="193.8"/>
<rect class="dk" x="752.10" y="1125.8" width="9.60" height="3"/>
<ellipse class="el cp" cx="756.89" cy="1115.4" rx="18.80" ry="9.05"/>
<path class="dk" d="M766.9 922.4h2.4v2.4h-2.4zM766.9 902.8h2.4v2.4h-2.4zM765.5 881.6h5.2l-2.6 3.2z"/>
<rect class="bx cm" x="763.35" y="936.2" width="9.60" height="216.4"/>
<rect class="dk" x="763.35" y="1083.8" width="9.60" height="3"/>
<ellipse class="el cm" cx="768.14" cy="1056.4" rx="18.80" ry="9.05"/>
<path class="dk" d="M778.2 1158.5h2.4v2.4h-2.4zM778.2 1138.9h2.4v2.4h-2.4zM776.8 1128.5h5.2l-2.6 3.2zM778.2 1221.9h2.4v2.4h-2.4zM778.2 1241.5h2.4v2.4h-2.4zM776.6 1258.0h5.6v2.2h-5.6z"/>
<rect class="bx co" x="774.60" y="1172.3" width="9.60" height="38.1"/>
<rect class="dk" x="774.60" y="1177.2" width="9.60" height="3"/>
<ellipse class="el co" cx="779.39" cy="1190.3" rx="18.80" ry="9.05"/>
<path class="dk" d="M789.4 1104.9h2.4v2.4h-2.4zM789.4 1085.3h2.4v2.4h-2.4zM789.4 1065.7h2.4v2.4h-2.4zM789.4 1046.1h2.4v2.4h-2.4zM789.4 1026.5h2.4v2.4h-2.4zM789.4 1006.9h2.4v2.4h-2.4zM789.4 987.3h2.4v2.4h-2.4zM789.4 967.7h2.4v2.4h-2.4zM788.0 953.0h5.2l-2.6 3.2zM787.8 1243.5h5.6v2.2h-5.6z"/>
<rect class="bx c1" x="785.85" y="1118.7" width="9.60" height="119.9"/>
<rect class="dk" x="785.85" y="1183.7" width="9.60" height="3"/>
<ellipse class="el c1" cx="790.64" cy="1163.5" rx="18.80" ry="9.05"/>
<path class="gr" d="M798.6 988.7a3.3 1.8 0 1 0 6.6 0a3.3 1.8 0 1 0-6.6 0zM798.6 993.8a3.3 1.8 0 1 0 6.6 0a3.3 1.8 0 1 0-6.6 0zM798.6 998.9a3.3 1.8 0 1 0 6.6 0a3.3 1.8 0 1 0-6.6 0zM798.6 1004.0a3.3 1.8 0 1 0 6.6 0a3.3 1.8 0 1 0-6.6 0zM798.6 1009.1a3.3 1.8 0 1 0 6.6 0a3.3 1.8 0 1 0-6.6 0zM798.6 1014.2a3.3 1.8 0 1 0 6.6 0a3.3 1.8 0 1 0-6.6 0zM798.6 1019.3a3.3 1.8 0 1 0 6.6 0a3.3 1.8 0 1 0-6.6 0zM798.6 1024.4a3.3 1.8 0 1 0 6.6 0a3.3 1.8 0 1 0-6.6 0zM798.6 1029.5a3.3 1.8 0 1 0 6.6 0a3.3 1.8 0 1 0-6.6 0zM798.6 1034.6a3.3 1.8 0 1 0 6.6 0a3.3 1.8 0 1 0-6.6 0zM798.6 1039.7a3.3 1.8 0 1 0 6.6 0a3.3 1.8 0 1 0-6.6 0zM798.6 1044.8a3.3 1.8 0 1 0 6.6 0a3.3 1.8 0 1 0-6.6 0zM798.6 1157.0a3.3 1.8 0 1 0 6.6 0a3.3 1.8 0 1 0-6.6 0zM798.6 1162.0a3.3 1.8 0 1 0 6.6 0a3.3 1.8 0 1 0-6.6 0zM798.6 1167.0a3.3 1.8 0 1 0 6.6 0a3.3 1.8 0 1 0-6.6 0zM798.6 1171.9a3.3 1.8 0 1 0 6.6 0a3.3 1.8 0 1 0-6.6 0zM798.6 1176.9a3.3 1.8 0 1 0 6.6 0a3.3 1.8 0 1 0-6.6 0zM798.6 1181.9a3.3 1.8 0 1 0 6.6 0a3.3 1.8 0 1 0-6.6 0zM798.6 1186.8a3.3 1.8 0 1 0 6.6 0a3.3 1.8 0 1 0-6.6 0zM798.6 1191.8a3.3 1.8 0 1 0 6.6 0a3.3 1.8 0 1 0-6.6 0zM798.6 1196.8a3.3 1.8 0 1 0 6.6 0a3.3 1.8 0 1 0-6.6 0zM798.6 1201.8a3.3 1.8 0 1 0 6.6 0a3.3 1.8 0 1 0-6.6 0zM798.6 1206.8a3.3 1.8 0 1 0 6.6 0a3.3 1.8 0 1 0-6.6 0zM798.6 1211.7a3.3 1.8 0 1 0 6.6 0a3.3 1.8 0 1 0-6.6 0zM798.6 1216.7a3.3 1.8 0 1 0 6.6 0a3.3 1.8 0 1 0-6.6 0zM798.6 1242.1a3.3 1.8 0 1 0 6.6 0a3.3 1.8 0 1 0-6.6 0zM798.6 1247.2a3.3 1.8 0 1 0 6.6 0a3.3 1.8 0 1 0-6.6 0zM798.6 1252.3a3.3 1.8 0 1 0 6.6 0a3.3 1.8 0 1 0-6.6 0zM798.6 1257.4a3.3 1.8 0 1 0 6.6 0a3.3 1.8 0 1 0-6.6 0zM798.6 1262.6a3.3 1.8 0 1 0 6.6 0a3.3 1.8 0 1 0-6.6 0zM798.6 1267.7a3.3 1.8 0 1 0 6.6 0a3.3 1.8 0 1 0-6.6 0zM798.6 1272.8a3.3 1.8 0 1 0 6.6 0a3.3 1.8 0 1 0-6.6 0z"/>
<path class="dk" d="M800.7 1138.6h2.4v2.4h-2.4zM799.1 1148.7h5.6v2.2h-5.6z"/>
<rect class="bx c2" x="797.10" y="1084.3" width="9.60" height="42.9"/>
<ellipse class="el c2" cx="801.89" cy="1105.6" rx="18.80" ry="9.05"/>
<path class="dk" d="M811.9 963.0h2.4v2.4h-2.4zM810.5 951.1h5.2l-2.6 3.2zM811.9 1209.2h2.4v2.4h-2.4zM811.9 1228.8h2.4v2.4h-2.4zM811.9 1248.4h2.4v2.4h-2.4zM810.3 1261.6h5.6v2.2h-5.6z"/>
<rect class="bx c3" x="808.35" y="976.8" width="9.60" height="220.9"/>
<rect class="dk" x="808.35" y="1185.2" width="9.60" height="3"/>
<ellipse class="el c3" cx="813.14" cy="1119.0" rx="18.80" ry="9.05"/>
<path class="dk" d="M823.2 1001.0h2.4v2.4h-2.4zM821.8 992.8h5.2l-2.6 3.2zM823.2 1258.1h2.4v2.4h-2.4zM823.2 1277.7h2.4v2.4h-2.4zM823.2 1297.3h2.4v2.4h-2.4zM823.2 1316.9h2.4v2.4h-2.4zM821.6 1327.9h5.6v2.2h-5.6z"/>
<rect class="bx c4" x="819.60" y="1014.8" width="9.60" height="231.8"/>
<rect class="dk" x="819.60" y="1195.3" width="9.60" height="3"/>
<ellipse class="el c4" cx="824.39" cy="1155.2" rx="18.80" ry="9.05"/>
<path class="gr" d="M832.3 1100.9a3.3 1.8 0 1 0 6.6 0a3.3 1.8 0 1 0-6.6 0zM832.3 1105.9a3.3 1.8 0 1 0 6.6 0a3.3 1.8 0 1 0-6.6 0zM832.3 1110.9a3.3 1.8 0 1 0 6.6 0a3.3 1.8 0 1 0-6.6 0zM832.3 1115.8a3.3 1.8 0 1 0 6.6 0a3.3 1.8 0 1 0-6.6 0zM832.3 1120.8a3.3 1.8 0 1 0 6.6 0a3.3 1.8 0 1 0-6.6 0zM832.3 1125.8a3.3 1.8 0 1 0 6.6 0a3.3 1.8 0 1 0-6.6 0zM832.3 1130.8a3.3 1.8 0 1 0 6.6 0a3.3 1.8 0 1 0-6.6 0zM832.3 1135.8a3.3 1.8 0 1 0 6.6 0a3.3 1.8 0 1 0-6.6 0zM832.3 1140.7a3.3 1.8 0 1 0 6.6 0a3.3 1.8 0 1 0-6.6 0zM832.3 1145.7a3.3 1.8 0 1 0 6.6 0a3.3 1.8 0 1 0-6.6 0zM832.3 1150.7a3.3 1.8 0 1 0 6.6 0a3.3 1.8 0 1 0-6.6 0zM832.3 1155.7a3.3 1.8 0 1 0 6.6 0a3.3 1.8 0 1 0-6.6 0zM832.3 1160.7a3.3 1.8 0 1 0 6.6 0a3.3 1.8 0 1 0-6.6 0zM832.3 1165.6a3.3 1.8 0 1 0 6.6 0a3.3 1.8 0 1 0-6.6 0zM832.3 1170.6a3.3 1.8 0 1 0 6.6 0a3.3 1.8 0 1 0-6.6 0zM832.3 1175.6a3.3 1.8 0 1 0 6.6 0a3.3 1.8 0 1 0-6.6 0zM832.3 1180.6a3.3 1.8 0 1 0 6.6 0a3.3 1.8 0 1 0-6.6 0zM832.3 1185.5a3.3 1.8 0 1 0 6.6 0a3.3 1.8 0 1 0-6.6 0zM832.3 1190.5a3.3 1.8 0 1 0 6.6 0a3.3 1.8 0 1 0-6.6 0zM832.3 1195.5a3.3 1.8 0 1 0 6.6 0a3.3 1.8 0 1 0-6.6 0zM832.3 1200.5a3.3 1.8 0 1 0 6.6 0a3.3 1.8 0 1 0-6.6 0zM832.3 1205.5a3.3 1.8 0 1 0 6.6 0a3.3 1.8 0 1 0-6.6 0zM832.3 1210.4a3.3 1.8 0 1 0 6.6 0a3.3 1.8 0 1 0-6.6 0zM832.3 1215.4a3.3 1.8 0 1 0 6.6 0a3.3 1.8 0 1 0-6.6 0zM832.3 1220.4a3.3 1.8 0 1 0 6.6 0a3.3 1.8 0 1 0-6.6 0zM832.3 1309.1a3.3 1.8 0 1 0 6.6 0a3.3 1.8 0 1 0-6.6 0zM832.3 1312.7a3.3 1.8 0 1 0 6.6 0a3.3 1.8 0 1 0-6.6 0z"/>
<path class="dk" d="M834.4 1287.8h2.4v2.4h-2.4zM832.8 1298.9h5.6v2.2h-5.6z"/>
<rect class="bx c5" x="830.85" y="1251.9" width="9.60" height="24.5"/>
<rect class="dk" x="830.85" y="1273.2" width="9.60" height="3"/>
<ellipse class="el c5" cx="835.64" cy="1257.6" rx="18.80" ry="9.05"/>
<path class="dk" d="M845.7 1112.1h2.4v2.4h-2.4zM845.7 1092.5h2.4v2.4h-2.4zM845.7 1072.9h2.4v2.4h-2.4zM845.7 1053.3h2.4v2.4h-2.4zM844.3 1029.7h5.2l-2.6 3.2zM845.7 1342.1h2.4v2.4h-2.4zM845.7 1361.7h2.4v2.4h-2.4zM844.1 1370.2h5.6v2.2h-5.6z"/>
<rect class="bx c6" x="842.10" y="1125.9" width="9.60" height="204.8"/>
<rect class="dk" x="842.10" y="1256.1" width="9.60" height="3"/>
<ellipse class="el c6" cx="846.89" cy="1229.4" rx="18.80" ry="9.05"/>
<path class="gr" d="M899.7 1052.0a3.3 1.8 0 1 0 6.6 0a3.3 1.8 0 1 0-6.6 0zM899.7 1059.2a3.3 1.8 0 1 0 6.6 0a3.3 1.8 0 1 0-6.6 0zM899.7 1108.1a3.3 1.8 0 1 0 6.6 0a3.3 1.8 0 1 0-6.6 0zM899.7 1113.2a3.3 1.8 0 1 0 6.6 0a3.3 1.8 0 1 0-6.6 0zM899.7 1118.3a3.3 1.8 0 1 0 6.6 0a3.3 1.8 0 1 0-6.6 0zM899.7 1123.3a3.3 1.8 0 1 0 6.6 0a3.3 1.8 0 1 0-6.6 0zM899.7 1128.4a3.3 1.8 0 1 0 6.6 0a3.3 1.8 0 1 0-6.6 0zM899.7 1133.5a3.3 1.8 0 1 0 6.6 0a3.3 1.8 0 1 0-6.6 0z"/>
<path class="dk" d="M900.4 1065.9h5.2l-2.6 3.2zM901.8 1100.6h2.4v2.4h-2.4zM900.2 1105.2h5.6v2.2h-5.6z"/>
<rect class="bx cp" x="898.21" y="1078.9" width="9.60" height="10.3"/>
<ellipse class="el cp" cx="903.00" cy="1083.5" rx="18.80" ry="9.05"/>
<path class="dk" d="M913.1 1010.0h2.4v2.4h-2.4zM913.1 990.4h2.4v2.4h-2.4zM913.1 970.8h2.4v2.4h-2.4zM913.1 951.2h2.4v2.4h-2.4zM913.1 931.6h2.4v2.4h-2.4zM913.1 912.0h2.4v2.4h-2.4zM911.7 894.3h5.2l-2.6 3.2zM913.1 1183.9h2.4v2.4h-2.4zM913.1 1203.5h2.4v2.4h-2.4zM913.1 1223.1h2.4v2.4h-2.4zM913.1 1242.7h2.4v2.4h-2.4zM913.1 1262.3h2.4v2.4h-2.4zM913.1 1281.9h2.4v2.4h-2.4zM913.1 1301.5h2.4v2.4h-2.4zM911.5 1309.8h5.6v2.2h-5.6z"/>
<rect class="bx cm" x="909.46" y="1023.8" width="9.60" height="148.6"/>
<ellipse class="el cm" cx="914.25" cy="1100.9" rx="18.80" ry="9.05"/>
<path class="dk" d="M924.3 1111.4h2.4v2.4h-2.4zM924.3 1091.8h2.4v2.4h-2.4zM922.9 1075.3h5.2l-2.6 3.2zM924.3 1181.4h2.4v2.4h-2.4zM924.3 1201.0h2.4v2.4h-2.4zM922.7 1205.9h5.6v2.2h-5.6z"/>
<rect class="bx co" x="920.71" y="1125.2" width="9.60" height="44.7"/>
<ellipse class="el co" cx="925.50" cy="1137.1" rx="18.80" ry="9.05"/>
<path class="dk" d="M935.6 1070.9h2.4v2.4h-2.4zM935.6 1051.3h2.4v2.4h-2.4zM934.2 1028.3h5.2l-2.6 3.2zM935.6 1145.9h2.4v2.4h-2.4zM935.6 1165.5h2.4v2.4h-2.4zM935.6 1185.1h2.4v2.4h-2.4zM934.0 1203.0h5.6v2.2h-5.6z"/>
<rect class="bx c1" x="931.96" y="1084.7" width="9.60" height="49.7"/>
<ellipse class="el c1" cx="936.75" cy="1113.6" rx="18.80" ry="9.05"/>
<path class="dk" d="M946.8 935.8h2.4v2.4h-2.4zM946.8 916.2h2.4v2.4h-2.4zM945.4 899.7h5.2l-2.6 3.2zM946.8 1310.6h2.4v2.4h-2.4zM946.8 1330.2h2.4v2.4h-2.4zM946.8 1349.8h2.4v2.4h-2.4zM945.2 1358.6h5.6v2.2h-5.6z"/>
<rect class="bx c2" x="943.21" y="949.6" width="9.60" height="349.6"/>
<rect class="dk" x="943.21" y="1275.0" width="9.60" height="3"/>
<ellipse class="el c2" cx="948.00" cy="1171.5" rx="18.80" ry="9.05"/>
<path class="dk" d="M958.1 991.9h2.4v2.4h-2.4zM958.1 972.3h2.4v2.4h-2.4zM956.7 967.4h5.2l-2.6 3.2zM956.5 1171.1h5.6v2.2h-5.6z"/>
<rect class="bx c3" x="954.46" y="1005.7" width="9.60" height="157.0"/>
<rect class="dk" x="954.46" y="1099.4" width="9.60" height="3"/>
<ellipse class="el c3" cx="959.25" cy="1086.4" rx="18.80" ry="9.05"/>
<path class="dk" d="M969.3 1087.9h2.4v2.4h-2.4zM969.3 1068.3h2.4v2.4h-2.4zM969.3 1048.7h2.4v2.4h-2.4zM967.9 1040.6h5.2l-2.6 3.2zM969.3 1178.5h2.4v2.4h-2.4zM969.3 1198.1h2.4v2.4h-2.4zM969.3 1217.7h2.4v2.4h-2.4zM967.7 1231.9h5.6v2.2h-5.6z"/>
<rect class="bx c4" x="965.71" y="1101.7" width="9.60" height="65.3"/>
<ellipse class="el c4" cx="970.50" cy="1133.5" rx="18.80" ry="9.05"/>
<path class="dk" d="M980.6 969.1h2.4v2.4h-2.4zM979.2 958.4h5.2l-2.6 3.2zM980.6 1164.7h2.4v2.4h-2.4zM980.6 1184.3h2.4v2.4h-2.4zM980.6 1203.9h2.4v2.4h-2.4zM979.0 1216.7h5.6v2.2h-5.6z"/>
<rect class="bx c5" x="976.96" y="982.9" width="9.60" height="170.3"/>
<rect class="dk" x="976.96" y="1094.0" width="9.60" height="3"/>
<ellipse class="el c5" cx="981.75" cy="1081.0" rx="18.80" ry="9.05"/>
<path class="dk" d="M991.8 1144.0h2.4v2.4h-2.4zM990.4 1133.3h5.2l-2.6 3.2zM991.8 1227.3h2.4v2.4h-2.4zM991.8 1246.9h2.4v2.4h-2.4zM990.2 1251.8h5.6v2.2h-5.6z"/>
<rect class="bx c6" x="988.21" y="1157.8" width="9.60" height="58.1"/>
<ellipse class="el c6" cx="993.00" cy="1186.7" rx="18.80" ry="9.05"/>
<path class="gr" d="M1045.8 1044.8a3.3 1.8 0 1 0 6.6 0a3.3 1.8 0 1 0-6.6 0zM1045.8 1050.2a3.3 1.8 0 1 0 6.6 0a3.3 1.8 0 1 0-6.6 0zM1045.8 1055.7a3.3 1.8 0 1 0 6.6 0a3.3 1.8 0 1 0-6.6 0zM1045.8 1061.1a3.3 1.8 0 1 0 6.6 0a3.3 1.8 0 1 0-6.6 0zM1045.8 1066.5a3.3 1.8 0 1 0 6.6 0a3.3 1.8 0 1 0-6.6 0zM1045.8 1220.4a3.3 1.8 0 1 0 6.6 0a3.3 1.8 0 1 0-6.6 0zM1045.8 1225.4a3.3 1.8 0 1 0 6.6 0a3.3 1.8 0 1 0-6.6 0zM1045.8 1230.4a3.3 1.8 0 1 0 6.6 0a3.3 1.8 0 1 0-6.6 0zM1045.8 1235.3a3.3 1.8 0 1 0 6.6 0a3.3 1.8 0 1 0-6.6 0zM1045.8 1240.3a3.3 1.8 0 1 0 6.6 0a3.3 1.8 0 1 0-6.6 0zM1045.8 1245.3a3.3 1.8 0 1 0 6.6 0a3.3 1.8 0 1 0-6.6 0zM1045.8 1250.2a3.3 1.8 0 1 0 6.6 0a3.3 1.8 0 1 0-6.6 0zM1045.8 1255.2a3.3 1.8 0 1 0 6.6 0a3.3 1.8 0 1 0-6.6 0zM1045.8 1260.2a3.3 1.8 0 1 0 6.6 0a3.3 1.8 0 1 0-6.6 0z"/>
<path class="dk" d="M1047.9 1107.1h2.4v2.4h-2.4zM1047.9 1087.5h2.4v2.4h-2.4zM1046.5 1068.1h5.2l-2.6 3.2zM1047.9 1165.8h2.4v2.4h-2.4zM1047.9 1185.4h2.4v2.4h-2.4zM1046.3 1207.3h5.6v2.2h-5.6z"/>
<rect class="bx cp" x="1044.32" y="1120.9" width="9.60" height="33.5"/>
<rect class="dk" x="1044.32" y="1121.1" width="9.60" height="3"/>
<ellipse class="el cp" cx="1049.12" cy="1136.0" rx="18.80" ry="9.05"/>
<path class="dk" d="M1059.2 1102.4h2.4v2.4h-2.4zM1057.8 1088.0h5.2l-2.6 3.2zM1059.2 1215.4h2.4v2.4h-2.4zM1059.2 1235.0h2.4v2.4h-2.4zM1059.2 1254.6h2.4v2.4h-2.4zM1059.2 1274.2h2.4v2.4h-2.4zM1059.2 1293.8h2.4v2.4h-2.4zM1057.6 1312.3h5.6v2.2h-5.6z"/>
<rect class="bx cm" x="1055.57" y="1116.2" width="9.60" height="87.7"/>
<rect class="dk" x="1055.57" y="1133.8" width="9.60" height="3"/>
<ellipse class="el cm" cx="1060.37" cy="1163.2" rx="18.80" ry="9.05"/>
<path class="gr" d="M1068.3 1093.6a3.3 1.8 0 1 0 6.6 0a3.3 1.8 0 1 0-6.6 0zM1068.3 1098.4a3.3 1.8 0 1 0 6.6 0a3.3 1.8 0 1 0-6.6 0zM1068.3 1103.3a3.3 1.8 0 1 0 6.6 0a3.3 1.8 0 1 0-6.6 0zM1068.3 1108.1a3.3 1.8 0 1 0 6.6 0a3.3 1.8 0 1 0-6.6 0zM1068.3 1129.8a3.3 1.8 0 1 0 6.6 0a3.3 1.8 0 1 0-6.6 0zM1068.3 1134.9a3.3 1.8 0 1 0 6.6 0a3.3 1.8 0 1 0-6.6 0zM1068.3 1140.0a3.3 1.8 0 1 0 6.6 0a3.3 1.8 0 1 0-6.6 0zM1068.3 1145.0a3.3 1.8 0 1 0 6.6 0a3.3 1.8 0 1 0-6.6 0zM1068.3 1150.1a3.3 1.8 0 1 0 6.6 0a3.3 1.8 0 1 0-6.6 0zM1068.3 1155.2a3.3 1.8 0 1 0 6.6 0a3.3 1.8 0 1 0-6.6 0z"/>
<path class="dk" d="M1070.4 1032.5h2.4v2.4h-2.4zM1069.0 1014.5h5.2l-2.6 3.2zM1070.4 1074.2h2.4v2.4h-2.4zM1068.8 1080.6h5.6v2.2h-5.6z"/>
<rect class="bx co" x="1066.82" y="1046.3" width="9.60" height="16.4"/>
<ellipse class="el co" cx="1071.62" cy="1053.8" rx="18.80" ry="9.05"/>
<path class="dk" d="M1081.7 859.8h2.4v2.4h-2.4zM1080.3 836.4h5.2l-2.6 3.2zM1081.7 1160.4h2.4v2.4h-2.4zM1081.7 1180.0h2.4v2.4h-2.4zM1081.7 1199.6h2.4v2.4h-2.4zM1080.1 1217.4h5.6v2.2h-5.6z"/>
<rect class="bx c1" x="1078.07" y="873.6" width="9.60" height="275.4"/>
<rect class="dk" x="1078.07" y="1061.4" width="9.60" height="3"/>
<ellipse class="el c1" cx="1082.87" cy="1033.9" rx="18.80" ry="9.05"/>
<path class="dk" d="M1092.9 1039.7h2.4v2.4h-2.4zM1092.9 1020.1h2.4v2.4h-2.4zM1091.5 998.2h5.2l-2.6 3.2zM1092.9 1195.5h2.4v2.4h-2.4zM1092.9 1215.1h2.4v2.4h-2.4zM1092.9 1234.7h2.4v2.4h-2.4zM1091.3 1242.1h5.6v2.2h-5.6z"/>
<rect class="bx c2" x="1089.32" y="1053.5" width="9.60" height="130.6"/>
<rect class="dk" x="1089.32" y="1068.6" width="9.60" height="3"/>
<ellipse class="el c2" cx="1094.12" cy="1109.9" rx="18.80" ry="9.05"/>
<path class="dk" d="M1104.2 956.5h2.4v2.4h-2.4zM1104.2 936.9h2.4v2.4h-2.4zM1104.2 917.3h2.4v2.4h-2.4zM1102.8 908.8h5.2l-2.6 3.2zM1104.2 1136.8h2.4v2.4h-2.4zM1104.2 1156.4h2.4v2.4h-2.4zM1102.6 1168.6h5.6v2.2h-5.6z"/>
<rect class="bx c3" x="1100.57" y="970.3" width="9.60" height="155.1"/>
<rect class="dk" x="1100.57" y="1013.6" width="9.60" height="3"/>
<ellipse class="el c3" cx="1105.37" cy="1036.8" rx="18.80" ry="9.05"/>
<path class="dk" d="M1115.4 1169.3h2.4v2.4h-2.4zM1115.4 1149.7h2.4v2.4h-2.4zM1115.4 1130.1h2.4v2.4h-2.4zM1115.4 1110.5h2.4v2.4h-2.4zM1114.0 1096.0h5.2l-2.6 3.2zM1115.4 1251.6h2.4v2.4h-2.4zM1113.8 1264.5h5.6v2.2h-5.6z"/>
<rect class="bx c4" x="1111.82" y="1183.1" width="9.60" height="57.1"/>
<rect class="dk" x="1111.82" y="1227.9" width="9.60" height="3"/>
<ellipse class="el c4" cx="1116.62" cy="1210.6" rx="18.80" ry="9.05"/>
<path class="dk" d="M1125.3 1006.5h5.2l-2.6 3.2zM1126.7 1051.7h2.4v2.4h-2.4zM1125.1 1062.5h5.6v2.2h-5.6z"/>
<rect class="bx c5" x="1123.07" y="1016.6" width="9.60" height="23.6"/>
<ellipse class="el c5" cx="1127.87" cy="1027.4" rx="18.80" ry="9.05"/>
<path class="dk" d="M1137.9 926.1h2.4v2.4h-2.4zM1136.5 919.7h5.2l-2.6 3.2zM1137.9 1022.8h2.4v2.4h-2.4zM1136.3 1042.2h5.6v2.2h-5.6z"/>
<rect class="bx c6" x="1134.32" y="939.9" width="9.60" height="71.5"/>
<rect class="dk" x="1134.32" y="993.3" width="9.60" height="3"/>
<ellipse class="el c6" cx="1139.12" cy="982.1" rx="18.80" ry="9.05"/>
<path class="dk" d="M1194.0 1060.0h2.4v2.4h-2.4zM1192.6 1046.4h5.2l-2.6 3.2zM1194.0 1256.3h2.4v2.4h-2.4zM1192.4 1279.7h5.6v2.2h-5.6z"/>
<rect class="bx cp" x="1190.42" y="1073.8" width="9.60" height="171.1"/>
<rect class="dk" x="1190.42" y="1224.3" width="9.60" height="3"/>
<ellipse class="el cp" cx="1195.22" cy="1179.8" rx="18.80" ry="9.05"/>
<path class="dk" d="M1205.3 1064.4h2.4v2.4h-2.4zM1203.9 1055.4h5.2l-2.6 3.2zM1205.3 1217.6h2.4v2.4h-2.4zM1205.3 1237.2h2.4v2.4h-2.4zM1205.3 1256.8h2.4v2.4h-2.4zM1205.3 1276.4h2.4v2.4h-2.4zM1203.7 1289.1h5.6v2.2h-5.6z"/>
<rect class="bx cm" x="1201.67" y="1078.2" width="9.60" height="127.9"/>
<ellipse class="el cm" cx="1206.47" cy="1147.2" rx="18.80" ry="9.05"/>
<path class="dk" d="M1216.5 955.0h2.4v2.4h-2.4zM1216.5 935.4h2.4v2.4h-2.4zM1215.1 912.4h5.2l-2.6 3.2zM1216.5 1097.0h2.4v2.4h-2.4zM1214.9 1105.2h5.6v2.2h-5.6z"/>
<rect class="bx co" x="1212.92" y="968.8" width="9.60" height="116.8"/>
<rect class="dk" x="1212.92" y="990.8" width="9.60" height="3"/>
<ellipse class="el co" cx="1217.72" cy="1015.1" rx="18.80" ry="9.05"/>
<rect class="bx c1" x="1224.17" y="808.4" width="9.60" height="148.0"/>
<ellipse class="el c1" cx="1228.97" cy="889.8" rx="18.80" ry="9.05"/>
<path class="dk" d="M1237.4 1110.6h5.6v2.2h-5.6z"/>
<rect class="bx c2" x="1235.42" y="1023.8" width="9.60" height="76.3"/>
<rect class="dk" x="1235.42" y="1080.2" width="9.60" height="3"/>
<ellipse class="el c2" cx="1240.22" cy="1062.9" rx="18.80" ry="9.05"/>
<path class="dk" d="M1248.9 806.3h5.2l-2.6 3.2zM1250.3 1086.1h2.4v2.4h-2.4zM1250.3 1105.7h2.4v2.4h-2.4zM1250.3 1125.3h2.4v2.4h-2.4zM1248.7 1145.0h5.6v2.2h-5.6z"/>
<rect class="bx c3" x="1246.67" y="824.0" width="9.60" height="250.6"/>
<rect class="dk" x="1246.67" y="982.8" width="9.60" height="3"/>
<ellipse class="el c3" cx="1251.47" cy="966.2" rx="18.80" ry="9.05"/>
<path class="gr" d="M1259.4 1339.8a3.3 1.8 0 1 0 6.6 0a3.3 1.8 0 1 0-6.6 0zM1259.4 1344.8a3.3 1.8 0 1 0 6.6 0a3.3 1.8 0 1 0-6.6 0zM1259.4 1349.8a3.3 1.8 0 1 0 6.6 0a3.3 1.8 0 1 0-6.6 0zM1259.4 1354.7a3.3 1.8 0 1 0 6.6 0a3.3 1.8 0 1 0-6.6 0zM1259.4 1359.7a3.3 1.8 0 1 0 6.6 0a3.3 1.8 0 1 0-6.6 0zM1259.4 1364.7a3.3 1.8 0 1 0 6.6 0a3.3 1.8 0 1 0-6.6 0zM1259.4 1369.7a3.3 1.8 0 1 0 6.6 0a3.3 1.8 0 1 0-6.6 0zM1259.4 1374.7a3.3 1.8 0 1 0 6.6 0a3.3 1.8 0 1 0-6.6 0zM1259.4 1379.6a3.3 1.8 0 1 0 6.6 0a3.3 1.8 0 1 0-6.6 0zM1259.4 1384.6a3.3 1.8 0 1 0 6.6 0a3.3 1.8 0 1 0-6.6 0zM1259.4 1389.6a3.3 1.8 0 1 0 6.6 0a3.3 1.8 0 1 0-6.6 0zM1259.4 1394.6a3.3 1.8 0 1 0 6.6 0a3.3 1.8 0 1 0-6.6 0zM1259.4 1399.6a3.3 1.8 0 1 0 6.6 0a3.3 1.8 0 1 0-6.6 0zM1259.4 1404.5a3.3 1.8 0 1 0 6.6 0a3.3 1.8 0 1 0-6.6 0zM1259.4 1409.5a3.3 1.8 0 1 0 6.6 0a3.3 1.8 0 1 0-6.6 0zM1259.4 1414.5a3.3 1.8 0 1 0 6.6 0a3.3 1.8 0 1 0-6.6 0zM1259.4 1419.5a3.3 1.8 0 1 0 6.6 0a3.3 1.8 0 1 0-6.6 0zM1259.4 1424.5a3.3 1.8 0 1 0 6.6 0a3.3 1.8 0 1 0-6.6 0zM1259.4 1429.4a3.3 1.8 0 1 0 6.6 0a3.3 1.8 0 1 0-6.6 0zM1259.4 1434.4a3.3 1.8 0 1 0 6.6 0a3.3 1.8 0 1 0-6.6 0zM1259.4 1439.4a3.3 1.8 0 1 0 6.6 0a3.3 1.8 0 1 0-6.6 0z"/>
<path class="dk" d="M1261.5 1079.9h2.4v2.4h-2.4zM1260.1 1062.3h5.2l-2.6 3.2zM1261.5 1199.1h2.4v2.4h-2.4zM1261.5 1218.7h2.4v2.4h-2.4zM1261.5 1238.3h2.4v2.4h-2.4zM1261.5 1257.9h2.4v2.4h-2.4zM1261.5 1277.5h2.4v2.4h-2.4zM1261.5 1297.1h2.4v2.4h-2.4zM1261.5 1316.7h2.4v2.4h-2.4zM1259.9 1330.4h5.6v2.2h-5.6z"/>
<rect class="bx c4" x="1257.92" y="1093.7" width="9.60" height="93.9"/>
<rect class="dk" x="1257.92" y="1115.7" width="9.60" height="3"/>
<ellipse class="el c4" cx="1262.72" cy="1155.9" rx="18.80" ry="9.05"/>
<path class="dk" d="M1272.8 868.9h2.4v2.4h-2.4zM1272.8 849.3h2.4v2.4h-2.4zM1272.8 829.7h2.4v2.4h-2.4zM1271.4 806.3h5.2l-2.6 3.2zM1272.8 1088.0h2.4v2.4h-2.4zM1271.2 1102.3h5.6v2.2h-5.6z"/>
<rect class="bx c5" x="1269.17" y="882.7" width="9.60" height="193.9"/>
<rect class="dk" x="1269.17" y="924.9" width="9.60" height="3"/>
<ellipse class="el c5" cx="1273.97" cy="956.1" rx="18.80" ry="9.05"/>
<path class="dk" d="M1284.0 816.4h2.4v2.4h-2.4zM1282.6 806.3h5.2l-2.6 3.2zM1284.0 1149.5h2.4v2.4h-2.4zM1282.4 1159.5h5.6v2.2h-5.6z"/>
<rect class="bx c6" x="1280.42" y="830.2" width="9.60" height="307.9"/>
<rect class="dk" x="1280.42" y="1000.5" width="9.60" height="3"/>
<ellipse class="el c6" cx="1285.22" cy="983.2" rx="18.80" ry="9.05"/>
<path class="dk" d="M1340.1 865.2h2.4v2.4h-2.4zM1340.1 845.6h2.4v2.4h-2.4zM1338.7 830.6h5.2l-2.6 3.2zM1340.1 1159.6h2.4v2.4h-2.4zM1340.1 1179.2h2.4v2.4h-2.4zM1340.1 1198.8h2.4v2.4h-2.4zM1340.1 1218.4h2.4v2.4h-2.4zM1340.1 1238.0h2.4v2.4h-2.4zM1338.5 1258.0h5.6v2.2h-5.6z"/>
<rect class="bx cp" x="1336.54" y="879.0" width="9.60" height="269.1"/>
<rect class="dk" x="1336.54" y="1006.3" width="9.60" height="3"/>
<ellipse class="el cp" cx="1341.34" cy="1024.9" rx="18.80" ry="9.05"/>
<path class="dk" d="M1351.4 1006.5h2.4v2.4h-2.4zM1351.4 1026.1h2.4v2.4h-2.4zM1351.4 1045.7h2.4v2.4h-2.4zM1351.4 1065.3h2.4v2.4h-2.4zM1351.4 1084.9h2.4v2.4h-2.4zM1351.4 1104.5h2.4v2.4h-2.4zM1349.8 1117.9h5.6v2.2h-5.6z"/>
<rect class="bx cm" x="1347.79" y="808.4" width="9.60" height="186.6"/>
<rect class="dk" x="1347.79" y="863.0" width="9.60" height="3"/>
<ellipse class="el cm" cx="1352.59" cy="902.5" rx="18.80" ry="9.05"/>
<path class="gr" d="M1360.5 1263.8a3.3 1.8 0 1 0 6.6 0a3.3 1.8 0 1 0-6.6 0zM1360.5 1268.8a3.3 1.8 0 1 0 6.6 0a3.3 1.8 0 1 0-6.6 0zM1360.5 1273.9a3.3 1.8 0 1 0 6.6 0a3.3 1.8 0 1 0-6.6 0zM1360.5 1278.9a3.3 1.8 0 1 0 6.6 0a3.3 1.8 0 1 0-6.6 0zM1360.5 1283.9a3.3 1.8 0 1 0 6.6 0a3.3 1.8 0 1 0-6.6 0zM1360.5 1289.0a3.3 1.8 0 1 0 6.6 0a3.3 1.8 0 1 0-6.6 0zM1360.5 1294.0a3.3 1.8 0 1 0 6.6 0a3.3 1.8 0 1 0-6.6 0zM1360.5 1299.0a3.3 1.8 0 1 0 6.6 0a3.3 1.8 0 1 0-6.6 0zM1360.5 1304.1a3.3 1.8 0 1 0 6.6 0a3.3 1.8 0 1 0-6.6 0zM1360.5 1309.1a3.3 1.8 0 1 0 6.6 0a3.3 1.8 0 1 0-6.6 0z"/>
<path class="dk" d="M1362.6 1082.5h2.4v2.4h-2.4zM1361.2 1077.9h5.2l-2.6 3.2zM1362.6 1166.5h2.4v2.4h-2.4zM1362.6 1186.1h2.4v2.4h-2.4zM1362.6 1205.7h2.4v2.4h-2.4zM1362.6 1225.3h2.4v2.4h-2.4zM1362.6 1244.9h2.4v2.4h-2.4zM1361.0 1259.1h5.6v2.2h-5.6z"/>
<rect class="bx co" x="1359.04" y="1096.3" width="9.60" height="58.8"/>
<rect class="dk" x="1359.04" y="1110.2" width="9.60" height="3"/>
<ellipse class="el co" cx="1363.84" cy="1132.7" rx="18.80" ry="9.05"/>
<path class="dk" d="M1373.9 823.6h2.4v2.4h-2.4zM1372.5 807.1h5.2l-2.6 3.2zM1373.9 1259.9h2.4v2.4h-2.4zM1373.9 1279.5h2.4v2.4h-2.4zM1373.9 1299.1h2.4v2.4h-2.4zM1373.9 1318.7h2.4v2.4h-2.4zM1373.9 1338.3h2.4v2.4h-2.4zM1373.9 1357.9h2.4v2.4h-2.4zM1373.9 1377.5h2.4v2.4h-2.4zM1373.9 1397.1h2.4v2.4h-2.4zM1372.3 1412.9h5.6v2.2h-5.6z"/>
<rect class="bx c1" x="1370.29" y="837.4" width="9.60" height="411.0"/>
<rect class="dk" x="1370.29" y="1145.4" width="9.60" height="3"/>
<ellipse class="el c1" cx="1375.09" cy="1088.2" rx="18.80" ry="9.05"/>
<path class="gr" d="M1383.0 1173.3a3.3 1.8 0 1 0 6.6 0a3.3 1.8 0 1 0-6.6 0zM1383.0 1178.0a3.3 1.8 0 1 0 6.6 0a3.3 1.8 0 1 0-6.6 0zM1383.0 1182.6a3.3 1.8 0 1 0 6.6 0a3.3 1.8 0 1 0-6.6 0zM1383.0 1187.3a3.3 1.8 0 1 0 6.6 0a3.3 1.8 0 1 0-6.6 0zM1383.0 1191.9a3.3 1.8 0 1 0 6.6 0a3.3 1.8 0 1 0-6.6 0zM1383.0 1196.6a3.3 1.8 0 1 0 6.6 0a3.3 1.8 0 1 0-6.6 0zM1383.0 1201.2a3.3 1.8 0 1 0 6.6 0a3.3 1.8 0 1 0-6.6 0zM1383.0 1205.9a3.3 1.8 0 1 0 6.6 0a3.3 1.8 0 1 0-6.6 0z"/>
<path class="dk" d="M1385.1 891.7h2.4v2.4h-2.4zM1385.1 872.1h2.4v2.4h-2.4zM1385.1 852.5h2.4v2.4h-2.4zM1385.1 832.9h2.4v2.4h-2.4zM1385.1 813.3h2.4v2.4h-2.4zM1383.7 808.1h5.2l-2.6 3.2zM1385.1 1014.5h2.4v2.4h-2.4zM1385.1 1034.1h2.4v2.4h-2.4zM1385.1 1053.7h2.4v2.4h-2.4zM1385.1 1073.3h2.4v2.4h-2.4zM1385.1 1092.9h2.4v2.4h-2.4zM1385.1 1112.5h2.4v2.4h-2.4zM1385.1 1132.1h2.4v2.4h-2.4zM1383.5 1152.3h5.6v2.2h-5.6z"/>
<rect class="bx c2" x="1381.54" y="905.5" width="9.60" height="97.5"/>
<rect class="dk" x="1381.54" y="983.5" width="9.60" height="3"/>
<ellipse class="el c2" cx="1386.34" cy="972.4" rx="18.80" ry="9.05"/>
<path class="dk" d="M1396.4 1007.5h2.4v2.4h-2.4zM1395.0 987.4h5.2l-2.6 3.2zM1396.4 1431.5h2.4v2.4h-2.4zM1396.4 1451.1h2.4v2.4h-2.4zM1394.8 1460.0h5.6v2.2h-5.6z"/>
<rect class="bx c3" x="1392.79" y="1021.3" width="9.60" height="398.8"/>
<rect class="dk" x="1392.79" y="1314.8" width="9.60" height="3"/>
<ellipse class="el c3" cx="1397.59" cy="1250.0" rx="18.80" ry="9.05"/>
<path class="dk" d="M1407.6 923.2h2.4v2.4h-2.4zM1407.6 903.6h2.4v2.4h-2.4zM1407.6 884.0h2.4v2.4h-2.4zM1407.6 864.4h2.4v2.4h-2.4zM1407.6 844.8h2.4v2.4h-2.4zM1407.6 825.2h2.4v2.4h-2.4zM1406.2 807.1h5.2l-2.6 3.2zM1407.6 1287.1h2.4v2.4h-2.4zM1407.6 1306.7h2.4v2.4h-2.4zM1407.6 1326.3h2.4v2.4h-2.4zM1407.6 1345.9h2.4v2.4h-2.4zM1407.6 1365.5h2.4v2.4h-2.4zM1407.6 1385.1h2.4v2.4h-2.4zM1407.6 1404.7h2.4v2.4h-2.4zM1407.6 1424.3h2.4v2.4h-2.4zM1406.0 1440.1h5.6v2.2h-5.6z"/>
<rect class="bx c4" x="1404.04" y="937.0" width="9.60" height="338.6"/>
<rect class="dk" x="1404.04" y="1264.8" width="9.60" height="3"/>
<ellipse class="el c4" cx="1408.84" cy="1146.9" rx="18.80" ry="9.05"/>
<path class="dk" d="M1418.9 1022.7h2.4v2.4h-2.4zM1418.9 1003.1h2.4v2.4h-2.4zM1418.9 983.5h2.4v2.4h-2.4zM1418.9 963.9h2.4v2.4h-2.4zM1418.9 944.3h2.4v2.4h-2.4zM1417.5 937.4h5.2l-2.6 3.2zM1418.9 1180.3h2.4v2.4h-2.4zM1418.9 1199.9h2.4v2.4h-2.4zM1418.9 1219.5h2.4v2.4h-2.4zM1418.9 1239.1h2.4v2.4h-2.4zM1418.9 1258.7h2.4v2.4h-2.4zM1418.9 1278.3h2.4v2.4h-2.4zM1417.3 1292.7h5.6v2.2h-5.6z"/>
<rect class="bx c5" x="1415.29" y="1036.5" width="9.60" height="132.3"/>
<rect class="dk" x="1415.29" y="1142.8" width="9.60" height="3"/>
<ellipse class="el c5" cx="1420.09" cy="1116.5" rx="18.80" ry="9.05"/>
<path class="dk" d="M1430.1 1090.8h2.4v2.4h-2.4zM1430.1 1071.2h2.4v2.4h-2.4zM1430.1 1051.6h2.4v2.4h-2.4zM1428.7 1039.1h5.2l-2.6 3.2zM1428.5 1242.8h5.6v2.2h-5.6z"/>
<rect class="bx c6" x="1426.54" y="1104.6" width="9.60" height="129.3"/>
<rect class="dk" x="1426.54" y="1223.6" width="9.60" height="3"/>
<ellipse class="el c6" cx="1431.34" cy="1178.7" rx="18.80" ry="9.05"/>
<path class="dk" d="M1486.2 1066.5h2.4v2.4h-2.4zM1486.2 1046.9h2.4v2.4h-2.4zM1486.2 1027.3h2.4v2.4h-2.4zM1486.2 1007.7h2.4v2.4h-2.4zM1486.2 988.1h2.4v2.4h-2.4zM1486.2 968.5h2.4v2.4h-2.4zM1486.2 948.9h2.4v2.4h-2.4zM1484.8 930.5h5.2l-2.6 3.2zM1486.2 1390.2h2.4v2.4h-2.4zM1486.2 1409.8h2.4v2.4h-2.4zM1486.2 1429.4h2.4v2.4h-2.4zM1486.2 1449.0h2.4v2.4h-2.4zM1484.6 1460.7h5.6v2.2h-5.6z"/>
<rect class="bx cp" x="1482.64" y="1080.3" width="9.60" height="298.4"/>
<rect class="dk" x="1482.64" y="1099.4" width="9.60" height="3"/>
<ellipse class="el cp" cx="1487.44" cy="1178.7" rx="18.80" ry="9.05"/>
<path class="dk" d="M1497.5 940.5h2.4v2.4h-2.4zM1497.5 920.9h2.4v2.4h-2.4zM1497.5 901.3h2.4v2.4h-2.4zM1496.1 890.3h5.2l-2.6 3.2zM1497.5 1137.9h2.4v2.4h-2.4zM1497.5 1157.5h2.4v2.4h-2.4zM1497.5 1177.1h2.4v2.4h-2.4zM1497.5 1196.7h2.4v2.4h-2.4zM1495.9 1201.2h5.6v2.2h-5.6z"/>
<rect class="bx cm" x="1493.89" y="954.3" width="9.60" height="172.1"/>
<rect class="dk" x="1493.89" y="1010.7" width="9.60" height="3"/>
<ellipse class="el cm" cx="1498.69" cy="1035.7" rx="18.80" ry="9.05"/>
<path class="dk" d="M1507.3 1052.5h5.2l-2.6 3.2z"/>
<rect class="bx co" x="1505.14" y="1058.2" width="9.60" height="197.5"/>
<rect class="dk" x="1505.14" y="1212.3" width="9.60" height="3"/>
<ellipse class="el co" cx="1509.94" cy="1171.5" rx="18.80" ry="9.05"/>
<path class="dk" d="M1520.0 987.6h2.4v2.4h-2.4zM1520.0 968.0h2.4v2.4h-2.4zM1518.6 955.9h5.2l-2.6 3.2z"/>
<rect class="bx c1" x="1516.39" y="1001.4" width="9.60" height="460.7"/>
<rect class="dk" x="1516.39" y="1403.5" width="9.60" height="3"/>
<ellipse class="el c1" cx="1521.19" cy="1268.5" rx="18.80" ry="9.05"/>
<path class="dk" d="M1529.8 1079.7h5.2l-2.6 3.2zM1529.6 1112.5h5.6v2.2h-5.6z"/>
<rect class="bx c2" x="1527.64" y="1089.0" width="9.60" height="11.1"/>
<ellipse class="el c2" cx="1532.44" cy="1093.6" rx="18.80" ry="9.05"/>
<path class="gr" d="M1540.4 838.4a3.3 1.8 0 1 0 6.6 0a3.3 1.8 0 1 0-6.6 0zM1540.4 843.2a3.3 1.8 0 1 0 6.6 0a3.3 1.8 0 1 0-6.6 0zM1540.4 848.1a3.3 1.8 0 1 0 6.6 0a3.3 1.8 0 1 0-6.6 0zM1540.4 852.9a3.3 1.8 0 1 0 6.6 0a3.3 1.8 0 1 0-6.6 0zM1540.4 857.7a3.3 1.8 0 1 0 6.6 0a3.3 1.8 0 1 0-6.6 0zM1540.4 862.6a3.3 1.8 0 1 0 6.6 0a3.3 1.8 0 1 0-6.6 0zM1540.4 867.4a3.3 1.8 0 1 0 6.6 0a3.3 1.8 0 1 0-6.6 0zM1540.4 872.2a3.3 1.8 0 1 0 6.6 0a3.3 1.8 0 1 0-6.6 0zM1540.4 877.1a3.3 1.8 0 1 0 6.6 0a3.3 1.8 0 1 0-6.6 0zM1540.4 881.9a3.3 1.8 0 1 0 6.6 0a3.3 1.8 0 1 0-6.6 0z"/>
<rect class="bx c3" x="1538.89" y="806.6" width="9.60" height="2.0"/>
<rect class="dk" x="1538.89" y="806.1" width="9.60" height="3"/>
<ellipse class="el c3" cx="1543.69" cy="829.4" rx="18.80" ry="9.05"/>
<path class="dk" d="M1552.3 1264.3h5.2l-2.6 3.2zM1552.1 1350.7h5.6v2.2h-5.6z"/>
<rect class="bx c4" x="1550.14" y="1272.6" width="9.60" height="64.6"/>
<rect class="dk" x="1550.14" y="1290.5" width="9.60" height="3"/>
<ellipse class="el c4" cx="1554.94" cy="1303.6" rx="18.80" ry="9.05"/>
<path class="dk" d="M1565.0 1158.5h2.4v2.4h-2.4zM1563.6 1143.0h5.2l-2.6 3.2zM1563.4 1244.6h5.6v2.2h-5.6z"/>
<rect class="bx c5" x="1561.39" y="1172.3" width="9.60" height="66.3"/>
<rect class="dk" x="1561.39" y="1215.2" width="9.60" height="3"/>
<ellipse class="el c5" cx="1566.19" cy="1205.9" rx="18.80" ry="9.05"/>
<path class="dk" d="M1574.8 993.5h5.2l-2.6 3.2zM1576.2 1313.5h2.4v2.4h-2.4zM1574.6 1318.1h5.6v2.2h-5.6z"/>
<rect class="bx c6" x="1572.64" y="1011.2" width="9.60" height="290.9"/>
<rect class="dk" x="1572.64" y="1213.4" width="9.60" height="3"/>
<ellipse class="el c6" cx="1577.44" cy="1171.5" rx="18.80" ry="9.05"/>
<path class="dk" d="M171.0 1776.7h2.4v2.4h-2.4zM171.0 1757.1h2.4v2.4h-2.4zM171.0 1737.5h2.4v2.4h-2.4zM171.0 1717.9h2.4v2.4h-2.4zM171.0 1698.3h2.4v2.4h-2.4zM171.0 1678.7h2.4v2.4h-2.4zM171.0 1659.1h2.4v2.4h-2.4zM171.0 1639.5h2.4v2.4h-2.4zM171.0 1619.9h2.4v2.4h-2.4zM169.6 1596.4h5.2l-2.6 3.2zM171.0 1966.3h2.4v2.4h-2.4zM169.4 1973.7h5.6v2.2h-5.6z"/>
<rect class="bx cp" x="168.44" y="1790.5" width="7.45" height="164.3"/>
<rect class="dk" x="168.44" y="1933.1" width="7.45" height="3"/>
<ellipse class="el cp" cx="172.17" cy="1874.8" rx="17.40" ry="9.15"/>
<path class="gr" d="M179.1 1718.7a3.3 1.8 0 1 0 6.6 0a3.3 1.8 0 1 0-6.6 0zM179.1 1724.0a3.3 1.8 0 1 0 6.6 0a3.3 1.8 0 1 0-6.6 0zM179.1 1729.3a3.3 1.8 0 1 0 6.6 0a3.3 1.8 0 1 0-6.6 0zM179.1 1734.6a3.3 1.8 0 1 0 6.6 0a3.3 1.8 0 1 0-6.6 0zM179.1 1744.8a3.3 1.8 0 1 0 6.6 0a3.3 1.8 0 1 0-6.6 0zM179.1 1749.9a3.3 1.8 0 1 0 6.6 0a3.3 1.8 0 1 0-6.6 0zM179.1 1755.0a3.3 1.8 0 1 0 6.6 0a3.3 1.8 0 1 0-6.6 0zM179.1 1760.1a3.3 1.8 0 1 0 6.6 0a3.3 1.8 0 1 0-6.6 0zM179.1 1765.2a3.3 1.8 0 1 0 6.6 0a3.3 1.8 0 1 0-6.6 0zM179.1 1770.2a3.3 1.8 0 1 0 6.6 0a3.3 1.8 0 1 0-6.6 0zM179.1 1775.3a3.3 1.8 0 1 0 6.6 0a3.3 1.8 0 1 0-6.6 0zM179.1 1780.4a3.3 1.8 0 1 0 6.6 0a3.3 1.8 0 1 0-6.6 0zM179.1 1785.5a3.3 1.8 0 1 0 6.6 0a3.3 1.8 0 1 0-6.6 0zM179.1 1790.6a3.3 1.8 0 1 0 6.6 0a3.3 1.8 0 1 0-6.6 0z"/>
<path class="dk" d="M181.2 1822.5h2.4v2.4h-2.4zM181.2 1802.9h2.4v2.4h-2.4zM179.8 1794.0h5.2l-2.6 3.2zM181.2 1868.6h2.4v2.4h-2.4zM179.6 1891.4h5.6v2.2h-5.6z"/>
<rect class="bx cm" x="178.66" y="1836.3" width="7.45" height="20.9"/>
<ellipse class="el cm" cx="182.39" cy="1843.9" rx="17.40" ry="9.15"/>
<path class="gr" d="M189.3 1687.8a3.3 1.8 0 1 0 6.6 0a3.3 1.8 0 1 0-6.6 0zM189.3 1692.5a3.3 1.8 0 1 0 6.6 0a3.3 1.8 0 1 0-6.6 0zM189.3 1997.2a3.3 1.8 0 1 0 6.6 0a3.3 1.8 0 1 0-6.6 0zM189.3 2002.4a3.3 1.8 0 1 0 6.6 0a3.3 1.8 0 1 0-6.6 0zM189.3 2007.7a3.3 1.8 0 1 0 6.6 0a3.3 1.8 0 1 0-6.6 0zM189.3 2012.9a3.3 1.8 0 1 0 6.6 0a3.3 1.8 0 1 0-6.6 0zM189.3 2018.2a3.3 1.8 0 1 0 6.6 0a3.3 1.8 0 1 0-6.6 0zM189.3 2023.4a3.3 1.8 0 1 0 6.6 0a3.3 1.8 0 1 0-6.6 0z"/>
<path class="dk" d="M191.4 1803.4h2.4v2.4h-2.4zM191.4 1783.8h2.4v2.4h-2.4zM191.4 1764.2h2.4v2.4h-2.4zM191.4 1744.6h2.4v2.4h-2.4zM190.0 1734.2h5.2l-2.6 3.2zM191.4 1896.6h2.4v2.4h-2.4zM191.4 1916.2h2.4v2.4h-2.4zM191.4 1935.8h2.4v2.4h-2.4zM191.4 1955.4h2.4v2.4h-2.4zM191.4 1975.0h2.4v2.4h-2.4zM189.8 1985.3h5.6v2.2h-5.6z"/>
<rect class="bx cb" x="188.88" y="1817.2" width="7.45" height="67.9"/>
<ellipse class="el cb" cx="192.61" cy="1861.7" rx="17.40" ry="9.15"/>
<path class="dk" d="M201.6 1932.8h2.4v2.4h-2.4zM201.6 1913.2h2.4v2.4h-2.4zM201.6 1893.6h2.4v2.4h-2.4zM200.2 1874.4h5.2l-2.6 3.2zM201.6 2019.0h2.4v2.4h-2.4zM200.0 2023.2h5.6v2.2h-5.6z"/>
<rect class="bx co" x="199.10" y="1946.6" width="7.45" height="61.0"/>
<ellipse class="el co" cx="202.83" cy="1972.9" rx="17.40" ry="9.15"/>
<path class="gr" d="M209.7 1600.9a3.3 1.8 0 1 0 6.6 0a3.3 1.8 0 1 0-6.6 0zM209.7 1607.4a3.3 1.8 0 1 0 6.6 0a3.3 1.8 0 1 0-6.6 0zM209.7 1631.7a3.3 1.8 0 1 0 6.6 0a3.3 1.8 0 1 0-6.6 0zM209.7 1636.8a3.3 1.8 0 1 0 6.6 0a3.3 1.8 0 1 0-6.6 0zM209.7 1641.8a3.3 1.8 0 1 0 6.6 0a3.3 1.8 0 1 0-6.6 0zM209.7 1646.9a3.3 1.8 0 1 0 6.6 0a3.3 1.8 0 1 0-6.6 0zM209.7 1651.9a3.3 1.8 0 1 0 6.6 0a3.3 1.8 0 1 0-6.6 0zM209.7 1657.0a3.3 1.8 0 1 0 6.6 0a3.3 1.8 0 1 0-6.6 0zM209.7 1662.0a3.3 1.8 0 1 0 6.6 0a3.3 1.8 0 1 0-6.6 0zM209.7 1667.0a3.3 1.8 0 1 0 6.6 0a3.3 1.8 0 1 0-6.6 0zM209.7 1672.1a3.3 1.8 0 1 0 6.6 0a3.3 1.8 0 1 0-6.6 0zM209.7 1677.2a3.3 1.8 0 1 0 6.6 0a3.3 1.8 0 1 0-6.6 0zM209.7 1682.2a3.3 1.8 0 1 0 6.6 0a3.3 1.8 0 1 0-6.6 0z"/>
<path class="dk" d="M211.8 1940.3h2.4v2.4h-2.4zM211.8 1920.7h2.4v2.4h-2.4zM210.4 1901.5h5.2l-2.6 3.2z"/>
<rect class="bx c1" x="209.32" y="1954.1" width="7.45" height="67.6"/>
<rect class="dk" x="209.32" y="2019.6" width="7.45" height="3"/>
<ellipse class="el c1" cx="213.05" cy="1961.7" rx="17.40" ry="9.15"/>
<path class="gr" d="M220.0 2090.7a3.3 1.8 0 1 0 6.6 0a3.3 1.8 0 1 0-6.6 0zM220.0 2095.4a3.3 1.8 0 1 0 6.6 0a3.3 1.8 0 1 0-6.6 0zM220.0 2100.1a3.3 1.8 0 1 0 6.6 0a3.3 1.8 0 1 0-6.6 0zM220.0 2104.8a3.3 1.8 0 1 0 6.6 0a3.3 1.8 0 1 0-6.6 0zM220.0 2134.5a3.3 1.8 0 1 0 6.6 0a3.3 1.8 0 1 0-6.6 0zM220.0 2138.8a3.3 1.8 0 1 0 6.6 0a3.3 1.8 0 1 0-6.6 0zM220.0 2143.0a3.3 1.8 0 1 0 6.6 0a3.3 1.8 0 1 0-6.6 0z"/>
<path class="dk" d="M222.1 2002.0h2.4v2.4h-2.4zM222.1 1982.4h2.4v2.4h-2.4zM220.7 1974.4h5.2l-2.6 3.2zM222.1 2054.6h2.4v2.4h-2.4zM222.1 2074.2h2.4v2.4h-2.4zM220.5 2085.9h5.6v2.2h-5.6z"/>
<rect class="bx c2" x="219.55" y="2015.8" width="7.45" height="27.4"/>
<ellipse class="el c2" cx="223.27" cy="2030.3" rx="17.40" ry="9.15"/>
<path class="gr" d="M230.2 1584.0a3.3 1.8 0 1 0 6.6 0a3.3 1.8 0 1 0-6.6 0zM230.2 1585.0a3.3 1.8 0 1 0 6.6 0a3.3 1.8 0 1 0-6.6 0zM230.2 1601.5a3.3 1.8 0 1 0 6.6 0a3.3 1.8 0 1 0-6.6 0zM230.2 1602.8a3.3 1.8 0 1 0 6.6 0a3.3 1.8 0 1 0-6.6 0zM230.2 1937.0a3.3 1.8 0 1 0 6.6 0a3.3 1.8 0 1 0-6.6 0zM230.2 1941.3a3.3 1.8 0 1 0 6.6 0a3.3 1.8 0 1 0-6.6 0zM230.2 1945.7a3.3 1.8 0 1 0 6.6 0a3.3 1.8 0 1 0-6.6 0zM230.2 1950.0a3.3 1.8 0 1 0 6.6 0a3.3 1.8 0 1 0-6.6 0z"/>
<path class="dk" d="M232.3 1643.4h2.4v2.4h-2.4zM232.3 1623.8h2.4v2.4h-2.4zM230.9 1604.3h5.2l-2.6 3.2zM232.3 1702.2h2.4v2.4h-2.4zM232.3 1721.8h2.4v2.4h-2.4zM230.7 1726.9h5.6v2.2h-5.6z"/>
<rect class="bx c3" x="229.77" y="1657.2" width="7.45" height="33.5"/>
<rect class="dk" x="229.77" y="1678.8" width="7.45" height="3"/>
<ellipse class="el c3" cx="233.49" cy="1696.8" rx="17.40" ry="9.15"/>
<path class="gr" d="M240.4 1789.7a3.3 1.8 0 1 0 6.6 0a3.3 1.8 0 1 0-6.6 0zM240.4 1794.6a3.3 1.8 0 1 0 6.6 0a3.3 1.8 0 1 0-6.6 0zM240.4 1799.5a3.3 1.8 0 1 0 6.6 0a3.3 1.8 0 1 0-6.6 0zM240.4 1804.4a3.3 1.8 0 1 0 6.6 0a3.3 1.8 0 1 0-6.6 0zM240.4 1809.3a3.3 1.8 0 1 0 6.6 0a3.3 1.8 0 1 0-6.6 0zM240.4 1814.3a3.3 1.8 0 1 0 6.6 0a3.3 1.8 0 1 0-6.6 0zM240.4 1819.2a3.3 1.8 0 1 0 6.6 0a3.3 1.8 0 1 0-6.6 0zM240.4 1824.1a3.3 1.8 0 1 0 6.6 0a3.3 1.8 0 1 0-6.6 0zM240.4 1829.0a3.3 1.8 0 1 0 6.6 0a3.3 1.8 0 1 0-6.6 0z"/>
<path class="dk" d="M242.5 1973.0h2.4v2.4h-2.4zM241.1 1952.5h5.2l-2.6 3.2zM242.5 2045.2h2.4v2.4h-2.4zM242.5 2064.8h2.4v2.4h-2.4zM240.9 2083.9h5.6v2.2h-5.6z"/>
<rect class="bx c4" x="239.99" y="1986.8" width="7.45" height="46.9"/>
<rect class="dk" x="239.99" y="2021.0" width="7.45" height="3"/>
<ellipse class="el c4" cx="243.71" cy="1993.5" rx="17.40" ry="9.15"/>
<path class="dk" d="M252.7 1897.3h2.4v2.4h-2.4zM252.7 1877.7h2.4v2.4h-2.4zM252.7 1858.1h2.4v2.4h-2.4zM252.7 1838.5h2.4v2.4h-2.4zM252.7 1818.9h2.4v2.4h-2.4zM252.7 1799.3h2.4v2.4h-2.4zM251.3 1790.3h5.2l-2.6 3.2zM252.7 2066.7h2.4v2.4h-2.4zM252.7 2086.3h2.4v2.4h-2.4zM252.7 2105.9h2.4v2.4h-2.4zM252.7 2125.5h2.4v2.4h-2.4zM252.7 2145.1h2.4v2.4h-2.4zM252.7 2164.7h2.4v2.4h-2.4zM252.7 2184.3h2.4v2.4h-2.4zM252.7 2203.9h2.4v2.4h-2.4zM252.7 2223.5h2.4v2.4h-2.4zM252.7 2243.1h2.4v2.4h-2.4zM251.1 2261.6h5.6v2.2h-5.6z"/>
<rect class="bx c5" x="250.21" y="1911.1" width="7.45" height="144.1"/>
<rect class="dk" x="250.21" y="1985.4" width="7.45" height="3"/>
<ellipse class="el c5" cx="253.93" cy="2001.9" rx="17.40" ry="9.15"/>
<path class="gr" d="M260.8 1994.0a3.3 1.8 0 1 0 6.6 0a3.3 1.8 0 1 0-6.6 0zM260.8 1998.8a3.3 1.8 0 1 0 6.6 0a3.3 1.8 0 1 0-6.6 0zM260.8 2003.5a3.3 1.8 0 1 0 6.6 0a3.3 1.8 0 1 0-6.6 0zM260.8 2008.2a3.3 1.8 0 1 0 6.6 0a3.3 1.8 0 1 0-6.6 0zM260.8 2013.0a3.3 1.8 0 1 0 6.6 0a3.3 1.8 0 1 0-6.6 0z"/>
<path class="dk" d="M262.9 1814.5h2.4v2.4h-2.4zM262.9 1794.9h2.4v2.4h-2.4zM261.5 1782.8h5.2l-2.6 3.2zM262.9 1894.7h2.4v2.4h-2.4zM262.9 1914.3h2.4v2.4h-2.4zM262.9 1933.9h2.4v2.4h-2.4zM262.9 1953.5h2.4v2.4h-2.4zM261.3 1967.1h5.6v2.2h-5.6z"/>
<rect class="bx c6" x="260.42" y="1828.3" width="7.45" height="54.9"/>
<ellipse class="el c6" cx="264.15" cy="1863.9" rx="17.40" ry="9.15"/>
<path class="gr" d="M314.8 1794.3a3.3 1.8 0 1 0 6.6 0a3.3 1.8 0 1 0-6.6 0zM314.8 1798.9a3.3 1.8 0 1 0 6.6 0a3.3 1.8 0 1 0-6.6 0zM314.8 1803.6a3.3 1.8 0 1 0 6.6 0a3.3 1.8 0 1 0-6.6 0zM314.8 2013.0a3.3 1.8 0 1 0 6.6 0a3.3 1.8 0 1 0-6.6 0zM314.8 2018.0a3.3 1.8 0 1 0 6.6 0a3.3 1.8 0 1 0-6.6 0zM314.8 2023.0a3.3 1.8 0 1 0 6.6 0a3.3 1.8 0 1 0-6.6 0zM314.8 2028.0a3.3 1.8 0 1 0 6.6 0a3.3 1.8 0 1 0-6.6 0zM314.8 2033.0a3.3 1.8 0 1 0 6.6 0a3.3 1.8 0 1 0-6.6 0z"/>
<path class="dk" d="M315.5 1723.9h5.2l-2.6 3.2z"/>
<rect class="bx cp" x="314.36" y="1733.4" width="7.45" height="22.7"/>
<rect class="dk" x="314.36" y="1734.1" width="7.45" height="3"/>
<ellipse class="el cp" cx="318.09" cy="1776.7" rx="17.40" ry="9.15"/>
<path class="gr" d="M325.0 1728.1a3.3 1.8 0 1 0 6.6 0a3.3 1.8 0 1 0-6.6 0zM325.0 1732.8a3.3 1.8 0 1 0 6.6 0a3.3 1.8 0 1 0-6.6 0zM325.0 1737.6a3.3 1.8 0 1 0 6.6 0a3.3 1.8 0 1 0-6.6 0zM325.0 1742.3a3.3 1.8 0 1 0 6.6 0a3.3 1.8 0 1 0-6.6 0zM325.0 1747.1a3.3 1.8 0 1 0 6.6 0a3.3 1.8 0 1 0-6.6 0zM325.0 1751.8a3.3 1.8 0 1 0 6.6 0a3.3 1.8 0 1 0-6.6 0zM325.0 1756.6a3.3 1.8 0 1 0 6.6 0a3.3 1.8 0 1 0-6.6 0zM325.0 1761.3a3.3 1.8 0 1 0 6.6 0a3.3 1.8 0 1 0-6.6 0zM325.0 1766.1a3.3 1.8 0 1 0 6.6 0a3.3 1.8 0 1 0-6.6 0zM325.0 1770.8a3.3 1.8 0 1 0 6.6 0a3.3 1.8 0 1 0-6.6 0zM325.0 1775.6a3.3 1.8 0 1 0 6.6 0a3.3 1.8 0 1 0-6.6 0zM325.0 1809.3a3.3 1.8 0 1 0 6.6 0a3.3 1.8 0 1 0-6.6 0zM325.0 1813.0a3.3 1.8 0 1 0 6.6 0a3.3 1.8 0 1 0-6.6 0zM325.0 2039.0a3.3 1.8 0 1 0 6.6 0a3.3 1.8 0 1 0-6.6 0zM325.0 2043.7a3.3 1.8 0 1 0 6.6 0a3.3 1.8 0 1 0-6.6 0zM325.0 2048.3a3.3 1.8 0 1 0 6.6 0a3.3 1.8 0 1 0-6.6 0zM325.0 2053.0a3.3 1.8 0 1 0 6.6 0a3.3 1.8 0 1 0-6.6 0z"/>
<path class="dk" d="M325.7 1634.1h5.2l-2.6 3.2z"/>
<rect class="bx cm" x="324.58" y="1641.9" width="7.45" height="35.7"/>
<rect class="dk" x="324.58" y="1647.0" width="7.45" height="3"/>
<ellipse class="el cm" cx="328.31" cy="1707.6" rx="17.40" ry="9.15"/>
<path class="gr" d="M335.2 1990.0a3.3 1.8 0 1 0 6.6 0a3.3 1.8 0 1 0-6.6 0zM335.2 1990.0a3.3 1.8 0 1 0 6.6 0a3.3 1.8 0 1 0-6.6 0zM335.2 2032.0a3.3 1.8 0 1 0 6.6 0a3.3 1.8 0 1 0-6.6 0zM335.2 2037.0a3.3 1.8 0 1 0 6.6 0a3.3 1.8 0 1 0-6.6 0zM335.2 2047.0a3.3 1.8 0 1 0 6.6 0a3.3 1.8 0 1 0-6.6 0zM335.2 2052.0a3.3 1.8 0 1 0 6.6 0a3.3 1.8 0 1 0-6.6 0zM335.2 2057.0a3.3 1.8 0 1 0 6.6 0a3.3 1.8 0 1 0-6.6 0zM335.2 2062.0a3.3 1.8 0 1 0 6.6 0a3.3 1.8 0 1 0-6.6 0zM335.2 2067.0a3.3 1.8 0 1 0 6.6 0a3.3 1.8 0 1 0-6.6 0z"/>
<path class="dk" d="M337.3 1770.1h2.4v2.4h-2.4zM335.9 1762.3h5.2l-2.6 3.2zM337.3 1871.1h2.4v2.4h-2.4zM335.7 1888.5h5.6v2.2h-5.6z"/>
<rect class="bx cb" x="334.80" y="1783.9" width="7.45" height="75.8"/>
<rect class="dk" x="334.80" y="1800.3" width="7.45" height="3"/>
<ellipse class="el cb" cx="338.53" cy="1841.0" rx="17.40" ry="9.15"/>
<path class="gr" d="M345.4 1921.4a3.3 1.8 0 1 0 6.6 0a3.3 1.8 0 1 0-6.6 0zM345.4 1925.8a3.3 1.8 0 1 0 6.6 0a3.3 1.8 0 1 0-6.6 0zM345.4 1930.1a3.3 1.8 0 1 0 6.6 0a3.3 1.8 0 1 0-6.6 0zM345.4 1934.5a3.3 1.8 0 1 0 6.6 0a3.3 1.8 0 1 0-6.6 0z"/>
<path class="dk" d="M347.6 2064.7h2.4v2.4h-2.4zM345.9 2075.4h5.6v2.2h-5.6z"/>
<rect class="bx co" x="345.02" y="2004.4" width="7.45" height="48.9"/>
<rect class="dk" x="345.02" y="2037.6" width="7.45" height="3"/>
<ellipse class="el co" cx="348.75" cy="2013.0" rx="17.40" ry="9.15"/>
<path class="gr" d="M355.7 1820.5a3.3 1.8 0 1 0 6.6 0a3.3 1.8 0 1 0-6.6 0zM355.7 1827.9a3.3 1.8 0 1 0 6.6 0a3.3 1.8 0 1 0-6.6 0zM355.7 1848.5a3.3 1.8 0 1 0 6.6 0a3.3 1.8 0 1 0-6.6 0zM355.7 1850.4a3.3 1.8 0 1 0 6.6 0a3.3 1.8 0 1 0-6.6 0zM355.7 2055.0a3.3 1.8 0 1 0 6.6 0a3.3 1.8 0 1 0-6.6 0zM355.7 2060.0a3.3 1.8 0 1 0 6.6 0a3.3 1.8 0 1 0-6.6 0zM355.7 2065.0a3.3 1.8 0 1 0 6.6 0a3.3 1.8 0 1 0-6.6 0z"/>
<path class="dk" d="M357.8 1950.6h2.4v2.4h-2.4zM357.8 1931.0h2.4v2.4h-2.4zM357.8 1911.4h2.4v2.4h-2.4zM357.8 1891.8h2.4v2.4h-2.4zM356.4 1886.4h5.2l-2.6 3.2zM357.8 1995.5h2.4v2.4h-2.4zM356.2 2003.3h5.6v2.2h-5.6z"/>
<rect class="bx c1" x="355.24" y="1964.4" width="7.45" height="19.7"/>
<rect class="dk" x="355.24" y="1965.9" width="7.45" height="3"/>
<ellipse class="el c1" cx="358.97" cy="1953.2" rx="17.40" ry="9.15"/>
<path class="gr" d="M365.9 2059.7a3.3 1.8 0 1 0 6.6 0a3.3 1.8 0 1 0-6.6 0zM365.9 2065.3a3.3 1.8 0 1 0 6.6 0a3.3 1.8 0 1 0-6.6 0zM365.9 2070.9a3.3 1.8 0 1 0 6.6 0a3.3 1.8 0 1 0-6.6 0zM365.9 2076.5a3.3 1.8 0 1 0 6.6 0a3.3 1.8 0 1 0-6.6 0z"/>
<path class="dk" d="M366.6 2077.1h5.2l-2.6 3.2zM366.4 2113.5h5.6v2.2h-5.6z"/>
<rect class="bx c2" x="365.46" y="2094.1" width="7.45" height="11.4"/>
<ellipse class="el c2" cx="369.19" cy="2099.7" rx="17.40" ry="9.15"/>
<path class="gr" d="M376.1 1902.7a3.3 1.8 0 1 0 6.6 0a3.3 1.8 0 1 0-6.6 0zM376.1 1907.6a3.3 1.8 0 1 0 6.6 0a3.3 1.8 0 1 0-6.6 0zM376.1 1912.5a3.3 1.8 0 1 0 6.6 0a3.3 1.8 0 1 0-6.6 0zM376.1 1917.3a3.3 1.8 0 1 0 6.6 0a3.3 1.8 0 1 0-6.6 0zM376.1 1922.2a3.3 1.8 0 1 0 6.6 0a3.3 1.8 0 1 0-6.6 0zM376.1 1927.1a3.3 1.8 0 1 0 6.6 0a3.3 1.8 0 1 0-6.6 0zM376.1 1932.0a3.3 1.8 0 1 0 6.6 0a3.3 1.8 0 1 0-6.6 0zM376.1 1936.8a3.3 1.8 0 1 0 6.6 0a3.3 1.8 0 1 0-6.6 0zM376.1 1941.7a3.3 1.8 0 1 0 6.6 0a3.3 1.8 0 1 0-6.6 0zM376.1 1946.6a3.3 1.8 0 1 0 6.6 0a3.3 1.8 0 1 0-6.6 0zM376.1 1951.5a3.3 1.8 0 1 0 6.6 0a3.3 1.8 0 1 0-6.6 0zM376.1 1956.4a3.3 1.8 0 1 0 6.6 0a3.3 1.8 0 1 0-6.6 0zM376.1 1961.2a3.3 1.8 0 1 0 6.6 0a3.3 1.8 0 1 0-6.6 0zM376.1 1966.1a3.3 1.8 0 1 0 6.6 0a3.3 1.8 0 1 0-6.6 0zM376.1 1971.0a3.3 1.8 0 1 0 6.6 0a3.3 1.8 0 1 0-6.6 0zM376.1 1975.9a3.3 1.8 0 1 0 6.6 0a3.3 1.8 0 1 0-6.6 0zM376.1 1980.7a3.3 1.8 0 1 0 6.6 0a3.3 1.8 0 1 0-6.6 0zM376.1 1985.6a3.3 1.8 0 1 0 6.6 0a3.3 1.8 0 1 0-6.6 0zM376.1 1990.5a3.3 1.8 0 1 0 6.6 0a3.3 1.8 0 1 0-6.6 0z"/>
<path class="dk" d="M376.8 1776.9h5.2l-2.6 3.2z"/>
<rect class="bx c3" x="375.68" y="1785.8" width="7.45" height="13.3"/>
<rect class="dk" x="375.68" y="1787.2" width="7.45" height="3"/>
<ellipse class="el c3" cx="379.41" cy="1810.4" rx="17.40" ry="9.15"/>
<path class="gr" d="M386.3 1788.7a3.3 1.8 0 1 0 6.6 0a3.3 1.8 0 1 0-6.6 0zM386.3 1794.3a3.3 1.8 0 1 0 6.6 0a3.3 1.8 0 1 0-6.6 0zM386.3 1799.9a3.3 1.8 0 1 0 6.6 0a3.3 1.8 0 1 0-6.6 0zM386.3 1835.4a3.3 1.8 0 1 0 6.6 0a3.3 1.8 0 1 0-6.6 0zM386.3 1837.3a3.3 1.8 0 1 0 6.6 0a3.3 1.8 0 1 0-6.6 0zM386.3 1899.0a3.3 1.8 0 1 0 6.6 0a3.3 1.8 0 1 0-6.6 0zM386.3 1903.3a3.3 1.8 0 1 0 6.6 0a3.3 1.8 0 1 0-6.6 0zM386.3 1907.7a3.3 1.8 0 1 0 6.6 0a3.3 1.8 0 1 0-6.6 0zM386.3 1912.0a3.3 1.8 0 1 0 6.6 0a3.3 1.8 0 1 0-6.6 0z"/>
<path class="dk" d="M388.4 1992.5h2.4v2.4h-2.4zM388.4 1972.9h2.4v2.4h-2.4zM388.4 1953.3h2.4v2.4h-2.4zM388.4 1933.7h2.4v2.4h-2.4zM387.0 1918.2h5.2l-2.6 3.2zM388.4 2072.1h2.4v2.4h-2.4zM388.4 2091.7h2.4v2.4h-2.4zM388.4 2111.3h2.4v2.4h-2.4zM386.8 2122.1h5.6v2.2h-5.6z"/>
<rect class="bx c4" x="385.90" y="2006.3" width="7.45" height="54.4"/>
<rect class="dk" x="385.90" y="2058.2" width="7.45" height="3"/>
<ellipse class="el c4" cx="389.63" cy="2015.6" rx="17.40" ry="9.15"/>
<path class="dk" d="M398.6 1984.3h2.4v2.4h-2.4zM398.6 1964.7h2.4v2.4h-2.4zM398.6 1945.1h2.4v2.4h-2.4zM398.6 1925.5h2.4v2.4h-2.4zM398.6 1905.9h2.4v2.4h-2.4zM398.6 1886.3h2.4v2.4h-2.4zM398.6 1866.7h2.4v2.4h-2.4zM398.6 1847.1h2.4v2.4h-2.4zM397.2 1828.5h5.2l-2.6 3.2zM398.6 2167.5h2.4v2.4h-2.4zM397.0 2184.5h5.6v2.2h-5.6z"/>
<rect class="bx c5" x="396.12" y="1998.1" width="7.45" height="158.0"/>
<rect class="dk" x="396.12" y="2128.1" width="7.45" height="3"/>
<ellipse class="el c5" cx="399.85" cy="2075.8" rx="17.40" ry="9.15"/>
<path class="dk" d="M408.9 2003.7h2.4v2.4h-2.4zM408.9 1984.1h2.4v2.4h-2.4zM408.9 1964.5h2.4v2.4h-2.4zM407.5 1956.3h5.2l-2.6 3.2zM408.9 2099.1h2.4v2.4h-2.4zM408.9 2118.7h2.4v2.4h-2.4zM408.9 2138.3h2.4v2.4h-2.4zM408.9 2157.9h2.4v2.4h-2.4zM407.3 2172.6h5.6v2.2h-5.6z"/>
<rect class="bx c6" x="406.34" y="2017.5" width="7.45" height="70.1"/>
<ellipse class="el c6" cx="410.07" cy="2057.8" rx="17.40" ry="9.15"/>
<path class="dk" d="M462.8 1857.9h2.4v2.4h-2.4zM462.8 1838.3h2.4v2.4h-2.4zM461.4 1815.4h5.2l-2.6 3.2zM462.8 1952.5h2.4v2.4h-2.4zM462.8 1972.1h2.4v2.4h-2.4zM462.8 1991.7h2.4v2.4h-2.4zM462.8 2011.3h2.4v2.4h-2.4zM461.2 2015.6h5.6v2.2h-5.6z"/>
<rect class="bx cp" x="460.28" y="1871.7" width="7.45" height="69.3"/>
<ellipse class="el cp" cx="464.01" cy="1913.2" rx="17.40" ry="9.15"/>
<path class="gr" d="M470.9 2057.8a3.3 1.8 0 1 0 6.6 0a3.3 1.8 0 1 0-6.6 0zM470.9 2062.7a3.3 1.8 0 1 0 6.6 0a3.3 1.8 0 1 0-6.6 0zM470.9 2067.5a3.3 1.8 0 1 0 6.6 0a3.3 1.8 0 1 0-6.6 0zM470.9 2072.4a3.3 1.8 0 1 0 6.6 0a3.3 1.8 0 1 0-6.6 0zM470.9 2077.2a3.3 1.8 0 1 0 6.6 0a3.3 1.8 0 1 0-6.6 0zM470.9 2082.1a3.3 1.8 0 1 0 6.6 0a3.3 1.8 0 1 0-6.6 0zM470.9 2100.8a3.3 1.8 0 1 0 6.6 0a3.3 1.8 0 1 0-6.6 0zM470.9 2105.2a3.3 1.8 0 1 0 6.6 0a3.3 1.8 0 1 0-6.6 0zM470.9 2109.5a3.3 1.8 0 1 0 6.6 0a3.3 1.8 0 1 0-6.6 0zM470.9 2113.9a3.3 1.8 0 1 0 6.6 0a3.3 1.8 0 1 0-6.6 0zM470.9 2132.6a3.3 1.8 0 1 0 6.6 0a3.3 1.8 0 1 0-6.6 0zM470.9 2138.2a3.3 1.8 0 1 0 6.6 0a3.3 1.8 0 1 0-6.6 0zM470.9 2143.8a3.3 1.8 0 1 0 6.6 0a3.3 1.8 0 1 0-6.6 0zM470.9 2149.4a3.3 1.8 0 1 0 6.6 0a3.3 1.8 0 1 0-6.6 0zM470.9 2155.0a3.3 1.8 0 1 0 6.6 0a3.3 1.8 0 1 0-6.6 0zM470.9 2169.9a3.3 1.8 0 1 0 6.6 0a3.3 1.8 0 1 0-6.6 0zM470.9 2171.8a3.3 1.8 0 1 0 6.6 0a3.3 1.8 0 1 0-6.6 0z"/>
<path class="dk" d="M471.6 1893.9h5.2l-2.6 3.2zM473.0 1961.9h2.4v2.4h-2.4zM473.0 1981.5h2.4v2.4h-2.4zM473.0 2001.1h2.4v2.4h-2.4zM473.0 2020.7h2.4v2.4h-2.4zM473.0 2040.3h2.4v2.4h-2.4zM471.4 2051.1h5.6v2.2h-5.6z"/>
<rect class="bx cm" x="470.50" y="1903.5" width="7.45" height="46.9"/>
<rect class="dk" x="470.50" y="1908.7" width="7.45" height="3"/>
<ellipse class="el cm" cx="474.23" cy="1954.3" rx="17.40" ry="9.15"/>
<path class="gr" d="M481.1 2160.6a3.3 1.8 0 1 0 6.6 0a3.3 1.8 0 1 0-6.6 0zM481.1 2162.5a3.3 1.8 0 1 0 6.6 0a3.3 1.8 0 1 0-6.6 0z"/>
<path class="dk" d="M483.2 2010.5h2.4v2.4h-2.4zM483.2 2030.1h2.4v2.4h-2.4zM483.2 2049.7h2.4v2.4h-2.4zM483.2 2069.3h2.4v2.4h-2.4zM483.2 2088.9h2.4v2.4h-2.4zM483.2 2108.5h2.4v2.4h-2.4zM483.2 2128.1h2.4v2.4h-2.4zM481.6 2133.3h5.6v2.2h-5.6z"/>
<rect class="bx cb" x="480.72" y="1895.3" width="7.45" height="103.8"/>
<rect class="dk" x="480.72" y="1911.7" width="7.45" height="3"/>
<ellipse class="el cb" cx="484.45" cy="1956.9" rx="17.40" ry="9.15"/>
<path class="gr" d="M491.4 1906.4a3.3 1.8 0 1 0 6.6 0a3.3 1.8 0 1 0-6.6 0zM491.4 1911.1a3.3 1.8 0 1 0 6.6 0a3.3 1.8 0 1 0-6.6 0zM491.4 1915.8a3.3 1.8 0 1 0 6.6 0a3.3 1.8 0 1 0-6.6 0zM491.4 1936.3a3.3 1.8 0 1 0 6.6 0a3.3 1.8 0 1 0-6.6 0zM491.4 1938.2a3.3 1.8 0 1 0 6.6 0a3.3 1.8 0 1 0-6.6 0zM491.4 1945.7a3.3 1.8 0 1 0 6.6 0a3.3 1.8 0 1 0-6.6 0zM491.4 1950.7a3.3 1.8 0 1 0 6.6 0a3.3 1.8 0 1 0-6.6 0zM491.4 1955.6a3.3 1.8 0 1 0 6.6 0a3.3 1.8 0 1 0-6.6 0zM491.4 1960.6a3.3 1.8 0 1 0 6.6 0a3.3 1.8 0 1 0-6.6 0z"/>
<path class="dk" d="M493.5 1843.0h2.4v2.4h-2.4zM492.1 1837.9h5.2l-2.6 3.2z"/>
<rect class="bx co" x="490.94" y="1856.8" width="7.45" height="22.6"/>
<ellipse class="el co" cx="494.67" cy="1869.1" rx="17.40" ry="9.15"/>
<path class="gr" d="M501.6 2132.6a3.3 1.8 0 1 0 6.6 0a3.3 1.8 0 1 0-6.6 0zM501.6 2138.2a3.3 1.8 0 1 0 6.6 0a3.3 1.8 0 1 0-6.6 0zM501.6 2143.8a3.3 1.8 0 1 0 6.6 0a3.3 1.8 0 1 0-6.6 0zM501.6 2149.4a3.3 1.8 0 1 0 6.6 0a3.3 1.8 0 1 0-6.6 0zM501.6 2155.0a3.3 1.8 0 1 0 6.6 0a3.3 1.8 0 1 0-6.6 0z"/>
<path class="dk" d="M503.7 1947.6h2.4v2.4h-2.4zM503.7 1928.0h2.4v2.4h-2.4zM502.3 1916.3h5.2l-2.6 3.2zM503.7 2035.5h2.4v2.4h-2.4zM503.7 2055.1h2.4v2.4h-2.4zM503.7 2074.7h2.4v2.4h-2.4zM503.7 2094.3h2.4v2.4h-2.4zM503.7 2113.9h2.4v2.4h-2.4zM502.1 2124.0h5.6v2.2h-5.6z"/>
<rect class="bx c1" x="501.16" y="1961.4" width="7.45" height="62.7"/>
<rect class="dk" x="501.16" y="1987.2" width="7.45" height="3"/>
<ellipse class="el c1" cx="504.89" cy="2001.7" rx="17.40" ry="9.15"/>
<path class="gr" d="M511.8 1652.3a3.3 1.8 0 1 0 6.6 0a3.3 1.8 0 1 0-6.6 0zM511.8 1657.5a3.3 1.8 0 1 0 6.6 0a3.3 1.8 0 1 0-6.6 0zM511.8 1662.7a3.3 1.8 0 1 0 6.6 0a3.3 1.8 0 1 0-6.6 0zM511.8 1668.0a3.3 1.8 0 1 0 6.6 0a3.3 1.8 0 1 0-6.6 0zM511.8 1673.2a3.3 1.8 0 1 0 6.6 0a3.3 1.8 0 1 0-6.6 0zM511.8 1678.4a3.3 1.8 0 1 0 6.6 0a3.3 1.8 0 1 0-6.6 0z"/>
<path class="dk" d="M513.9 1849.8h2.4v2.4h-2.4zM512.3 1859.4h5.6v2.2h-5.6z"/>
<rect class="bx c2" x="511.38" y="1834.3" width="7.45" height="4.1"/>
<rect class="dk" x="511.38" y="1833.9" width="7.45" height="3"/>
<ellipse class="el c2" cx="515.11" cy="1819.7" rx="17.40" ry="9.15"/>
<path class="gr" d="M522.0 1795.4a3.3 1.8 0 1 0 6.6 0a3.3 1.8 0 1 0-6.6 0zM522.0 1799.2a3.3 1.8 0 1 0 6.6 0a3.3 1.8 0 1 0-6.6 0zM522.0 1802.9a3.3 1.8 0 1 0 6.6 0a3.3 1.8 0 1 0-6.6 0zM522.0 1887.7a3.3 1.8 0 1 0 6.6 0a3.3 1.8 0 1 0-6.6 0zM522.0 1892.8a3.3 1.8 0 1 0 6.6 0a3.3 1.8 0 1 0-6.6 0zM522.0 1898.0a3.3 1.8 0 1 0 6.6 0a3.3 1.8 0 1 0-6.6 0zM522.0 1903.2a3.3 1.8 0 1 0 6.6 0a3.3 1.8 0 1 0-6.6 0zM522.0 1908.3a3.3 1.8 0 1 0 6.6 0a3.3 1.8 0 1 0-6.6 0zM522.0 1938.2a3.3 1.8 0 1 0 6.6 0a3.3 1.8 0 1 0-6.6 0zM522.0 1943.8a3.3 1.8 0 1 0 6.6 0a3.3 1.8 0 1 0-6.6 0zM522.0 1949.4a3.3 1.8 0 1 0 6.6 0a3.3 1.8 0 1 0-6.6 0zM522.0 1955.0a3.3 1.8 0 1 0 6.6 0a3.3 1.8 0 1 0-6.6 0zM522.0 1960.6a3.3 1.8 0 1 0 6.6 0a3.3 1.8 0 1 0-6.6 0z"/>
<path class="dk" d="M524.1 1824.3h2.4v2.4h-2.4zM522.7 1806.8h5.2l-2.6 3.2z"/>
<rect class="bx c3" x="521.61" y="1838.1" width="7.45" height="17.1"/>
<ellipse class="el c3" cx="525.33" cy="1845.9" rx="17.40" ry="9.15"/>
<path class="dk" d="M534.3 1839.2h2.4v2.4h-2.4zM534.3 1819.6h2.4v2.4h-2.4zM534.3 1800.0h2.4v2.4h-2.4zM532.9 1778.8h5.2l-2.6 3.2zM534.3 1914.4h2.4v2.4h-2.4zM534.3 1934.0h2.4v2.4h-2.4zM534.3 1953.6h2.4v2.4h-2.4zM532.8 1963.3h5.6v2.2h-5.6z"/>
<rect class="bx c4" x="531.82" y="1853.0" width="7.45" height="49.9"/>
<ellipse class="el c4" cx="535.55" cy="1877.3" rx="17.40" ry="9.15"/>
<path class="gr" d="M542.5 1910.2a3.3 1.8 0 1 0 6.6 0a3.3 1.8 0 1 0-6.6 0zM542.5 1915.2a3.3 1.8 0 1 0 6.6 0a3.3 1.8 0 1 0-6.6 0zM542.5 1920.2a3.3 1.8 0 1 0 6.6 0a3.3 1.8 0 1 0-6.6 0zM542.5 1925.1a3.3 1.8 0 1 0 6.6 0a3.3 1.8 0 1 0-6.6 0zM542.5 1930.1a3.3 1.8 0 1 0 6.6 0a3.3 1.8 0 1 0-6.6 0zM542.5 1935.1a3.3 1.8 0 1 0 6.6 0a3.3 1.8 0 1 0-6.6 0zM542.5 1940.1a3.3 1.8 0 1 0 6.6 0a3.3 1.8 0 1 0-6.6 0zM542.5 1945.0a3.3 1.8 0 1 0 6.6 0a3.3 1.8 0 1 0-6.6 0zM542.5 1950.0a3.3 1.8 0 1 0 6.6 0a3.3 1.8 0 1 0-6.6 0zM542.5 1955.0a3.3 1.8 0 1 0 6.6 0a3.3 1.8 0 1 0-6.6 0zM542.5 1971.8a3.3 1.8 0 1 0 6.6 0a3.3 1.8 0 1 0-6.6 0zM542.5 1977.4a3.3 1.8 0 1 0 6.6 0a3.3 1.8 0 1 0-6.6 0zM542.5 1983.1a3.3 1.8 0 1 0 6.6 0a3.3 1.8 0 1 0-6.6 0zM542.5 1988.7a3.3 1.8 0 1 0 6.6 0a3.3 1.8 0 1 0-6.6 0z"/>
<path class="dk" d="M543.2 1748.9h5.2l-2.6 3.2zM544.6 1827.3h2.4v2.4h-2.4zM544.6 1846.9h2.4v2.4h-2.4zM544.6 1866.5h2.4v2.4h-2.4zM543.0 1886.6h5.6v2.2h-5.6z"/>
<rect class="bx c5" x="542.04" y="1760.7" width="7.45" height="55.1"/>
<rect class="dk" x="542.04" y="1764.0" width="7.45" height="3"/>
<ellipse class="el c5" cx="545.77" cy="1797.3" rx="17.40" ry="9.15"/>
<path class="gr" d="M552.7 1859.7a3.3 1.8 0 1 0 6.6 0a3.3 1.8 0 1 0-6.6 0zM552.7 1865.3a3.3 1.8 0 1 0 6.6 0a3.3 1.8 0 1 0-6.6 0zM552.7 1870.9a3.3 1.8 0 1 0 6.6 0a3.3 1.8 0 1 0-6.6 0zM552.7 1876.5a3.3 1.8 0 1 0 6.6 0a3.3 1.8 0 1 0-6.6 0zM552.7 1906.4a3.3 1.8 0 1 0 6.6 0a3.3 1.8 0 1 0-6.6 0zM552.7 1910.2a3.3 1.8 0 1 0 6.6 0a3.3 1.8 0 1 0-6.6 0z"/>
<path class="dk" d="M554.8 2015.7h2.4v2.4h-2.4zM554.8 1996.1h2.4v2.4h-2.4zM554.8 1976.5h2.4v2.4h-2.4zM553.4 1971.3h5.2l-2.6 3.2zM554.8 2105.0h2.4v2.4h-2.4zM553.2 2118.4h5.6v2.2h-5.6z"/>
<rect class="bx c6" x="552.26" y="2029.5" width="7.45" height="64.1"/>
<rect class="dk" x="552.26" y="2054.4" width="7.45" height="3"/>
<ellipse class="el c6" cx="555.99" cy="2041.7" rx="17.40" ry="9.15"/>
<path class="gr" d="M606.6 2065.3a3.3 1.8 0 1 0 6.6 0a3.3 1.8 0 1 0-6.6 0zM606.6 2069.0a3.3 1.8 0 1 0 6.6 0a3.3 1.8 0 1 0-6.6 0z"/>
<path class="dk" d="M608.7 1920.3h2.4v2.4h-2.4zM608.7 1900.7h2.4v2.4h-2.4zM607.3 1892.1h5.2l-2.6 3.2zM608.7 1961.9h2.4v2.4h-2.4zM608.7 1981.5h2.4v2.4h-2.4zM608.7 2001.1h2.4v2.4h-2.4zM608.7 2020.7h2.4v2.4h-2.4zM608.7 2040.3h2.4v2.4h-2.4zM607.1 2060.4h5.6v2.2h-5.6z"/>
<rect class="bx cp" x="606.20" y="1934.1" width="7.45" height="16.4"/>
<ellipse class="el cp" cx="609.93" cy="1959.5" rx="17.40" ry="9.15"/>
<path class="gr" d="M616.9 2076.5a3.3 1.8 0 1 0 6.6 0a3.3 1.8 0 1 0-6.6 0zM616.9 2080.9a3.3 1.8 0 1 0 6.6 0a3.3 1.8 0 1 0-6.6 0zM616.9 2085.2a3.3 1.8 0 1 0 6.6 0a3.3 1.8 0 1 0-6.6 0zM616.9 2089.6a3.3 1.8 0 1 0 6.6 0a3.3 1.8 0 1 0-6.6 0z"/>
<path class="dk" d="M618.9 1935.3h2.4v2.4h-2.4zM617.5 1922.7h5.2l-2.6 3.2zM618.9 1986.2h2.4v2.4h-2.4zM618.9 2005.8h2.4v2.4h-2.4zM617.4 2015.6h5.6v2.2h-5.6z"/>
<rect class="bx cm" x="616.42" y="1949.1" width="7.45" height="25.6"/>
<ellipse class="el cm" cx="620.15" cy="1975.6" rx="17.40" ry="9.15"/>
<path class="dk" d="M629.2 1828.0h2.4v2.4h-2.4zM629.2 1808.4h2.4v2.4h-2.4zM627.8 1794.1h5.2l-2.6 3.2zM629.2 1945.1h2.4v2.4h-2.4zM629.2 1964.7h2.4v2.4h-2.4zM629.2 1984.3h2.4v2.4h-2.4zM629.2 2003.9h2.4v2.4h-2.4zM627.6 2009.2h5.6v2.2h-5.6z"/>
<rect class="bx cb" x="626.64" y="1841.8" width="7.45" height="91.8"/>
<ellipse class="el cb" cx="630.37" cy="1881.4" rx="17.40" ry="9.15"/>
<path class="dk" d="M638.0 1824.0h5.2l-2.6 3.2zM639.4 1905.8h2.4v2.4h-2.4zM639.4 1925.4h2.4v2.4h-2.4zM639.4 1945.0h2.4v2.4h-2.4zM639.4 1964.6h2.4v2.4h-2.4zM637.8 1979.0h5.6v2.2h-5.6z"/>
<rect class="bx co" x="636.86" y="1839.2" width="7.45" height="55.1"/>
<rect class="dk" x="636.86" y="1840.6" width="7.45" height="3"/>
<ellipse class="el co" cx="640.59" cy="1870.2" rx="17.40" ry="9.15"/>
<path class="gr" d="M647.5 1831.7a3.3 1.8 0 1 0 6.6 0a3.3 1.8 0 1 0-6.6 0zM647.5 1837.0a3.3 1.8 0 1 0 6.6 0a3.3 1.8 0 1 0-6.6 0zM647.5 1842.3a3.3 1.8 0 1 0 6.6 0a3.3 1.8 0 1 0-6.6 0zM647.5 1847.6a3.3 1.8 0 1 0 6.6 0a3.3 1.8 0 1 0-6.6 0zM647.5 1852.8a3.3 1.8 0 1 0 6.6 0a3.3 1.8 0 1 0-6.6 0zM647.5 1858.1a3.3 1.8 0 1 0 6.6 0a3.3 1.8 0 1 0-6.6 0zM647.5 1863.4a3.3 1.8 0 1 0 6.6 0a3.3 1.8 0 1 0-6.6 0z"/>
<path class="dk" d="M648.2 1643.5h5.2l-2.6 3.2zM649.6 1734.6h2.4v2.4h-2.4zM649.6 1754.2h2.4v2.4h-2.4zM649.6 1773.8h2.4v2.4h-2.4zM649.6 1793.4h2.4v2.4h-2.4zM649.6 1813.0h2.4v2.4h-2.4zM648.0 1819.4h5.6v2.2h-5.6z"/>
<rect class="bx c1" x="647.08" y="1653.8" width="7.45" height="69.3"/>
<rect class="dk" x="647.08" y="1667.6" width="7.45" height="3"/>
<ellipse class="el c1" cx="650.81" cy="1703.5" rx="17.40" ry="9.15"/>
<path class="gr" d="M657.7 1950.5a3.3 1.8 0 1 0 6.6 0a3.3 1.8 0 1 0-6.6 0zM657.7 1956.9a3.3 1.8 0 1 0 6.6 0a3.3 1.8 0 1 0-6.6 0z"/>
<path class="dk" d="M659.8 2006.7h2.4v2.4h-2.4zM659.8 1987.1h2.4v2.4h-2.4zM658.4 1966.8h5.2l-2.6 3.2zM659.8 2064.7h2.4v2.4h-2.4zM659.8 2084.3h2.4v2.4h-2.4zM658.2 2089.6h5.6v2.2h-5.6z"/>
<rect class="bx c2" x="657.30" y="2020.5" width="7.45" height="32.7"/>
<ellipse class="el c2" cx="661.03" cy="2036.1" rx="17.40" ry="9.15"/>
<path class="dk" d="M670.0 1816.8h2.4v2.4h-2.4zM668.6 1808.7h5.2l-2.6 3.2z"/>
<rect class="bx c3" x="667.52" y="1830.6" width="7.45" height="83.6"/>
<rect class="dk" x="667.52" y="1850.0" width="7.45" height="3"/>
<ellipse class="el c3" cx="671.25" cy="1880.3" rx="17.40" ry="9.15"/>
<path class="gr" d="M678.2 1662.4a3.3 1.8 0 1 0 6.6 0a3.3 1.8 0 1 0-6.6 0zM678.2 1668.6a3.3 1.8 0 1 0 6.6 0a3.3 1.8 0 1 0-6.6 0zM678.2 1674.7a3.3 1.8 0 1 0 6.6 0a3.3 1.8 0 1 0-6.6 0zM678.2 1691.5a3.3 1.8 0 1 0 6.6 0a3.3 1.8 0 1 0-6.6 0zM678.2 1696.4a3.3 1.8 0 1 0 6.6 0a3.3 1.8 0 1 0-6.6 0zM678.2 1701.2a3.3 1.8 0 1 0 6.6 0a3.3 1.8 0 1 0-6.6 0zM678.2 1706.1a3.3 1.8 0 1 0 6.6 0a3.3 1.8 0 1 0-6.6 0zM678.2 1710.9a3.3 1.8 0 1 0 6.6 0a3.3 1.8 0 1 0-6.6 0zM678.2 1715.8a3.3 1.8 0 1 0 6.6 0a3.3 1.8 0 1 0-6.6 0zM678.2 1725.2a3.3 1.8 0 1 0 6.6 0a3.3 1.8 0 1 0-6.6 0zM678.2 1730.8a3.3 1.8 0 1 0 6.6 0a3.3 1.8 0 1 0-6.6 0z"/>
<path class="dk" d="M680.3 1859.1h2.4v2.4h-2.4zM678.7 1865.3h5.6v2.2h-5.6z"/>
<rect class="bx c4" x="677.74" y="1826.9" width="7.45" height="20.8"/>
<rect class="dk" x="677.74" y="1835.8" width="7.45" height="3"/>
<ellipse class="el c4" cx="681.47" cy="1823.5" rx="17.40" ry="9.15"/>
<path class="gr" d="M688.4 2141.9a3.3 1.8 0 1 0 6.6 0a3.3 1.8 0 1 0-6.6 0zM688.4 2143.8a3.3 1.8 0 1 0 6.6 0a3.3 1.8 0 1 0-6.6 0zM688.4 2160.6a3.3 1.8 0 1 0 6.6 0a3.3 1.8 0 1 0-6.6 0zM688.4 2162.5a3.3 1.8 0 1 0 6.6 0a3.3 1.8 0 1 0-6.6 0z"/>
<path class="dk" d="M690.5 2000.7h2.4v2.4h-2.4zM690.5 1981.1h2.4v2.4h-2.4zM690.5 1961.5h2.4v2.4h-2.4zM689.1 1954.5h5.2l-2.6 3.2zM690.5 2072.1h2.4v2.4h-2.4zM690.5 2091.7h2.4v2.4h-2.4zM688.9 2114.6h5.6v2.2h-5.6z"/>
<rect class="bx c5" x="687.96" y="2014.5" width="7.45" height="46.1"/>
<rect class="dk" x="687.96" y="2022.7" width="7.45" height="3"/>
<ellipse class="el c5" cx="691.69" cy="2043.6" rx="17.40" ry="9.15"/>
<path class="gr" d="M698.6 2039.1a3.3 1.8 0 1 0 6.6 0a3.3 1.8 0 1 0-6.6 0zM698.6 2044.7a3.3 1.8 0 1 0 6.6 0a3.3 1.8 0 1 0-6.6 0zM698.6 2057.8a3.3 1.8 0 1 0 6.6 0a3.3 1.8 0 1 0-6.6 0zM698.6 2063.1a3.3 1.8 0 1 0 6.6 0a3.3 1.8 0 1 0-6.6 0zM698.6 2068.4a3.3 1.8 0 1 0 6.6 0a3.3 1.8 0 1 0-6.6 0zM698.6 2073.7a3.3 1.8 0 1 0 6.6 0a3.3 1.8 0 1 0-6.6 0zM698.6 2079.0a3.3 1.8 0 1 0 6.6 0a3.3 1.8 0 1 0-6.6 0zM698.6 2084.3a3.3 1.8 0 1 0 6.6 0a3.3 1.8 0 1 0-6.6 0zM698.6 2089.6a3.3 1.8 0 1 0 6.6 0a3.3 1.8 0 1 0-6.6 0zM698.6 2117.6a3.3 1.8 0 1 0 6.6 0a3.3 1.8 0 1 0-6.6 0zM698.6 2122.3a3.3 1.8 0 1 0 6.6 0a3.3 1.8 0 1 0-6.6 0zM698.6 2126.9a3.3 1.8 0 1 0 6.6 0a3.3 1.8 0 1 0-6.6 0zM698.6 2131.6a3.3 1.8 0 1 0 6.6 0a3.3 1.8 0 1 0-6.6 0zM698.6 2136.3a3.3 1.8 0 1 0 6.6 0a3.3 1.8 0 1 0-6.6 0z"/>
<path class="dk" d="M699.3 1662.9h5.2l-2.6 3.2zM700.7 1735.8h2.4v2.4h-2.4zM700.7 1755.4h2.4v2.4h-2.4zM699.1 1765.2h5.6v2.2h-5.6z"/>
<rect class="bx c6" x="698.18" y="1670.6" width="7.45" height="53.8"/>
<rect class="dk" x="698.18" y="1676.9" width="7.45" height="3"/>
<ellipse class="el c6" cx="701.91" cy="1738.2" rx="17.40" ry="9.15"/>
<path class="dk" d="M753.0 1939.0h5.6v2.2h-5.6z"/>
<rect class="bx cp" x="752.12" y="1896.0" width="7.45" height="33.9"/>
<ellipse class="el cp" cx="755.85" cy="1915.0" rx="17.40" ry="9.15"/>
<path class="gr" d="M762.8 1737.1a3.3 1.8 0 1 0 6.6 0a3.3 1.8 0 1 0-6.6 0zM762.8 1742.5a3.3 1.8 0 1 0 6.6 0a3.3 1.8 0 1 0-6.6 0zM762.8 1747.8a3.3 1.8 0 1 0 6.6 0a3.3 1.8 0 1 0-6.6 0zM762.8 1753.2a3.3 1.8 0 1 0 6.6 0a3.3 1.8 0 1 0-6.6 0z"/>
<path class="dk" d="M764.9 1854.2h2.4v2.4h-2.4zM764.9 1834.6h2.4v2.4h-2.4zM763.5 1814.7h5.2l-2.6 3.2z"/>
<rect class="bx cm" x="762.34" y="1868.0" width="7.45" height="30.1"/>
<ellipse class="el cm" cx="766.07" cy="1870.2" rx="17.40" ry="9.15"/>
<path class="gr" d="M773.0 1693.4a3.3 1.8 0 1 0 6.6 0a3.3 1.8 0 1 0-6.6 0zM773.0 1699.0a3.3 1.8 0 1 0 6.6 0a3.3 1.8 0 1 0-6.6 0zM773.0 1704.6a3.3 1.8 0 1 0 6.6 0a3.3 1.8 0 1 0-6.6 0zM773.0 1715.8a3.3 1.8 0 1 0 6.6 0a3.3 1.8 0 1 0-6.6 0zM773.0 1715.8a3.3 1.8 0 1 0 6.6 0a3.3 1.8 0 1 0-6.6 0z"/>
<rect class="bx cb" x="772.56" y="1868.0" width="7.45" height="22.6"/>
<rect class="dk" x="772.56" y="1878.8" width="7.45" height="3"/>
<ellipse class="el cb" cx="776.29" cy="1859.7" rx="17.40" ry="9.15"/>
<path class="gr" d="M783.2 1838.4a3.3 1.8 0 1 0 6.6 0a3.3 1.8 0 1 0-6.6 0zM783.2 1843.3a3.3 1.8 0 1 0 6.6 0a3.3 1.8 0 1 0-6.6 0zM783.2 1848.2a3.3 1.8 0 1 0 6.6 0a3.3 1.8 0 1 0-6.6 0zM783.2 1853.1a3.3 1.8 0 1 0 6.6 0a3.3 1.8 0 1 0-6.6 0zM783.2 1858.1a3.3 1.8 0 1 0 6.6 0a3.3 1.8 0 1 0-6.6 0zM783.2 1863.0a3.3 1.8 0 1 0 6.6 0a3.3 1.8 0 1 0-6.6 0zM783.2 1867.9a3.3 1.8 0 1 0 6.6 0a3.3 1.8 0 1 0-6.6 0zM783.2 1872.8a3.3 1.8 0 1 0 6.6 0a3.3 1.8 0 1 0-6.6 0zM783.2 1900.8a3.3 1.8 0 1 0 6.6 0a3.3 1.8 0 1 0-6.6 0zM783.2 1904.6a3.3 1.8 0 1 0 6.6 0a3.3 1.8 0 1 0-6.6 0z"/>
<path class="dk" d="M785.3 1927.1h2.4v2.4h-2.4zM783.9 1908.9h5.2l-2.6 3.2z"/>
<rect class="bx co" x="782.78" y="1940.9" width="7.45" height="13.3"/>
<ellipse class="el co" cx="786.51" cy="1932.6" rx="17.40" ry="9.15"/>
<path class="gr" d="M793.4 1841.0a3.3 1.8 0 1 0 6.6 0a3.3 1.8 0 1 0-6.6 0zM793.4 1846.6a3.3 1.8 0 1 0 6.6 0a3.3 1.8 0 1 0-6.6 0zM793.4 1852.2a3.3 1.8 0 1 0 6.6 0a3.3 1.8 0 1 0-6.6 0zM793.4 1857.8a3.3 1.8 0 1 0 6.6 0a3.3 1.8 0 1 0-6.6 0zM793.4 1863.4a3.3 1.8 0 1 0 6.6 0a3.3 1.8 0 1 0-6.6 0zM793.4 2072.8a3.3 1.8 0 1 0 6.6 0a3.3 1.8 0 1 0-6.6 0zM793.4 2077.5a3.3 1.8 0 1 0 6.6 0a3.3 1.8 0 1 0-6.6 0zM793.4 2082.2a3.3 1.8 0 1 0 6.6 0a3.3 1.8 0 1 0-6.6 0zM793.4 2086.8a3.3 1.8 0 1 0 6.6 0a3.3 1.8 0 1 0-6.6 0zM793.4 2091.5a3.3 1.8 0 1 0 6.6 0a3.3 1.8 0 1 0-6.6 0zM793.4 2136.3a3.3 1.8 0 1 0 6.6 0a3.3 1.8 0 1 0-6.6 0zM793.4 2138.2a3.3 1.8 0 1 0 6.6 0a3.3 1.8 0 1 0-6.6 0zM793.4 2164.3a3.3 1.8 0 1 0 6.6 0a3.3 1.8 0 1 0-6.6 0zM793.4 2166.2a3.3 1.8 0 1 0 6.6 0a3.3 1.8 0 1 0-6.6 0z"/>
<path class="dk" d="M795.5 1935.3h2.4v2.4h-2.4zM795.5 1915.7h2.4v2.4h-2.4zM795.5 1896.1h2.4v2.4h-2.4zM794.1 1879.0h5.2l-2.6 3.2zM795.5 2006.7h2.4v2.4h-2.4zM795.5 2026.3h2.4v2.4h-2.4zM795.5 2045.9h2.4v2.4h-2.4zM793.9 2066.8h5.6v2.2h-5.6z"/>
<rect class="bx c1" x="793.00" y="1949.1" width="7.45" height="46.1"/>
<rect class="dk" x="793.00" y="1966.6" width="7.45" height="3"/>
<ellipse class="el c1" cx="796.73" cy="1982.3" rx="17.40" ry="9.15"/>
<path class="dk" d="M805.7 1981.3h2.4v2.4h-2.4zM805.7 1961.7h2.4v2.4h-2.4zM804.3 1938.8h5.2l-2.6 3.2zM805.7 2057.2h2.4v2.4h-2.4zM805.7 2076.8h2.4v2.4h-2.4zM804.1 2096.7h5.6v2.2h-5.6z"/>
<rect class="bx c2" x="803.22" y="1995.1" width="7.45" height="50.6"/>
<ellipse class="el c2" cx="806.95" cy="2016.7" rx="17.40" ry="9.15"/>
<path class="dk" d="M816.0 1846.7h2.4v2.4h-2.4zM814.6 1836.0h5.2l-2.6 3.2zM816.0 1906.9h2.4v2.4h-2.4zM816.0 1926.5h2.4v2.4h-2.4zM814.4 1937.1h5.6v2.2h-5.6z"/>
<rect class="bx c3" x="813.44" y="1860.5" width="7.45" height="34.9"/>
<ellipse class="el c3" cx="817.17" cy="1868.3" rx="17.40" ry="9.15"/>
<path class="gr" d="M824.1 1945.7a3.3 1.8 0 1 0 6.6 0a3.3 1.8 0 1 0-6.6 0zM824.1 1950.1a3.3 1.8 0 1 0 6.6 0a3.3 1.8 0 1 0-6.6 0zM824.1 1954.4a3.3 1.8 0 1 0 6.6 0a3.3 1.8 0 1 0-6.6 0zM824.1 1958.8a3.3 1.8 0 1 0 6.6 0a3.3 1.8 0 1 0-6.6 0zM824.1 2020.4a3.3 1.8 0 1 0 6.6 0a3.3 1.8 0 1 0-6.6 0zM824.1 2024.2a3.3 1.8 0 1 0 6.6 0a3.3 1.8 0 1 0-6.6 0zM824.1 2027.9a3.3 1.8 0 1 0 6.6 0a3.3 1.8 0 1 0-6.6 0zM824.1 2042.9a3.3 1.8 0 1 0 6.6 0a3.3 1.8 0 1 0-6.6 0zM824.1 2047.5a3.3 1.8 0 1 0 6.6 0a3.3 1.8 0 1 0-6.6 0zM824.1 2052.2a3.3 1.8 0 1 0 6.6 0a3.3 1.8 0 1 0-6.6 0z"/>
<path class="dk" d="M826.2 1970.1h2.4v2.4h-2.4zM824.8 1959.3h5.2l-2.6 3.2zM826.2 1997.4h2.4v2.4h-2.4zM824.6 2017.5h5.6v2.2h-5.6z"/>
<rect class="bx c4" x="823.66" y="1983.9" width="7.45" height="2.1"/>
<ellipse class="el c4" cx="827.39" cy="1995.0" rx="17.40" ry="9.15"/>
<path class="gr" d="M834.3 1678.4a3.3 1.8 0 1 0 6.6 0a3.3 1.8 0 1 0-6.6 0zM834.3 1682.2a3.3 1.8 0 1 0 6.6 0a3.3 1.8 0 1 0-6.6 0zM834.3 1697.1a3.3 1.8 0 1 0 6.6 0a3.3 1.8 0 1 0-6.6 0zM834.3 1702.1a3.3 1.8 0 1 0 6.6 0a3.3 1.8 0 1 0-6.6 0zM834.3 1707.1a3.3 1.8 0 1 0 6.6 0a3.3 1.8 0 1 0-6.6 0zM834.3 1712.0a3.3 1.8 0 1 0 6.6 0a3.3 1.8 0 1 0-6.6 0zM834.3 1717.0a3.3 1.8 0 1 0 6.6 0a3.3 1.8 0 1 0-6.6 0zM834.3 1722.0a3.3 1.8 0 1 0 6.6 0a3.3 1.8 0 1 0-6.6 0zM834.3 1727.0a3.3 1.8 0 1 0 6.6 0a3.3 1.8 0 1 0-6.6 0zM834.3 1749.4a3.3 1.8 0 1 0 6.6 0a3.3 1.8 0 1 0-6.6 0zM834.3 1755.0a3.3 1.8 0 1 0 6.6 0a3.3 1.8 0 1 0-6.6 0zM834.3 1760.7a3.3 1.8 0 1 0 6.6 0a3.3 1.8 0 1 0-6.6 0zM834.3 1766.3a3.3 1.8 0 1 0 6.6 0a3.3 1.8 0 1 0-6.6 0z"/>
<path class="dk" d="M836.4 1887.8h2.4v2.4h-2.4zM836.4 1868.2h2.4v2.4h-2.4zM836.4 1848.6h2.4v2.4h-2.4zM835.0 1830.4h5.2l-2.6 3.2zM836.4 1956.3h2.4v2.4h-2.4zM834.8 1968.9h5.6v2.2h-5.6z"/>
<rect class="bx c5" x="833.88" y="1901.6" width="7.45" height="43.3"/>
<rect class="dk" x="833.88" y="1920.6" width="7.45" height="3"/>
<ellipse class="el c5" cx="837.61" cy="1896.3" rx="17.40" ry="9.15"/>
<path class="gr" d="M844.5 1816.7a3.3 1.8 0 1 0 6.6 0a3.3 1.8 0 1 0-6.6 0zM844.5 1821.6a3.3 1.8 0 1 0 6.6 0a3.3 1.8 0 1 0-6.6 0z"/>
<path class="dk" d="M846.6 1829.9h2.4v2.4h-2.4zM845.2 1821.8h5.2l-2.6 3.2zM845.0 1879.2h5.6v2.2h-5.6z"/>
<rect class="bx c6" x="844.10" y="1843.7" width="7.45" height="22.6"/>
<ellipse class="el c6" cx="847.83" cy="1856.0" rx="17.40" ry="9.15"/>
<path class="gr" d="M898.5 1783.1a3.3 1.8 0 1 0 6.6 0a3.3 1.8 0 1 0-6.6 0zM898.5 1788.0a3.3 1.8 0 1 0 6.6 0a3.3 1.8 0 1 0-6.6 0zM898.5 1792.9a3.3 1.8 0 1 0 6.6 0a3.3 1.8 0 1 0-6.6 0zM898.5 1797.8a3.3 1.8 0 1 0 6.6 0a3.3 1.8 0 1 0-6.6 0zM898.5 1802.7a3.3 1.8 0 1 0 6.6 0a3.3 1.8 0 1 0-6.6 0zM898.5 1807.6a3.3 1.8 0 1 0 6.6 0a3.3 1.8 0 1 0-6.6 0zM898.5 1812.5a3.3 1.8 0 1 0 6.6 0a3.3 1.8 0 1 0-6.6 0zM898.5 1817.4a3.3 1.8 0 1 0 6.6 0a3.3 1.8 0 1 0-6.6 0zM898.5 1822.3a3.3 1.8 0 1 0 6.6 0a3.3 1.8 0 1 0-6.6 0z"/>
<path class="dk" d="M900.6 2007.4h2.4v2.4h-2.4zM900.6 1987.8h2.4v2.4h-2.4zM900.6 1968.2h2.4v2.4h-2.4zM900.6 1948.6h2.4v2.4h-2.4zM899.2 1936.2h5.2l-2.6 3.2zM900.6 2094.6h2.4v2.4h-2.4zM899.0 2112.0h5.6v2.2h-5.6z"/>
<rect class="bx cp" x="898.04" y="2021.2" width="7.45" height="61.9"/>
<ellipse class="el cp" cx="901.77" cy="2035.4" rx="17.40" ry="9.15"/>
<path class="gr" d="M908.7 1829.8a3.3 1.8 0 1 0 6.6 0a3.3 1.8 0 1 0-6.6 0zM908.7 1833.5a3.3 1.8 0 1 0 6.6 0a3.3 1.8 0 1 0-6.6 0zM908.7 1837.3a3.3 1.8 0 1 0 6.6 0a3.3 1.8 0 1 0-6.6 0z"/>
<path class="dk" d="M910.8 2025.4h2.4v2.4h-2.4zM910.8 2005.8h2.4v2.4h-2.4zM910.8 1986.2h2.4v2.4h-2.4zM910.8 1966.6h2.4v2.4h-2.4zM910.8 1947.0h2.4v2.4h-2.4zM910.8 1927.4h2.4v2.4h-2.4zM910.8 1907.8h2.4v2.4h-2.4zM910.8 1888.2h2.4v2.4h-2.4zM909.4 1881.6h5.2l-2.6 3.2zM910.8 2167.5h2.4v2.4h-2.4zM909.2 2176.3h5.6v2.2h-5.6z"/>
<rect class="bx cm" x="908.26" y="2039.2" width="7.45" height="116.8"/>
<rect class="dk" x="908.26" y="2146.0" width="7.45" height="3"/>
<ellipse class="el cm" cx="911.99" cy="2093.3" rx="17.40" ry="9.15"/>
<path class="gr" d="M918.9 1781.2a3.3 1.8 0 1 0 6.6 0a3.3 1.8 0 1 0-6.6 0zM918.9 1786.8a3.3 1.8 0 1 0 6.6 0a3.3 1.8 0 1 0-6.6 0zM918.9 1792.4a3.3 1.8 0 1 0 6.6 0a3.3 1.8 0 1 0-6.6 0zM918.9 1798.0a3.3 1.8 0 1 0 6.6 0a3.3 1.8 0 1 0-6.6 0zM918.9 1803.6a3.3 1.8 0 1 0 6.6 0a3.3 1.8 0 1 0-6.6 0z"/>
<path class="dk" d="M921.0 2051.5h2.4v2.4h-2.4zM921.0 2031.9h2.4v2.4h-2.4zM921.0 2012.3h2.4v2.4h-2.4zM921.0 1992.7h2.4v2.4h-2.4zM921.0 1973.1h2.4v2.4h-2.4zM921.0 1953.5h2.4v2.4h-2.4zM921.0 1933.9h2.4v2.4h-2.4zM921.0 1914.3h2.4v2.4h-2.4zM921.0 1894.7h2.4v2.4h-2.4zM919.6 1873.4h5.2l-2.6 3.2zM919.4 2207.0h5.6v2.2h-5.6z"/>
<rect class="bx cb" x="918.49" y="2065.3" width="7.45" height="126.3"/>
<rect class="dk" x="918.49" y="2144.1" width="7.45" height="3"/>
<ellipse class="el cb" cx="922.21" cy="2110.1" rx="17.40" ry="9.15"/>
<path class="gr" d="M929.1 1889.6a3.3 1.8 0 1 0 6.6 0a3.3 1.8 0 1 0-6.6 0zM929.1 1894.4a3.3 1.8 0 1 0 6.6 0a3.3 1.8 0 1 0-6.6 0zM929.1 1899.2a3.3 1.8 0 1 0 6.6 0a3.3 1.8 0 1 0-6.6 0zM929.1 1903.9a3.3 1.8 0 1 0 6.6 0a3.3 1.8 0 1 0-6.6 0zM929.1 1908.7a3.3 1.8 0 1 0 6.6 0a3.3 1.8 0 1 0-6.6 0zM929.1 1913.5a3.3 1.8 0 1 0 6.6 0a3.3 1.8 0 1 0-6.6 0zM929.1 1918.3a3.3 1.8 0 1 0 6.6 0a3.3 1.8 0 1 0-6.6 0zM929.1 1923.0a3.3 1.8 0 1 0 6.6 0a3.3 1.8 0 1 0-6.6 0zM929.1 1927.8a3.3 1.8 0 1 0 6.6 0a3.3 1.8 0 1 0-6.6 0zM929.1 1932.6a3.3 1.8 0 1 0 6.6 0a3.3 1.8 0 1 0-6.6 0z"/>
<path class="dk" d="M931.2 1859.1h2.4v2.4h-2.4zM929.6 1879.2h5.6v2.2h-5.6z"/>
<rect class="bx co" x="928.70" y="1846.7" width="7.45" height="0.9"/>
<ellipse class="el co" cx="932.43" cy="1857.1" rx="17.40" ry="9.15"/>
<path class="gr" d="M939.4 1826.1a3.3 1.8 0 1 0 6.6 0a3.3 1.8 0 1 0-6.6 0zM939.4 1831.7a3.3 1.8 0 1 0 6.6 0a3.3 1.8 0 1 0-6.6 0zM939.4 1837.3a3.3 1.8 0 1 0 6.6 0a3.3 1.8 0 1 0-6.6 0zM939.4 1842.9a3.3 1.8 0 1 0 6.6 0a3.3 1.8 0 1 0-6.6 0z"/>
<path class="dk" d="M939.9 2112.0h5.6v2.2h-5.6z"/>
<rect class="bx c1" x="938.92" y="2000.7" width="7.45" height="102.9"/>
<rect class="dk" x="938.92" y="2088.1" width="7.45" height="3"/>
<ellipse class="el c1" cx="942.65" cy="2039.1" rx="17.40" ry="9.15"/>
<path class="gr" d="M949.6 1934.5a3.3 1.8 0 1 0 6.6 0a3.3 1.8 0 1 0-6.6 0zM949.6 1939.3a3.3 1.8 0 1 0 6.6 0a3.3 1.8 0 1 0-6.6 0zM949.6 1944.1a3.3 1.8 0 1 0 6.6 0a3.3 1.8 0 1 0-6.6 0zM949.6 1948.9a3.3 1.8 0 1 0 6.6 0a3.3 1.8 0 1 0-6.6 0zM949.6 1953.7a3.3 1.8 0 1 0 6.6 0a3.3 1.8 0 1 0-6.6 0zM949.6 1958.5a3.3 1.8 0 1 0 6.6 0a3.3 1.8 0 1 0-6.6 0zM949.6 1963.3a3.3 1.8 0 1 0 6.6 0a3.3 1.8 0 1 0-6.6 0zM949.6 1968.1a3.3 1.8 0 1 0 6.6 0a3.3 1.8 0 1 0-6.6 0z"/>
<path class="dk" d="M951.7 1699.1h2.4v2.4h-2.4zM950.3 1690.2h5.2l-2.6 3.2z"/>
<rect class="bx c2" x="949.14" y="1712.9" width="7.45" height="86.2"/>
<rect class="dk" x="949.14" y="1734.1" width="7.45" height="3"/>
<ellipse class="el c2" cx="952.87" cy="1770.0" rx="17.40" ry="9.15"/>
<path class="gr" d="M959.8 1792.4a3.3 1.8 0 1 0 6.6 0a3.3 1.8 0 1 0-6.6 0zM959.8 1796.8a3.3 1.8 0 1 0 6.6 0a3.3 1.8 0 1 0-6.6 0zM959.8 1801.1a3.3 1.8 0 1 0 6.6 0a3.3 1.8 0 1 0-6.6 0zM959.8 1805.5a3.3 1.8 0 1 0 6.6 0a3.3 1.8 0 1 0-6.6 0z"/>
<path class="dk" d="M961.9 1912.1h2.4v2.4h-2.4zM961.9 1892.5h2.4v2.4h-2.4zM961.9 1872.9h2.4v2.4h-2.4zM961.9 1853.3h2.4v2.4h-2.4zM961.9 1833.7h2.4v2.4h-2.4zM960.5 1820.3h5.2l-2.6 3.2zM960.3 2006.3h5.6v2.2h-5.6z"/>
<rect class="bx c3" x="959.37" y="1925.9" width="7.45" height="67.6"/>
<rect class="dk" x="959.37" y="1977.1" width="7.45" height="3"/>
<ellipse class="el c3" cx="963.09" cy="1949.4" rx="17.40" ry="9.15"/>
<path class="gr" d="M970.0 1895.2a3.3 1.8 0 1 0 6.6 0a3.3 1.8 0 1 0-6.6 0zM970.0 1900.5a3.3 1.8 0 1 0 6.6 0a3.3 1.8 0 1 0-6.6 0zM970.0 1905.8a3.3 1.8 0 1 0 6.6 0a3.3 1.8 0 1 0-6.6 0zM970.0 1911.1a3.3 1.8 0 1 0 6.6 0a3.3 1.8 0 1 0-6.6 0zM970.0 1916.4a3.3 1.8 0 1 0 6.6 0a3.3 1.8 0 1 0-6.6 0zM970.0 1921.7a3.3 1.8 0 1 0 6.6 0a3.3 1.8 0 1 0-6.6 0zM970.0 1927.0a3.3 1.8 0 1 0 6.6 0a3.3 1.8 0 1 0-6.6 0zM970.0 2033.5a3.3 1.8 0 1 0 6.6 0a3.3 1.8 0 1 0-6.6 0zM970.0 2038.6a3.3 1.8 0 1 0 6.6 0a3.3 1.8 0 1 0-6.6 0zM970.0 2043.6a3.3 1.8 0 1 0 6.6 0a3.3 1.8 0 1 0-6.6 0zM970.0 2048.7a3.3 1.8 0 1 0 6.6 0a3.3 1.8 0 1 0-6.6 0zM970.0 2053.8a3.3 1.8 0 1 0 6.6 0a3.3 1.8 0 1 0-6.6 0zM970.0 2058.9a3.3 1.8 0 1 0 6.6 0a3.3 1.8 0 1 0-6.6 0zM970.0 2063.9a3.3 1.8 0 1 0 6.6 0a3.3 1.8 0 1 0-6.6 0zM970.0 2069.0a3.3 1.8 0 1 0 6.6 0a3.3 1.8 0 1 0-6.6 0z"/>
<path class="dk" d="M972.1 1705.4h2.4v2.4h-2.4zM970.7 1695.8h5.2l-2.6 3.2z"/>
<rect class="bx c4" x="969.58" y="1719.2" width="7.45" height="51.9"/>
<rect class="dk" x="969.58" y="1731.1" width="7.45" height="3"/>
<ellipse class="el c4" cx="973.31" cy="1754.3" rx="17.40" ry="9.15"/>
<path class="dk" d="M982.3 1732.7h2.4v2.4h-2.4zM980.9 1717.5h5.2l-2.6 3.2zM982.3 1784.3h2.4v2.4h-2.4zM982.3 1803.9h2.4v2.4h-2.4zM980.7 1809.3h5.6v2.2h-5.6z"/>
<rect class="bx c5" x="979.80" y="1746.5" width="7.45" height="26.4"/>
<rect class="dk" x="979.80" y="1756.5" width="7.45" height="3"/>
<ellipse class="el c5" cx="983.53" cy="1796.2" rx="17.40" ry="9.15"/>
<path class="gr" d="M990.5 1768.1a3.3 1.8 0 1 0 6.6 0a3.3 1.8 0 1 0-6.6 0zM990.5 1773.0a3.3 1.8 0 1 0 6.6 0a3.3 1.8 0 1 0-6.6 0zM990.5 1778.0a3.3 1.8 0 1 0 6.6 0a3.3 1.8 0 1 0-6.6 0zM990.5 1782.9a3.3 1.8 0 1 0 6.6 0a3.3 1.8 0 1 0-6.6 0zM990.5 1787.8a3.3 1.8 0 1 0 6.6 0a3.3 1.8 0 1 0-6.6 0zM990.5 1792.7a3.3 1.8 0 1 0 6.6 0a3.3 1.8 0 1 0-6.6 0zM990.5 1797.7a3.3 1.8 0 1 0 6.6 0a3.3 1.8 0 1 0-6.6 0zM990.5 1802.6a3.3 1.8 0 1 0 6.6 0a3.3 1.8 0 1 0-6.6 0zM990.5 1807.5a3.3 1.8 0 1 0 6.6 0a3.3 1.8 0 1 0-6.6 0zM990.5 1812.4a3.3 1.8 0 1 0 6.6 0a3.3 1.8 0 1 0-6.6 0zM990.5 1817.4a3.3 1.8 0 1 0 6.6 0a3.3 1.8 0 1 0-6.6 0zM990.5 1822.3a3.3 1.8 0 1 0 6.6 0a3.3 1.8 0 1 0-6.6 0z"/>
<path class="dk" d="M992.5 1917.7h2.4v2.4h-2.4zM991.1 1912.6h5.2l-2.6 3.2zM991.0 1972.6h5.6v2.2h-5.6z"/>
<rect class="bx c6" x="990.02" y="1931.5" width="7.45" height="32.1"/>
<rect class="dk" x="990.02" y="1944.9" width="7.45" height="3"/>
<ellipse class="el c6" cx="993.75" cy="1928.9" rx="17.40" ry="9.15"/>
<path class="gr" d="M1044.4 1835.4a3.3 1.8 0 1 0 6.6 0a3.3 1.8 0 1 0-6.6 0zM1044.4 1839.2a3.3 1.8 0 1 0 6.6 0a3.3 1.8 0 1 0-6.6 0zM1044.4 1854.1a3.3 1.8 0 1 0 6.6 0a3.3 1.8 0 1 0-6.6 0zM1044.4 1858.5a3.3 1.8 0 1 0 6.6 0a3.3 1.8 0 1 0-6.6 0zM1044.4 1862.8a3.3 1.8 0 1 0 6.6 0a3.3 1.8 0 1 0-6.6 0zM1044.4 1867.2a3.3 1.8 0 1 0 6.6 0a3.3 1.8 0 1 0-6.6 0zM1044.4 1882.1a3.3 1.8 0 1 0 6.6 0a3.3 1.8 0 1 0-6.6 0zM1044.4 1887.0a3.3 1.8 0 1 0 6.6 0a3.3 1.8 0 1 0-6.6 0zM1044.4 1891.8a3.3 1.8 0 1 0 6.6 0a3.3 1.8 0 1 0-6.6 0zM1044.4 1896.7a3.3 1.8 0 1 0 6.6 0a3.3 1.8 0 1 0-6.6 0zM1044.4 1901.5a3.3 1.8 0 1 0 6.6 0a3.3 1.8 0 1 0-6.6 0zM1044.4 1906.4a3.3 1.8 0 1 0 6.6 0a3.3 1.8 0 1 0-6.6 0z"/>
<path class="dk" d="M1045.1 1919.0h5.2l-2.6 3.2zM1044.9 1959.5h5.6v2.2h-5.6z"/>
<rect class="bx cp" x="1043.97" y="1933.4" width="7.45" height="19.0"/>
<ellipse class="el cp" cx="1047.69" cy="1941.2" rx="17.40" ry="9.15"/>
<path class="gr" d="M1054.6 1734.5a3.3 1.8 0 1 0 6.6 0a3.3 1.8 0 1 0-6.6 0zM1054.6 1739.6a3.3 1.8 0 1 0 6.6 0a3.3 1.8 0 1 0-6.6 0zM1054.6 1744.6a3.3 1.8 0 1 0 6.6 0a3.3 1.8 0 1 0-6.6 0zM1054.6 1749.7a3.3 1.8 0 1 0 6.6 0a3.3 1.8 0 1 0-6.6 0zM1054.6 1754.8a3.3 1.8 0 1 0 6.6 0a3.3 1.8 0 1 0-6.6 0zM1054.6 1759.9a3.3 1.8 0 1 0 6.6 0a3.3 1.8 0 1 0-6.6 0zM1054.6 1764.9a3.3 1.8 0 1 0 6.6 0a3.3 1.8 0 1 0-6.6 0zM1054.6 1770.0a3.3 1.8 0 1 0 6.6 0a3.3 1.8 0 1 0-6.6 0zM1054.6 1912.0a3.3 1.8 0 1 0 6.6 0a3.3 1.8 0 1 0-6.6 0zM1054.6 1915.8a3.3 1.8 0 1 0 6.6 0a3.3 1.8 0 1 0-6.6 0z"/>
<path class="dk" d="M1055.3 1917.5h5.2l-2.6 3.2z"/>
<rect class="bx cm" x="1054.19" y="1931.5" width="7.45" height="46.9"/>
<rect class="dk" x="1054.19" y="1974.8" width="7.45" height="3"/>
<ellipse class="el cm" cx="1057.91" cy="1942.7" rx="17.40" ry="9.15"/>
<path class="dk" d="M1066.9 1839.2h2.4v2.4h-2.4zM1065.5 1830.4h5.2l-2.6 3.2zM1066.9 1943.2h2.4v2.4h-2.4zM1065.3 1959.5h5.6v2.2h-5.6z"/>
<rect class="bx cb" x="1064.41" y="1853.0" width="7.45" height="78.7"/>
<ellipse class="el cb" cx="1068.13" cy="1895.2" rx="17.40" ry="9.15"/>
<path class="gr" d="M1075.1 1844.8a3.3 1.8 0 1 0 6.6 0a3.3 1.8 0 1 0-6.6 0zM1075.1 1849.4a3.3 1.8 0 1 0 6.6 0a3.3 1.8 0 1 0-6.6 0zM1075.1 1854.1a3.3 1.8 0 1 0 6.6 0a3.3 1.8 0 1 0-6.6 0zM1075.1 1981.2a3.3 1.8 0 1 0 6.6 0a3.3 1.8 0 1 0-6.6 0zM1075.1 1984.9a3.3 1.8 0 1 0 6.6 0a3.3 1.8 0 1 0-6.6 0zM1075.1 1998.0a3.3 1.8 0 1 0 6.6 0a3.3 1.8 0 1 0-6.6 0zM1075.1 1999.9a3.3 1.8 0 1 0 6.6 0a3.3 1.8 0 1 0-6.6 0zM1075.1 2018.6a3.3 1.8 0 1 0 6.6 0a3.3 1.8 0 1 0-6.6 0zM1075.1 2023.2a3.3 1.8 0 1 0 6.6 0a3.3 1.8 0 1 0-6.6 0zM1075.1 2027.9a3.3 1.8 0 1 0 6.6 0a3.3 1.8 0 1 0-6.6 0z"/>
<path class="dk" d="M1075.8 1919.0h5.2l-2.6 3.2zM1077.2 1963.8h2.4v2.4h-2.4zM1075.6 1978.2h5.6v2.2h-5.6z"/>
<rect class="bx co" x="1074.63" y="1935.3" width="7.45" height="17.1"/>
<rect class="dk" x="1074.63" y="1949.8" width="7.45" height="3"/>
<ellipse class="el co" cx="1078.35" cy="1941.9" rx="17.40" ry="9.15"/>
<path class="dk" d="M1087.4 1804.8h2.4v2.4h-2.4zM1087.4 1785.2h2.4v2.4h-2.4zM1086.0 1765.0h5.2l-2.6 3.2zM1087.4 1905.8h2.4v2.4h-2.4zM1087.4 1925.4h2.4v2.4h-2.4zM1087.4 1945.0h2.4v2.4h-2.4zM1087.4 1964.6h2.4v2.4h-2.4zM1087.4 1984.2h2.4v2.4h-2.4zM1085.8 2004.4h5.6v2.2h-5.6z"/>
<rect class="bx c1" x="1084.85" y="1818.6" width="7.45" height="75.8"/>
<ellipse class="el c1" cx="1088.57" cy="1863.4" rx="17.40" ry="9.15"/>
<path class="gr" d="M1095.5 1665.3a3.3 1.8 0 1 0 6.6 0a3.3 1.8 0 1 0-6.6 0zM1095.5 1669.0a3.3 1.8 0 1 0 6.6 0a3.3 1.8 0 1 0-6.6 0zM1095.5 1672.8a3.3 1.8 0 1 0 6.6 0a3.3 1.8 0 1 0-6.6 0zM1095.5 1694.5a3.3 1.8 0 1 0 6.6 0a3.3 1.8 0 1 0-6.6 0zM1095.5 1696.0a3.3 1.8 0 1 0 6.6 0a3.3 1.8 0 1 0-6.6 0zM1095.5 1738.2a3.3 1.8 0 1 0 6.6 0a3.3 1.8 0 1 0-6.6 0zM1095.5 1742.0a3.3 1.8 0 1 0 6.6 0a3.3 1.8 0 1 0-6.6 0zM1095.5 1870.2a3.3 1.8 0 1 0 6.6 0a3.3 1.8 0 1 0-6.6 0zM1095.5 1875.2a3.3 1.8 0 1 0 6.6 0a3.3 1.8 0 1 0-6.6 0zM1095.5 1880.2a3.3 1.8 0 1 0 6.6 0a3.3 1.8 0 1 0-6.6 0zM1095.5 1885.2a3.3 1.8 0 1 0 6.6 0a3.3 1.8 0 1 0-6.6 0zM1095.5 1890.2a3.3 1.8 0 1 0 6.6 0a3.3 1.8 0 1 0-6.6 0zM1095.5 1895.2a3.3 1.8 0 1 0 6.6 0a3.3 1.8 0 1 0-6.6 0zM1095.5 1900.2a3.3 1.8 0 1 0 6.6 0a3.3 1.8 0 1 0-6.6 0zM1095.5 1905.2a3.3 1.8 0 1 0 6.6 0a3.3 1.8 0 1 0-6.6 0zM1095.5 1910.2a3.3 1.8 0 1 0 6.6 0a3.3 1.8 0 1 0-6.6 0z"/>
<path class="dk" d="M1097.6 1798.1h2.4v2.4h-2.4zM1097.6 1778.5h2.4v2.4h-2.4zM1097.6 1758.9h2.4v2.4h-2.4zM1096.2 1744.4h5.2l-2.6 3.2zM1097.6 1832.2h2.4v2.4h-2.4zM1097.6 1851.8h2.4v2.4h-2.4zM1096.0 1869.1h5.6v2.2h-5.6z"/>
<rect class="bx c2" x="1095.07" y="1811.9" width="7.45" height="8.8"/>
<ellipse class="el c2" cx="1098.79" cy="1799.9" rx="17.40" ry="9.15"/>
<path class="dk" d="M1107.8 2162.6h2.4v2.4h-2.4zM1107.8 2143.0h2.4v2.4h-2.4zM1106.4 2131.3h5.2l-2.6 3.2zM1106.2 2210.7h5.6v2.2h-5.6z"/>
<rect class="bx c3" x="1105.29" y="2176.4" width="7.45" height="27.1"/>
<ellipse class="el c3" cx="1109.01" cy="2188.6" rx="17.40" ry="9.15"/>
<path class="gr" d="M1115.9 1975.6a3.3 1.8 0 1 0 6.6 0a3.3 1.8 0 1 0-6.6 0zM1115.9 1979.3a3.3 1.8 0 1 0 6.6 0a3.3 1.8 0 1 0-6.6 0zM1115.9 2156.9a3.3 1.8 0 1 0 6.6 0a3.3 1.8 0 1 0-6.6 0zM1115.9 2158.7a3.3 1.8 0 1 0 6.6 0a3.3 1.8 0 1 0-6.6 0zM1115.9 2166.2a3.3 1.8 0 1 0 6.6 0a3.3 1.8 0 1 0-6.6 0zM1115.9 2169.9a3.3 1.8 0 1 0 6.6 0a3.3 1.8 0 1 0-6.6 0zM1115.9 2173.7a3.3 1.8 0 1 0 6.6 0a3.3 1.8 0 1 0-6.6 0z"/>
<path class="dk" d="M1118.0 2037.3h2.4v2.4h-2.4zM1118.0 2017.7h2.4v2.4h-2.4zM1118.0 1998.1h2.4v2.4h-2.4zM1116.6 1987.4h5.2l-2.6 3.2zM1118.0 2102.1h2.4v2.4h-2.4zM1118.0 2121.7h2.4v2.4h-2.4zM1116.4 2138.9h5.6v2.2h-5.6z"/>
<rect class="bx c4" x="1115.51" y="2051.1" width="7.45" height="39.5"/>
<ellipse class="el c4" cx="1119.23" cy="2076.5" rx="17.40" ry="9.15"/>
<path class="gr" d="M1126.2 1755.1a3.3 1.8 0 1 0 6.6 0a3.3 1.8 0 1 0-6.6 0zM1126.2 1760.2a3.3 1.8 0 1 0 6.6 0a3.3 1.8 0 1 0-6.6 0zM1126.2 1765.3a3.3 1.8 0 1 0 6.6 0a3.3 1.8 0 1 0-6.6 0zM1126.2 1770.5a3.3 1.8 0 1 0 6.6 0a3.3 1.8 0 1 0-6.6 0zM1126.2 1775.6a3.3 1.8 0 1 0 6.6 0a3.3 1.8 0 1 0-6.6 0zM1126.2 1813.0a3.3 1.8 0 1 0 6.6 0a3.3 1.8 0 1 0-6.6 0zM1126.2 1818.2a3.3 1.8 0 1 0 6.6 0a3.3 1.8 0 1 0-6.6 0zM1126.2 1823.4a3.3 1.8 0 1 0 6.6 0a3.3 1.8 0 1 0-6.6 0zM1126.2 1828.6a3.3 1.8 0 1 0 6.6 0a3.3 1.8 0 1 0-6.6 0zM1126.2 1833.8a3.3 1.8 0 1 0 6.6 0a3.3 1.8 0 1 0-6.6 0zM1126.2 1838.9a3.3 1.8 0 1 0 6.6 0a3.3 1.8 0 1 0-6.6 0zM1126.2 1844.1a3.3 1.8 0 1 0 6.6 0a3.3 1.8 0 1 0-6.6 0zM1126.2 1849.3a3.3 1.8 0 1 0 6.6 0a3.3 1.8 0 1 0-6.6 0zM1126.2 1854.5a3.3 1.8 0 1 0 6.6 0a3.3 1.8 0 1 0-6.6 0zM1126.2 1859.7a3.3 1.8 0 1 0 6.6 0a3.3 1.8 0 1 0-6.6 0zM1126.2 2024.2a3.3 1.8 0 1 0 6.6 0a3.3 1.8 0 1 0-6.6 0zM1126.2 2027.9a3.3 1.8 0 1 0 6.6 0a3.3 1.8 0 1 0-6.6 0zM1126.2 2042.9a3.3 1.8 0 1 0 6.6 0a3.3 1.8 0 1 0-6.6 0zM1126.2 2050.3a3.3 1.8 0 1 0 6.6 0a3.3 1.8 0 1 0-6.6 0z"/>
<path class="dk" d="M1128.2 1921.5h2.4v2.4h-2.4zM1128.2 1901.9h2.4v2.4h-2.4zM1126.9 1880.8h5.2l-2.6 3.2zM1128.2 1965.6h2.4v2.4h-2.4zM1126.7 1988.7h5.6v2.2h-5.6z"/>
<rect class="bx c5" x="1125.73" y="1935.3" width="7.45" height="18.9"/>
<ellipse class="el c5" cx="1129.45" cy="1933.3" rx="17.40" ry="9.15"/>
<path class="gr" d="M1136.4 1715.8a3.3 1.8 0 1 0 6.6 0a3.3 1.8 0 1 0-6.6 0zM1136.4 1720.7a3.3 1.8 0 1 0 6.6 0a3.3 1.8 0 1 0-6.6 0zM1136.4 1725.7a3.3 1.8 0 1 0 6.6 0a3.3 1.8 0 1 0-6.6 0zM1136.4 1730.6a3.3 1.8 0 1 0 6.6 0a3.3 1.8 0 1 0-6.6 0zM1136.4 1735.5a3.3 1.8 0 1 0 6.6 0a3.3 1.8 0 1 0-6.6 0zM1136.4 1740.4a3.3 1.8 0 1 0 6.6 0a3.3 1.8 0 1 0-6.6 0zM1136.4 1745.4a3.3 1.8 0 1 0 6.6 0a3.3 1.8 0 1 0-6.6 0zM1136.4 1750.3a3.3 1.8 0 1 0 6.6 0a3.3 1.8 0 1 0-6.6 0zM1136.4 1755.2a3.3 1.8 0 1 0 6.6 0a3.3 1.8 0 1 0-6.6 0zM1136.4 1760.1a3.3 1.8 0 1 0 6.6 0a3.3 1.8 0 1 0-6.6 0zM1136.4 1765.1a3.3 1.8 0 1 0 6.6 0a3.3 1.8 0 1 0-6.6 0zM1136.4 1770.0a3.3 1.8 0 1 0 6.6 0a3.3 1.8 0 1 0-6.6 0zM1136.4 1997.3a3.3 1.8 0 1 0 6.6 0a3.3 1.8 0 1 0-6.6 0zM1136.4 2001.7a3.3 1.8 0 1 0 6.6 0a3.3 1.8 0 1 0-6.6 0z"/>
<path class="dk" d="M1138.5 1961.9h2.4v2.4h-2.4zM1138.5 1981.5h2.4v2.4h-2.4zM1136.9 1993.9h5.6v2.2h-5.6z"/>
<rect class="bx c6" x="1135.95" y="1933.4" width="7.45" height="17.1"/>
<rect class="dk" x="1135.95" y="1946.0" width="7.45" height="3"/>
<ellipse class="el c6" cx="1139.67" cy="1921.4" rx="17.40" ry="9.15"/>
<path class="gr" d="M1190.3 1583.1a3.3 1.8 0 1 0 6.6 0a3.3 1.8 0 1 0-6.6 0zM1190.3 1588.1a3.3 1.8 0 1 0 6.6 0a3.3 1.8 0 1 0-6.6 0zM1190.3 1593.2a3.3 1.8 0 1 0 6.6 0a3.3 1.8 0 1 0-6.6 0zM1190.3 1598.2a3.3 1.8 0 1 0 6.6 0a3.3 1.8 0 1 0-6.6 0zM1190.3 1603.3a3.3 1.8 0 1 0 6.6 0a3.3 1.8 0 1 0-6.6 0zM1190.3 1608.3a3.3 1.8 0 1 0 6.6 0a3.3 1.8 0 1 0-6.6 0zM1190.3 1613.4a3.3 1.8 0 1 0 6.6 0a3.3 1.8 0 1 0-6.6 0zM1190.3 1618.4a3.3 1.8 0 1 0 6.6 0a3.3 1.8 0 1 0-6.6 0zM1190.3 1623.5a3.3 1.8 0 1 0 6.6 0a3.3 1.8 0 1 0-6.6 0zM1190.3 1628.5a3.3 1.8 0 1 0 6.6 0a3.3 1.8 0 1 0-6.6 0zM1190.3 1633.6a3.3 1.8 0 1 0 6.6 0a3.3 1.8 0 1 0-6.6 0zM1190.3 1683.3a3.3 1.8 0 1 0 6.6 0a3.3 1.8 0 1 0-6.6 0zM1190.3 1684.8a3.3 1.8 0 1 0 6.6 0a3.3 1.8 0 1 0-6.6 0zM1190.3 1704.6a3.3 1.8 0 1 0 6.6 0a3.3 1.8 0 1 0-6.6 0zM1190.3 1709.2a3.3 1.8 0 1 0 6.6 0a3.3 1.8 0 1 0-6.6 0zM1190.3 1713.9a3.3 1.8 0 1 0 6.6 0a3.3 1.8 0 1 0-6.6 0z"/>
<path class="dk" d="M1190.8 1950.2h5.6v2.2h-5.6z"/>
<rect class="bx cp" x="1189.89" y="1915.8" width="7.45" height="20.9"/>
<ellipse class="el cp" cx="1193.61" cy="1890.4" rx="17.40" ry="9.15"/>
<path class="gr" d="M1200.5 1614.9a3.3 1.8 0 1 0 6.6 0a3.3 1.8 0 1 0-6.6 0zM1200.5 1620.5a3.3 1.8 0 1 0 6.6 0a3.3 1.8 0 1 0-6.6 0zM1200.5 1626.1a3.3 1.8 0 1 0 6.6 0a3.3 1.8 0 1 0-6.6 0zM1200.5 1631.7a3.3 1.8 0 1 0 6.6 0a3.3 1.8 0 1 0-6.6 0zM1200.5 1637.3a3.3 1.8 0 1 0 6.6 0a3.3 1.8 0 1 0-6.6 0z"/>
<path class="dk" d="M1202.6 1874.7h2.4v2.4h-2.4zM1201.2 1865.9h5.2l-2.6 3.2zM1201.0 1944.6h5.6v2.2h-5.6z"/>
<rect class="bx cm" x="1200.11" y="1888.5" width="7.45" height="41.4"/>
<ellipse class="el cm" cx="1203.83" cy="1890.4" rx="17.40" ry="9.15"/>
<path class="gr" d="M1210.8 1607.4a3.3 1.8 0 1 0 6.6 0a3.3 1.8 0 1 0-6.6 0zM1210.8 1612.3a3.3 1.8 0 1 0 6.6 0a3.3 1.8 0 1 0-6.6 0zM1210.8 1617.1a3.3 1.8 0 1 0 6.6 0a3.3 1.8 0 1 0-6.6 0zM1210.8 1622.0a3.3 1.8 0 1 0 6.6 0a3.3 1.8 0 1 0-6.6 0zM1210.8 1626.8a3.3 1.8 0 1 0 6.6 0a3.3 1.8 0 1 0-6.6 0zM1210.8 1631.7a3.3 1.8 0 1 0 6.6 0a3.3 1.8 0 1 0-6.6 0zM1210.8 1636.6a3.3 1.8 0 1 0 6.6 0a3.3 1.8 0 1 0-6.6 0zM1210.8 1641.4a3.3 1.8 0 1 0 6.6 0a3.3 1.8 0 1 0-6.6 0zM1210.8 1646.3a3.3 1.8 0 1 0 6.6 0a3.3 1.8 0 1 0-6.6 0zM1210.8 1651.1a3.3 1.8 0 1 0 6.6 0a3.3 1.8 0 1 0-6.6 0zM1210.8 1656.0a3.3 1.8 0 1 0 6.6 0a3.3 1.8 0 1 0-6.6 0zM1210.8 1660.9a3.3 1.8 0 1 0 6.6 0a3.3 1.8 0 1 0-6.6 0zM1210.8 1665.7a3.3 1.8 0 1 0 6.6 0a3.3 1.8 0 1 0-6.6 0zM1210.8 1670.6a3.3 1.8 0 1 0 6.6 0a3.3 1.8 0 1 0-6.6 0zM1210.8 1675.4a3.3 1.8 0 1 0 6.6 0a3.3 1.8 0 1 0-6.6 0zM1210.8 1680.3a3.3 1.8 0 1 0 6.6 0a3.3 1.8 0 1 0-6.6 0z"/>
<path class="dk" d="M1212.9 1871.0h2.4v2.4h-2.4zM1212.9 1851.4h2.4v2.4h-2.4zM1212.9 1831.8h2.4v2.4h-2.4zM1212.9 1812.2h2.4v2.4h-2.4zM1212.9 1792.6h2.4v2.4h-2.4zM1212.9 1773.0h2.4v2.4h-2.4zM1212.9 1753.4h2.4v2.4h-2.4zM1212.9 1733.8h2.4v2.4h-2.4zM1212.9 1714.2h2.4v2.4h-2.4zM1211.5 1709.6h5.2l-2.6 3.2zM1212.9 2026.5h2.4v2.4h-2.4zM1212.9 2046.1h2.4v2.4h-2.4zM1212.9 2065.7h2.4v2.4h-2.4zM1211.3 2075.4h5.6v2.2h-5.6z"/>
<rect class="bx cb" x="1210.33" y="1884.8" width="7.45" height="130.3"/>
<rect class="dk" x="1210.33" y="1972.2" width="7.45" height="3"/>
<ellipse class="el cb" cx="1214.05" cy="1934.5" rx="17.40" ry="9.15"/>
<path class="gr" d="M1221.0 1949.4a3.3 1.8 0 1 0 6.6 0a3.3 1.8 0 1 0-6.6 0zM1221.0 1954.4a3.3 1.8 0 1 0 6.6 0a3.3 1.8 0 1 0-6.6 0zM1221.0 1959.4a3.3 1.8 0 1 0 6.6 0a3.3 1.8 0 1 0-6.6 0zM1221.0 1964.4a3.3 1.8 0 1 0 6.6 0a3.3 1.8 0 1 0-6.6 0zM1221.0 1969.4a3.3 1.8 0 1 0 6.6 0a3.3 1.8 0 1 0-6.6 0zM1221.0 1974.3a3.3 1.8 0 1 0 6.6 0a3.3 1.8 0 1 0-6.6 0zM1221.0 1979.3a3.3 1.8 0 1 0 6.6 0a3.3 1.8 0 1 0-6.6 0zM1221.0 1984.3a3.3 1.8 0 1 0 6.6 0a3.3 1.8 0 1 0-6.6 0zM1221.0 1989.3a3.3 1.8 0 1 0 6.6 0a3.3 1.8 0 1 0-6.6 0zM1221.0 1994.3a3.3 1.8 0 1 0 6.6 0a3.3 1.8 0 1 0-6.6 0zM1221.0 2007.4a3.3 1.8 0 1 0 6.6 0a3.3 1.8 0 1 0-6.6 0zM1221.0 2013.0a3.3 1.8 0 1 0 6.6 0a3.3 1.8 0 1 0-6.6 0zM1221.0 2018.6a3.3 1.8 0 1 0 6.6 0a3.3 1.8 0 1 0-6.6 0z"/>
<path class="dk" d="M1221.7 1789.3h5.2l-2.6 3.2z"/>
<rect class="bx co" x="1220.55" y="1806.3" width="7.45" height="43.3"/>
<rect class="dk" x="1220.55" y="1808.9" width="7.45" height="3"/>
<ellipse class="el co" cx="1224.27" cy="1835.4" rx="17.40" ry="9.15"/>
<path class="gr" d="M1231.2 1660.9a3.3 1.8 0 1 0 6.6 0a3.3 1.8 0 1 0-6.6 0zM1231.2 1665.5a3.3 1.8 0 1 0 6.6 0a3.3 1.8 0 1 0-6.6 0zM1231.2 1670.1a3.3 1.8 0 1 0 6.6 0a3.3 1.8 0 1 0-6.6 0zM1231.2 1674.7a3.3 1.8 0 1 0 6.6 0a3.3 1.8 0 1 0-6.6 0z"/>
<path class="dk" d="M1233.3 1788.8h2.4v2.4h-2.4zM1233.3 1769.2h2.4v2.4h-2.4zM1233.3 1749.6h2.4v2.4h-2.4zM1233.3 1730.0h2.4v2.4h-2.4zM1233.3 1710.4h2.4v2.4h-2.4zM1231.9 1695.8h5.2l-2.6 3.2zM1233.3 1866.6h2.4v2.4h-2.4zM1233.3 1886.2h2.4v2.4h-2.4zM1233.3 1905.8h2.4v2.4h-2.4zM1231.7 1927.8h5.6v2.2h-5.6z"/>
<rect class="bx c1" x="1230.77" y="1802.6" width="7.45" height="52.6"/>
<rect class="dk" x="1230.77" y="1826.4" width="7.45" height="3"/>
<ellipse class="el c1" cx="1234.49" cy="1865.3" rx="17.40" ry="9.15"/>
<path class="gr" d="M1241.4 1923.3a3.3 1.8 0 1 0 6.6 0a3.3 1.8 0 1 0-6.6 0zM1241.4 1928.4a3.3 1.8 0 1 0 6.6 0a3.3 1.8 0 1 0-6.6 0zM1241.4 1933.5a3.3 1.8 0 1 0 6.6 0a3.3 1.8 0 1 0-6.6 0zM1241.4 1938.6a3.3 1.8 0 1 0 6.6 0a3.3 1.8 0 1 0-6.6 0zM1241.4 1943.7a3.3 1.8 0 1 0 6.6 0a3.3 1.8 0 1 0-6.6 0zM1241.4 1948.8a3.3 1.8 0 1 0 6.6 0a3.3 1.8 0 1 0-6.6 0zM1241.4 1953.8a3.3 1.8 0 1 0 6.6 0a3.3 1.8 0 1 0-6.6 0zM1241.4 1958.9a3.3 1.8 0 1 0 6.6 0a3.3 1.8 0 1 0-6.6 0zM1241.4 1964.0a3.3 1.8 0 1 0 6.6 0a3.3 1.8 0 1 0-6.6 0zM1241.4 1969.1a3.3 1.8 0 1 0 6.6 0a3.3 1.8 0 1 0-6.6 0zM1241.4 1974.2a3.3 1.8 0 1 0 6.6 0a3.3 1.8 0 1 0-6.6 0zM1241.4 1979.3a3.3 1.8 0 1 0 6.6 0a3.3 1.8 0 1 0-6.6 0zM1241.4 2001.0a3.3 1.8 0 1 0 6.6 0a3.3 1.8 0 1 0-6.6 0zM1241.4 2001.0a3.3 1.8 0 1 0 6.6 0a3.3 1.8 0 1 0-6.6 0zM1241.4 2013.7a3.3 1.8 0 1 0 6.6 0a3.3 1.8 0 1 0-6.6 0zM1241.4 2013.7a3.3 1.8 0 1 0 6.6 0a3.3 1.8 0 1 0-6.6 0z"/>
<path class="dk" d="M1242.1 1748.9h5.2l-2.6 3.2zM1243.5 1818.0h2.4v2.4h-2.4zM1243.5 1837.6h2.4v2.4h-2.4zM1241.9 1858.6h5.6v2.2h-5.6z"/>
<rect class="bx c2" x="1240.99" y="1763.3" width="7.45" height="43.3"/>
<rect class="dk" x="1240.99" y="1779.0" width="7.45" height="3"/>
<ellipse class="el c2" cx="1244.71" cy="1795.4" rx="17.40" ry="9.15"/>
<path class="gr" d="M1251.6 2013.7a3.3 1.8 0 1 0 6.6 0a3.3 1.8 0 1 0-6.6 0zM1251.6 2018.8a3.3 1.8 0 1 0 6.6 0a3.3 1.8 0 1 0-6.6 0zM1251.6 2023.9a3.3 1.8 0 1 0 6.6 0a3.3 1.8 0 1 0-6.6 0zM1251.6 2028.9a3.3 1.8 0 1 0 6.6 0a3.3 1.8 0 1 0-6.6 0zM1251.6 2034.0a3.3 1.8 0 1 0 6.6 0a3.3 1.8 0 1 0-6.6 0zM1251.6 2039.1a3.3 1.8 0 1 0 6.6 0a3.3 1.8 0 1 0-6.6 0zM1251.6 2067.2a3.3 1.8 0 1 0 6.6 0a3.3 1.8 0 1 0-6.6 0zM1251.6 2072.5a3.3 1.8 0 1 0 6.6 0a3.3 1.8 0 1 0-6.6 0zM1251.6 2077.8a3.3 1.8 0 1 0 6.6 0a3.3 1.8 0 1 0-6.6 0zM1251.6 2083.1a3.3 1.8 0 1 0 6.6 0a3.3 1.8 0 1 0-6.6 0zM1251.6 2088.3a3.3 1.8 0 1 0 6.6 0a3.3 1.8 0 1 0-6.6 0zM1251.6 2093.6a3.3 1.8 0 1 0 6.6 0a3.3 1.8 0 1 0-6.6 0zM1251.6 2098.9a3.3 1.8 0 1 0 6.6 0a3.3 1.8 0 1 0-6.6 0zM1251.6 2113.9a3.3 1.8 0 1 0 6.6 0a3.3 1.8 0 1 0-6.6 0zM1251.6 2119.5a3.3 1.8 0 1 0 6.6 0a3.3 1.8 0 1 0-6.6 0z"/>
<path class="dk" d="M1252.3 1742.5h5.2l-2.6 3.2z"/>
<rect class="bx c3" x="1251.21" y="1758.8" width="7.45" height="100.1"/>
<rect class="dk" x="1251.21" y="1775.2" width="7.45" height="3"/>
<ellipse class="el c3" cx="1254.93" cy="1831.7" rx="17.40" ry="9.15"/>
<path class="gr" d="M1261.9 1583.1a3.3 1.8 0 1 0 6.6 0a3.3 1.8 0 1 0-6.6 0zM1261.9 1588.2a3.3 1.8 0 1 0 6.6 0a3.3 1.8 0 1 0-6.6 0zM1261.9 1593.4a3.3 1.8 0 1 0 6.6 0a3.3 1.8 0 1 0-6.6 0zM1261.9 1598.5a3.3 1.8 0 1 0 6.6 0a3.3 1.8 0 1 0-6.6 0zM1261.9 1603.6a3.3 1.8 0 1 0 6.6 0a3.3 1.8 0 1 0-6.6 0zM1261.9 1608.8a3.3 1.8 0 1 0 6.6 0a3.3 1.8 0 1 0-6.6 0zM1261.9 1613.9a3.3 1.8 0 1 0 6.6 0a3.3 1.8 0 1 0-6.6 0zM1261.9 1619.1a3.3 1.8 0 1 0 6.6 0a3.3 1.8 0 1 0-6.6 0zM1261.9 1624.2a3.3 1.8 0 1 0 6.6 0a3.3 1.8 0 1 0-6.6 0zM1261.9 1629.3a3.3 1.8 0 1 0 6.6 0a3.3 1.8 0 1 0-6.6 0zM1261.9 1634.5a3.3 1.8 0 1 0 6.6 0a3.3 1.8 0 1 0-6.6 0zM1261.9 1639.6a3.3 1.8 0 1 0 6.6 0a3.3 1.8 0 1 0-6.6 0zM1261.9 1644.8a3.3 1.8 0 1 0 6.6 0a3.3 1.8 0 1 0-6.6 0zM1261.9 1649.9a3.3 1.8 0 1 0 6.6 0a3.3 1.8 0 1 0-6.6 0zM1261.9 1655.0a3.3 1.8 0 1 0 6.6 0a3.3 1.8 0 1 0-6.6 0zM1261.9 1660.2a3.3 1.8 0 1 0 6.6 0a3.3 1.8 0 1 0-6.6 0zM1261.9 1665.3a3.3 1.8 0 1 0 6.6 0a3.3 1.8 0 1 0-6.6 0zM1261.9 2140.0a3.3 1.8 0 1 0 6.6 0a3.3 1.8 0 1 0-6.6 0zM1261.9 2145.0a3.3 1.8 0 1 0 6.6 0a3.3 1.8 0 1 0-6.6 0zM1261.9 2150.0a3.3 1.8 0 1 0 6.6 0a3.3 1.8 0 1 0-6.6 0zM1261.9 2155.0a3.3 1.8 0 1 0 6.6 0a3.3 1.8 0 1 0-6.6 0zM1261.9 2162.5a3.3 1.8 0 1 0 6.6 0a3.3 1.8 0 1 0-6.6 0zM1261.9 2162.5a3.3 1.8 0 1 0 6.6 0a3.3 1.8 0 1 0-6.6 0zM1261.9 2179.3a3.3 1.8 0 1 0 6.6 0a3.3 1.8 0 1 0-6.6 0zM1261.9 2179.3a3.3 1.8 0 1 0 6.6 0a3.3 1.8 0 1 0-6.6 0zM1261.9 2199.8a3.3 1.8 0 1 0 6.6 0a3.3 1.8 0 1 0-6.6 0zM1261.9 2203.6a3.3 1.8 0 1 0 6.6 0a3.3 1.8 0 1 0-6.6 0zM1261.9 2207.3a3.3 1.8 0 1 0 6.6 0a3.3 1.8 0 1 0-6.6 0zM1261.9 2220.4a3.3 1.8 0 1 0 6.6 0a3.3 1.8 0 1 0-6.6 0zM1261.9 2220.4a3.3 1.8 0 1 0 6.6 0a3.3 1.8 0 1 0-6.6 0zM1261.9 2237.2a3.3 1.8 0 1 0 6.6 0a3.3 1.8 0 1 0-6.6 0zM1261.9 2240.9a3.3 1.8 0 1 0 6.6 0a3.3 1.8 0 1 0-6.6 0zM1261.9 2244.7a3.3 1.8 0 1 0 6.6 0a3.3 1.8 0 1 0-6.6 0zM1261.9 2263.4a3.3 1.8 0 1 0 6.6 0a3.3 1.8 0 1 0-6.6 0zM1261.9 2263.4a3.3 1.8 0 1 0 6.6 0a3.3 1.8 0 1 0-6.6 0z"/>
<path class="dk" d="M1264.0 2003.0h2.4v2.4h-2.4zM1264.0 2022.6h2.4v2.4h-2.4zM1264.0 2042.2h2.4v2.4h-2.4zM1264.0 2061.8h2.4v2.4h-2.4zM1264.0 2081.4h2.4v2.4h-2.4zM1262.4 2100.8h5.6v2.2h-5.6z"/>
<rect class="bx c4" x="1261.43" y="1921.1" width="7.45" height="70.5"/>
<ellipse class="el c4" cx="1265.15" cy="1952.4" rx="17.40" ry="9.15"/>
<path class="gr" d="M1272.1 2016.7a3.3 1.8 0 1 0 6.6 0a3.3 1.8 0 1 0-6.6 0zM1272.1 2020.4a3.3 1.8 0 1 0 6.6 0a3.3 1.8 0 1 0-6.6 0z"/>
<path class="dk" d="M1274.2 1903.9h2.4v2.4h-2.4zM1272.8 1882.0h5.2l-2.6 3.2zM1274.2 1967.5h2.4v2.4h-2.4zM1274.2 1987.1h2.4v2.4h-2.4zM1274.2 2006.7h2.4v2.4h-2.4zM1272.6 2014.8h5.6v2.2h-5.6z"/>
<rect class="bx c5" x="1271.65" y="1917.7" width="7.45" height="38.4"/>
<ellipse class="el c5" cx="1275.37" cy="1937.5" rx="17.40" ry="9.15"/>
<path class="dk" d="M1284.4 1608.2h2.4v2.4h-2.4zM1284.4 1588.6h2.4v2.4h-2.4zM1283.0 1583.7h5.2l-2.6 3.2zM1284.4 1715.9h2.4v2.4h-2.4zM1284.4 1735.5h2.4v2.4h-2.4zM1284.4 1755.1h2.4v2.4h-2.4zM1284.4 1774.7h2.4v2.4h-2.4zM1282.8 1793.2h5.6v2.2h-5.6z"/>
<rect class="bx c6" x="1281.87" y="1622.0" width="7.45" height="82.4"/>
<ellipse class="el c6" cx="1285.59" cy="1671.0" rx="17.40" ry="9.15"/>
<path class="gr" d="M1336.2 1837.3a3.3 1.8 0 1 0 6.6 0a3.3 1.8 0 1 0-6.6 0zM1336.2 1842.9a3.3 1.8 0 1 0 6.6 0a3.3 1.8 0 1 0-6.6 0zM1336.2 1848.5a3.3 1.8 0 1 0 6.6 0a3.3 1.8 0 1 0-6.6 0zM1336.2 1854.1a3.3 1.8 0 1 0 6.6 0a3.3 1.8 0 1 0-6.6 0z"/>
<path class="dk" d="M1338.3 1669.9h2.4v2.4h-2.4zM1336.9 1651.0h5.2l-2.6 3.2zM1338.3 1753.7h2.4v2.4h-2.4zM1338.3 1773.3h2.4v2.4h-2.4zM1338.3 1792.9h2.4v2.4h-2.4zM1336.7 1810.0h5.6v2.2h-5.6z"/>
<rect class="bx cp" x="1335.81" y="1683.7" width="7.45" height="58.5"/>
<rect class="dk" x="1335.81" y="1693.7" width="7.45" height="3"/>
<ellipse class="el cp" cx="1339.53" cy="1723.3" rx="17.40" ry="9.15"/>
<path class="dk" d="M1348.5 1761.5h2.4v2.4h-2.4zM1347.2 1755.6h5.2l-2.6 3.2zM1348.5 1890.1h2.4v2.4h-2.4zM1348.5 1909.7h2.4v2.4h-2.4zM1348.5 1929.3h2.4v2.4h-2.4zM1348.5 1948.9h2.4v2.4h-2.4zM1348.5 1968.5h2.4v2.4h-2.4zM1348.5 1988.1h2.4v2.4h-2.4zM1347.0 2003.6h5.6v2.2h-5.6z"/>
<rect class="bx cm" x="1346.03" y="1775.3" width="7.45" height="103.3"/>
<rect class="dk" x="1346.03" y="1793.9" width="7.45" height="3"/>
<ellipse class="el cm" cx="1349.75" cy="1827.9" rx="17.40" ry="9.15"/>
<path class="gr" d="M1356.7 1917.6a3.3 1.8 0 1 0 6.6 0a3.3 1.8 0 1 0-6.6 0zM1356.7 1921.4a3.3 1.8 0 1 0 6.6 0a3.3 1.8 0 1 0-6.6 0z"/>
<path class="dk" d="M1358.8 1656.8h2.4v2.4h-2.4zM1358.8 1637.2h2.4v2.4h-2.4zM1358.8 1617.6h2.4v2.4h-2.4zM1358.8 1598.0h2.4v2.4h-2.4zM1357.4 1583.7h5.2l-2.6 3.2zM1358.8 1772.4h2.4v2.4h-2.4zM1358.8 1792.0h2.4v2.4h-2.4zM1358.8 1811.6h2.4v2.4h-2.4zM1358.8 1831.2h2.4v2.4h-2.4zM1358.8 1850.8h2.4v2.4h-2.4zM1358.8 1870.4h2.4v2.4h-2.4zM1357.2 1892.3h5.6v2.2h-5.6z"/>
<rect class="bx cb" x="1356.25" y="1670.6" width="7.45" height="90.3"/>
<ellipse class="el cb" cx="1359.97" cy="1731.9" rx="17.40" ry="9.15"/>
<path class="gr" d="M1366.9 1836.5a3.3 1.8 0 1 0 6.6 0a3.3 1.8 0 1 0-6.6 0zM1366.9 1837.3a3.3 1.8 0 1 0 6.6 0a3.3 1.8 0 1 0-6.6 0zM1366.9 1860.5a3.3 1.8 0 1 0 6.6 0a3.3 1.8 0 1 0-6.6 0zM1366.9 1861.6a3.3 1.8 0 1 0 6.6 0a3.3 1.8 0 1 0-6.6 0zM1366.9 1923.3a3.3 1.8 0 1 0 6.6 0a3.3 1.8 0 1 0-6.6 0zM1366.9 1928.4a3.3 1.8 0 1 0 6.6 0a3.3 1.8 0 1 0-6.6 0zM1366.9 1933.6a3.3 1.8 0 1 0 6.6 0a3.3 1.8 0 1 0-6.6 0zM1366.9 1938.7a3.3 1.8 0 1 0 6.6 0a3.3 1.8 0 1 0-6.6 0zM1366.9 1943.8a3.3 1.8 0 1 0 6.6 0a3.3 1.8 0 1 0-6.6 0zM1366.9 1949.0a3.3 1.8 0 1 0 6.6 0a3.3 1.8 0 1 0-6.6 0zM1366.9 1954.1a3.3 1.8 0 1 0 6.6 0a3.3 1.8 0 1 0-6.6 0zM1366.9 1959.3a3.3 1.8 0 1 0 6.6 0a3.3 1.8 0 1 0-6.6 0zM1366.9 1964.4a3.3 1.8 0 1 0 6.6 0a3.3 1.8 0 1 0-6.6 0z"/>
<path class="dk" d="M1369.0 1988.7h2.4v2.4h-2.4zM1367.6 1966.8h5.2l-2.6 3.2zM1367.4 2051.1h5.6v2.2h-5.6z"/>
<rect class="bx co" x="1366.47" y="2002.5" width="7.45" height="36.6"/>
<rect class="dk" x="1366.47" y="2035.8" width="7.45" height="3"/>
<ellipse class="el co" cx="1370.19" cy="2003.6" rx="17.40" ry="9.15"/>
<path class="gr" d="M1377.1 2199.8a3.3 1.8 0 1 0 6.6 0a3.3 1.8 0 1 0-6.6 0zM1377.1 2201.7a3.3 1.8 0 1 0 6.6 0a3.3 1.8 0 1 0-6.6 0zM1377.1 2219.3a3.3 1.8 0 1 0 6.6 0a3.3 1.8 0 1 0-6.6 0zM1377.1 2221.5a3.3 1.8 0 1 0 6.6 0a3.3 1.8 0 1 0-6.6 0z"/>
<path class="dk" d="M1379.2 2048.5h2.4v2.4h-2.4zM1379.2 2028.9h2.4v2.4h-2.4zM1377.8 2021.0h5.2l-2.6 3.2zM1379.2 2113.3h2.4v2.4h-2.4zM1379.2 2132.9h2.4v2.4h-2.4zM1379.2 2152.5h2.4v2.4h-2.4zM1377.6 2164.4h5.6v2.2h-5.6z"/>
<rect class="bx c1" x="1376.69" y="2062.3" width="7.45" height="39.5"/>
<rect class="dk" x="1376.69" y="2070.5" width="7.45" height="3"/>
<ellipse class="el c1" cx="1380.41" cy="2093.3" rx="17.40" ry="9.15"/>
<path class="dk" d="M1389.4 1834.7h2.4v2.4h-2.4zM1388.0 1827.8h5.2l-2.6 3.2zM1389.4 1906.9h2.4v2.4h-2.4zM1389.4 1926.5h2.4v2.4h-2.4zM1387.8 1945.3h5.6v2.2h-5.6z"/>
<rect class="bx c2" x="1386.90" y="1848.5" width="7.45" height="46.9"/>
<ellipse class="el c2" cx="1390.63" cy="1871.7" rx="17.40" ry="9.15"/>
<path class="gr" d="M1397.5 1749.4a3.3 1.8 0 1 0 6.6 0a3.3 1.8 0 1 0-6.6 0zM1397.5 1754.1a3.3 1.8 0 1 0 6.6 0a3.3 1.8 0 1 0-6.6 0zM1397.5 1758.8a3.3 1.8 0 1 0 6.6 0a3.3 1.8 0 1 0-6.6 0z"/>
<path class="dk" d="M1399.6 1966.3h2.4v2.4h-2.4zM1399.6 1946.7h2.4v2.4h-2.4zM1399.6 1927.1h2.4v2.4h-2.4zM1399.6 1907.5h2.4v2.4h-2.4zM1399.6 1887.9h2.4v2.4h-2.4zM1399.6 1868.3h2.4v2.4h-2.4zM1399.6 1848.7h2.4v2.4h-2.4zM1399.6 1829.1h2.4v2.4h-2.4zM1399.6 1809.5h2.4v2.4h-2.4zM1398.2 1804.2h5.2l-2.6 3.2zM1399.6 2111.4h2.4v2.4h-2.4zM1399.6 2131.0h2.4v2.4h-2.4zM1399.6 2150.6h2.4v2.4h-2.4zM1399.6 2170.2h2.4v2.4h-2.4zM1398.0 2183.8h5.6v2.2h-5.6z"/>
<rect class="bx c3" x="1397.12" y="1980.1" width="7.45" height="119.9"/>
<rect class="dk" x="1397.12" y="2028.3" width="7.45" height="3"/>
<ellipse class="el c3" cx="1400.85" cy="2007.4" rx="17.40" ry="9.15"/>
<path class="gr" d="M1407.8 1842.9a3.3 1.8 0 1 0 6.6 0a3.3 1.8 0 1 0-6.6 0zM1407.8 1846.6a3.3 1.8 0 1 0 6.6 0a3.3 1.8 0 1 0-6.6 0zM1407.8 1885.1a3.3 1.8 0 1 0 6.6 0a3.3 1.8 0 1 0-6.6 0zM1407.8 1885.9a3.3 1.8 0 1 0 6.6 0a3.3 1.8 0 1 0-6.6 0z"/>
<path class="dk" d="M1409.9 2045.9h2.4v2.4h-2.4zM1409.9 2026.3h2.4v2.4h-2.4zM1409.9 2006.7h2.4v2.4h-2.4zM1409.9 1987.1h2.4v2.4h-2.4zM1409.9 1967.5h2.4v2.4h-2.4zM1408.5 1954.5h5.2l-2.6 3.2zM1409.9 2164.8h2.4v2.4h-2.4zM1409.9 2184.4h2.4v2.4h-2.4zM1409.9 2204.0h2.4v2.4h-2.4zM1409.9 2223.6h2.4v2.4h-2.4zM1409.9 2243.2h2.4v2.4h-2.4zM1408.3 2260.4h5.6v2.2h-5.6z"/>
<rect class="bx c4" x="1407.35" y="2059.7" width="7.45" height="93.6"/>
<rect class="dk" x="1407.35" y="2103.0" width="7.45" height="3"/>
<ellipse class="el c4" cx="1411.07" cy="2087.7" rx="17.40" ry="9.15"/>
<path class="dk" d="M1420.1 2011.2h2.4v2.4h-2.4zM1420.1 1991.6h2.4v2.4h-2.4zM1418.7 1985.5h5.2l-2.6 3.2zM1418.5 2064.2h5.6v2.2h-5.6z"/>
<rect class="bx c5" x="1417.57" y="2025.0" width="7.45" height="25.2"/>
<ellipse class="el c5" cx="1421.29" cy="2036.1" rx="17.40" ry="9.15"/>
<path class="dk" d="M1430.3 1677.4h2.4v2.4h-2.4zM1430.3 1657.8h2.4v2.4h-2.4zM1430.3 1638.2h2.4v2.4h-2.4zM1428.9 1616.6h5.2l-2.6 3.2zM1430.3 1767.5h2.4v2.4h-2.4zM1430.3 1787.1h2.4v2.4h-2.4zM1428.7 1807.4h5.6v2.2h-5.6z"/>
<rect class="bx c6" x="1427.79" y="1691.2" width="7.45" height="64.8"/>
<ellipse class="el c6" cx="1431.51" cy="1718.8" rx="17.40" ry="9.15"/>
<path class="gr" d="M1482.2 2123.2a3.3 1.8 0 1 0 6.6 0a3.3 1.8 0 1 0-6.6 0zM1482.2 2127.6a3.3 1.8 0 1 0 6.6 0a3.3 1.8 0 1 0-6.6 0zM1482.2 2131.9a3.3 1.8 0 1 0 6.6 0a3.3 1.8 0 1 0-6.6 0zM1482.2 2136.3a3.3 1.8 0 1 0 6.6 0a3.3 1.8 0 1 0-6.6 0z"/>
<path class="dk" d="M1484.2 1872.1h2.4v2.4h-2.4zM1482.9 1864.0h5.2l-2.6 3.2zM1484.2 1982.4h2.4v2.4h-2.4zM1484.2 2002.0h2.4v2.4h-2.4zM1484.2 2021.6h2.4v2.4h-2.4zM1484.2 2041.2h2.4v2.4h-2.4zM1484.2 2060.8h2.4v2.4h-2.4zM1484.2 2080.4h2.4v2.4h-2.4zM1482.7 2103.4h5.6v2.2h-5.6z"/>
<rect class="bx cp" x="1481.73" y="1885.9" width="7.45" height="85.1"/>
<ellipse class="el cp" cx="1485.45" cy="1921.4" rx="17.40" ry="9.15"/>
<path class="gr" d="M1492.4 1734.5a3.3 1.8 0 1 0 6.6 0a3.3 1.8 0 1 0-6.6 0zM1492.4 1736.4a3.3 1.8 0 1 0 6.6 0a3.3 1.8 0 1 0-6.6 0zM1492.4 1760.7a3.3 1.8 0 1 0 6.6 0a3.3 1.8 0 1 0-6.6 0zM1492.4 1766.3a3.3 1.8 0 1 0 6.6 0a3.3 1.8 0 1 0-6.6 0zM1492.4 1771.9a3.3 1.8 0 1 0 6.6 0a3.3 1.8 0 1 0-6.6 0zM1492.4 1785.0a3.3 1.8 0 1 0 6.6 0a3.3 1.8 0 1 0-6.6 0zM1492.4 1792.4a3.3 1.8 0 1 0 6.6 0a3.3 1.8 0 1 0-6.6 0zM1492.4 1807.4a3.3 1.8 0 1 0 6.6 0a3.3 1.8 0 1 0-6.6 0zM1492.4 1812.5a3.3 1.8 0 1 0 6.6 0a3.3 1.8 0 1 0-6.6 0zM1492.4 1817.7a3.3 1.8 0 1 0 6.6 0a3.3 1.8 0 1 0-6.6 0zM1492.4 1822.8a3.3 1.8 0 1 0 6.6 0a3.3 1.8 0 1 0-6.6 0zM1492.4 1827.9a3.3 1.8 0 1 0 6.6 0a3.3 1.8 0 1 0-6.6 0zM1492.4 1837.3a3.3 1.8 0 1 0 6.6 0a3.3 1.8 0 1 0-6.6 0zM1492.4 1842.4a3.3 1.8 0 1 0 6.6 0a3.3 1.8 0 1 0-6.6 0zM1492.4 1847.5a3.3 1.8 0 1 0 6.6 0a3.3 1.8 0 1 0-6.6 0zM1492.4 1852.7a3.3 1.8 0 1 0 6.6 0a3.3 1.8 0 1 0-6.6 0zM1492.4 1857.8a3.3 1.8 0 1 0 6.6 0a3.3 1.8 0 1 0-6.6 0z"/>
<rect class="bx cm" x="1491.95" y="1875.5" width="7.45" height="26.4"/>
<rect class="dk" x="1491.95" y="1899.3" width="7.45" height="3"/>
<ellipse class="el cm" cx="1495.67" cy="1878.4" rx="17.40" ry="9.15"/>
<path class="dk" d="M1504.7 1674.8h2.4v2.4h-2.4zM1504.7 1655.2h2.4v2.4h-2.4zM1504.7 1635.6h2.4v2.4h-2.4zM1504.7 1616.0h2.4v2.4h-2.4zM1504.7 1596.4h2.4v2.4h-2.4zM1503.3 1583.7h5.2l-2.6 3.2zM1504.7 1828.1h2.4v2.4h-2.4zM1504.7 1847.7h2.4v2.4h-2.4zM1503.1 1858.6h5.6v2.2h-5.6z"/>
<rect class="bx cb" x="1502.17" y="1688.6" width="7.45" height="128.1"/>
<rect class="dk" x="1502.17" y="1775.2" width="7.45" height="3"/>
<ellipse class="el cb" cx="1505.89" cy="1750.6" rx="17.40" ry="9.15"/>
<path class="dk" d="M1513.5 1979.9h5.2l-2.6 3.2zM1514.9 2054.6h2.4v2.4h-2.4zM1514.9 2074.2h2.4v2.4h-2.4zM1514.9 2093.8h2.4v2.4h-2.4zM1514.9 2113.4h2.4v2.4h-2.4zM1513.3 2118.4h5.6v2.2h-5.6z"/>
<rect class="bx co" x="1512.39" y="1988.3" width="7.45" height="54.9"/>
<ellipse class="el co" cx="1516.11" cy="2015.9" rx="17.40" ry="9.15"/>
<path class="dk" d="M1523.7 1965.7h5.2l-2.6 3.2zM1525.1 2034.8h2.4v2.4h-2.4zM1525.1 2054.4h2.4v2.4h-2.4zM1523.5 2077.3h5.6v2.2h-5.6z"/>
<rect class="bx c1" x="1522.61" y="1977.1" width="7.45" height="46.3"/>
<rect class="dk" x="1522.61" y="1987.2" width="7.45" height="3"/>
<ellipse class="el c1" cx="1526.33" cy="1999.9" rx="17.40" ry="9.15"/>
<path class="dk" d="M1534.0 1897.7h5.2l-2.6 3.2zM1533.8 1933.4h5.6v2.2h-5.6z"/>
<rect class="bx c2" x="1532.83" y="1907.2" width="7.45" height="15.9"/>
<rect class="dk" x="1532.83" y="1922.5" width="7.45" height="3"/>
<ellipse class="el c2" cx="1536.55" cy="1913.2" rx="17.40" ry="9.15"/>
<rect class="bx c3" x="1543.05" y="2229.8" width="7.45" height="32.8"/>
<ellipse class="el c3" cx="1546.77" cy="2238.0" rx="17.40" ry="9.15"/>
<path class="dk" d="M1555.8 2173.8h2.4v2.4h-2.4zM1554.4 2169.4h5.2l-2.6 3.2z"/>
<rect class="bx c4" x="1553.27" y="2187.6" width="7.45" height="74.9"/>
<rect class="dk" x="1553.27" y="2202.1" width="7.45" height="3"/>
<ellipse class="el c4" cx="1556.99" cy="2216.7" rx="17.40" ry="9.15"/>
<path class="dk" d="M1564.6 1978.8h5.2l-2.6 3.2zM1566.0 2072.9h2.4v2.4h-2.4zM1566.0 2092.5h2.4v2.4h-2.4zM1566.0 2112.1h2.4v2.4h-2.4zM1566.0 2131.7h2.4v2.4h-2.4zM1566.0 2151.3h2.4v2.4h-2.4zM1564.4 2159.5h5.6v2.2h-5.6z"/>
<rect class="bx c5" x="1563.49" y="1989.5" width="7.45" height="72.0"/>
<rect class="dk" x="1563.49" y="1994.6" width="7.45" height="3"/>
<ellipse class="el c5" cx="1567.21" cy="2024.9" rx="17.40" ry="9.15"/>
<path class="dk" d="M1576.2 1923.3h2.4v2.4h-2.4zM1576.2 1903.7h2.4v2.4h-2.4zM1574.8 1890.2h5.2l-2.6 3.2zM1576.2 1991.8h2.4v2.4h-2.4zM1574.6 2003.6h5.6v2.2h-5.6z"/>
<rect class="bx c6" x="1573.71" y="1937.1" width="7.45" height="43.3"/>
<rect class="dk" x="1573.71" y="1966.6" width="7.45" height="3"/>
<ellipse class="el c6" cx="1577.43" cy="1957.6" rx="17.40" ry="9.15"/></g>
</svg></body></html>
